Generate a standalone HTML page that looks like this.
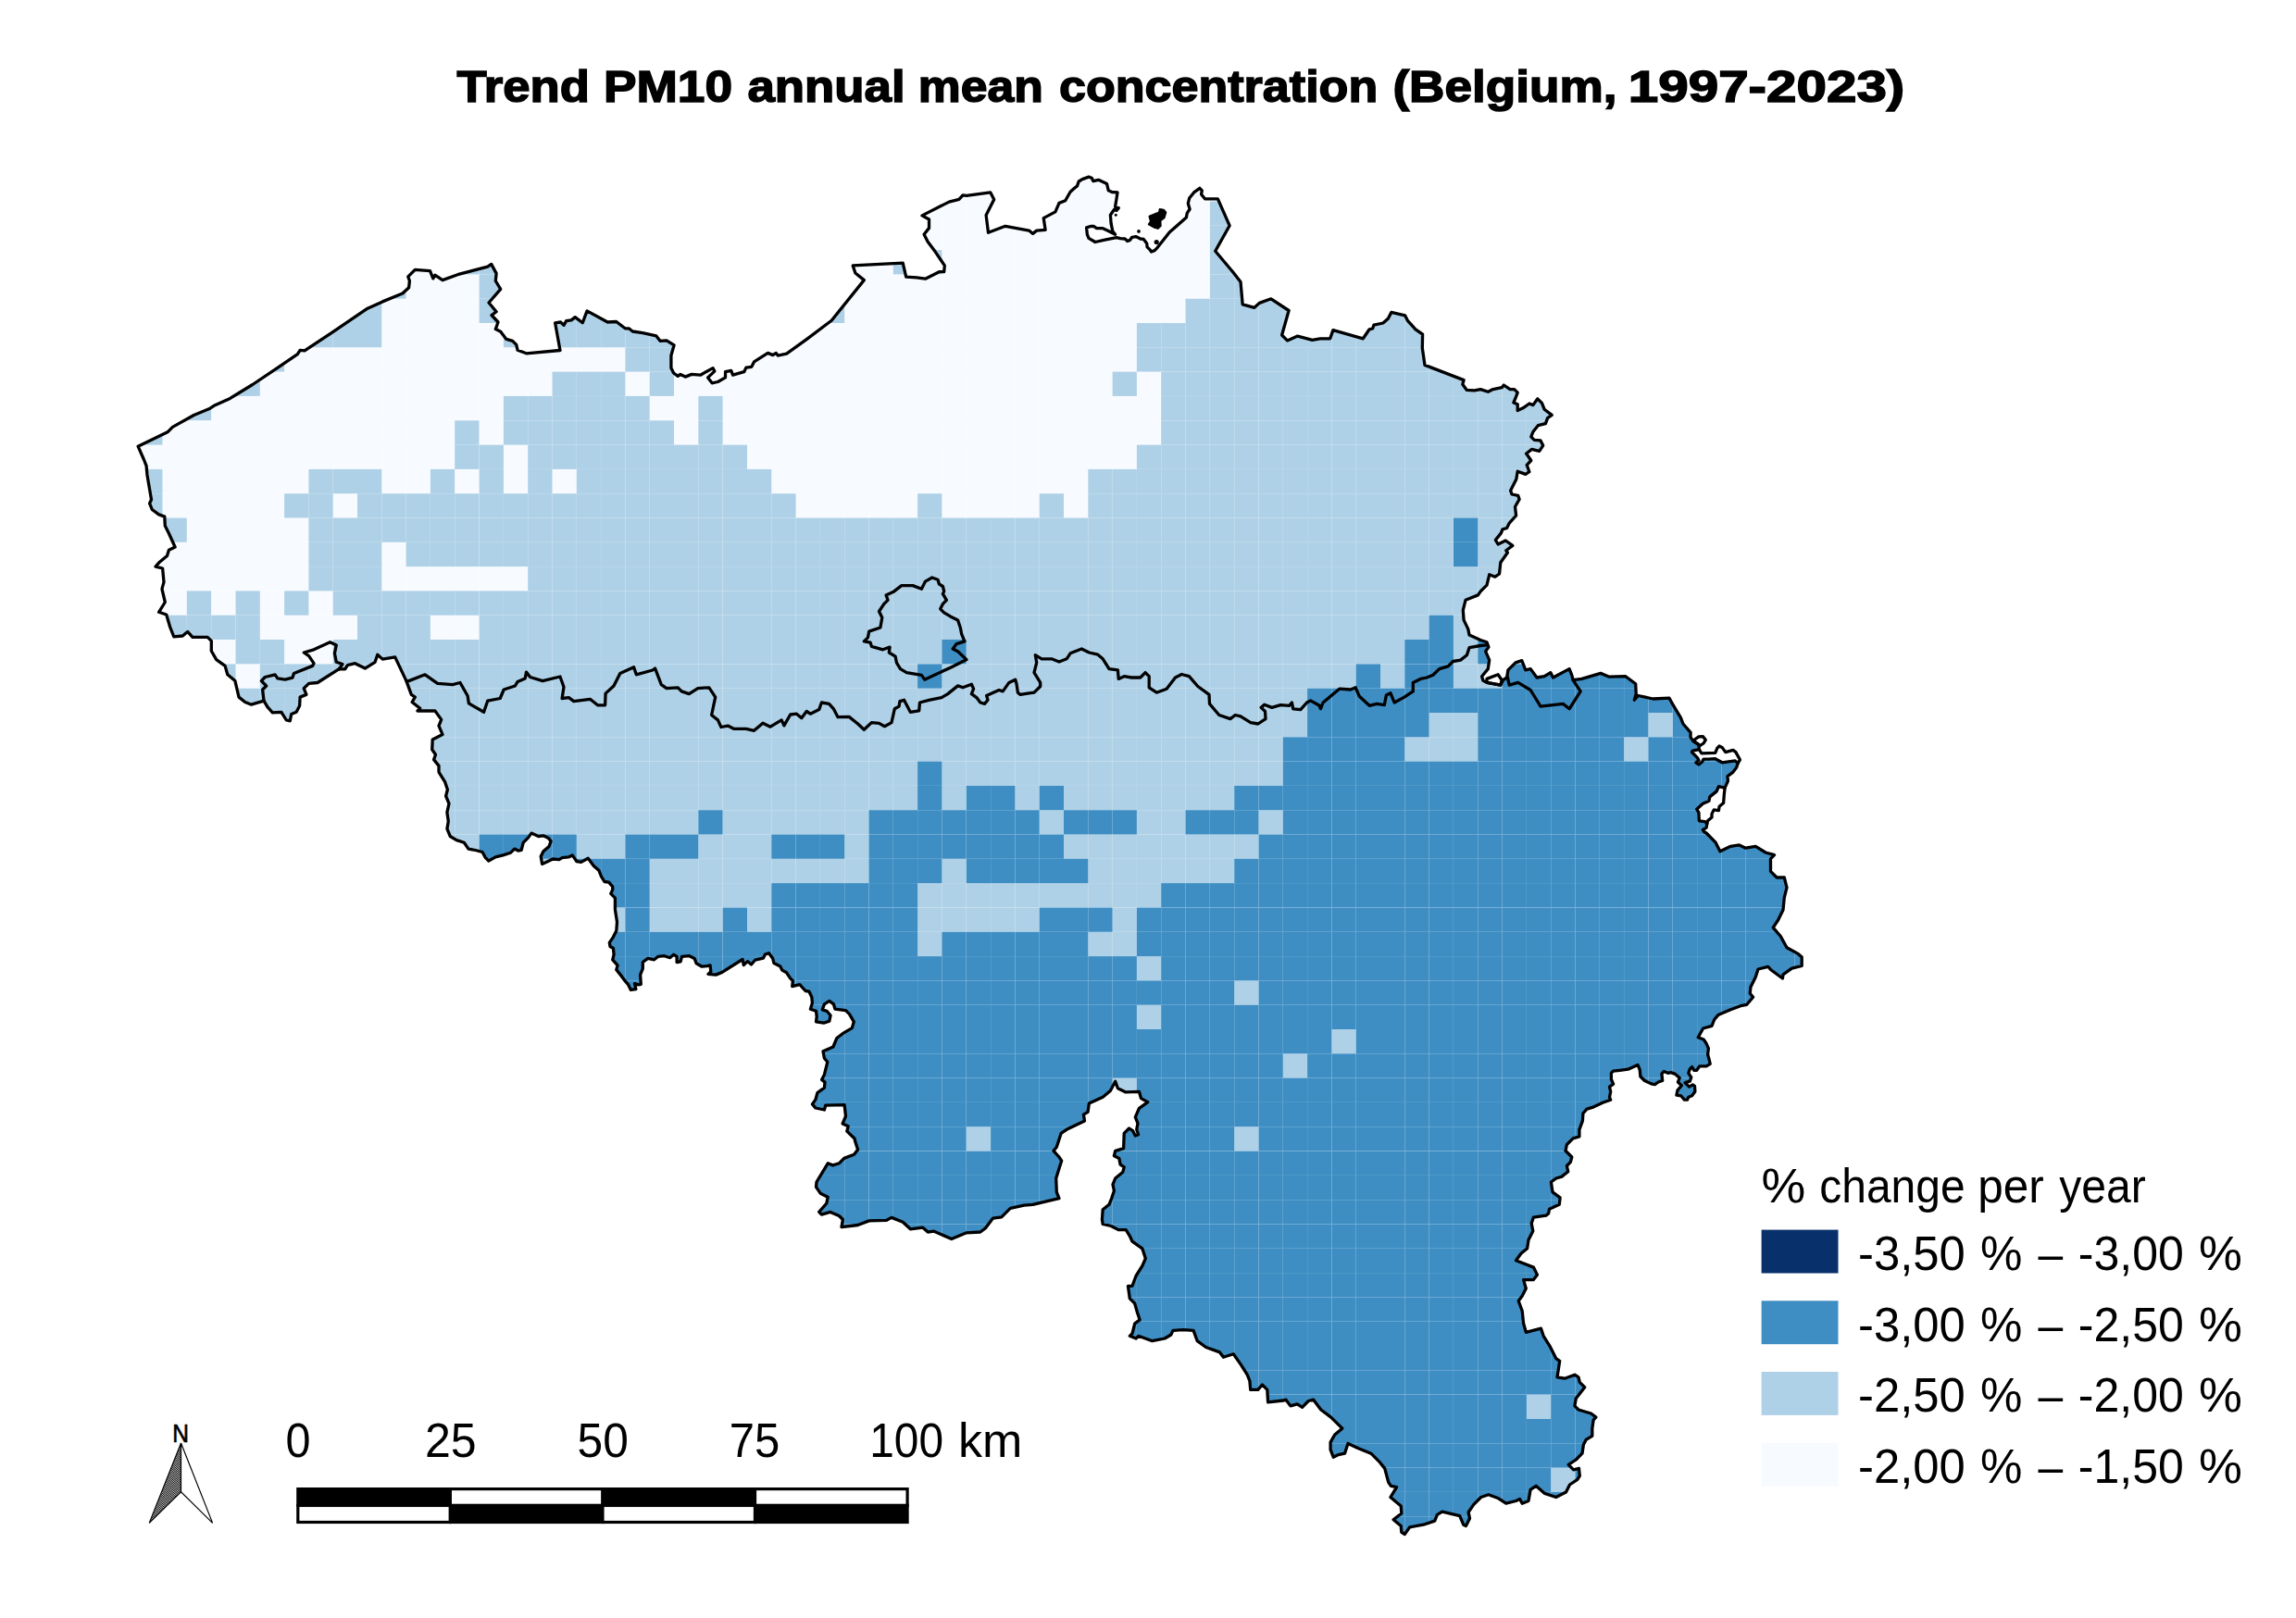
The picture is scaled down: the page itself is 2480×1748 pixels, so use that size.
<!DOCTYPE html>
<html><head><meta charset="utf-8"><title>Trend PM10 annual mean concentration (Belgium, 1997-2023)</title>
<style>html,body{margin:0;padding:0;background:#fff}svg{display:block}text{font-family:"Liberation Sans",sans-serif;fill:#000}</style>
</head><body>
<svg width="2480" height="1748" viewBox="0 0 2480 1748">
<rect width="2480" height="1748" fill="#fff"/>
<defs><clipPath id="be"><path d="M149.1,482.2 155.4,496.5 158.1,503.3 158.9,512.7 163.5,539.7 161.6,543.8 164.3,550.5 171.6,555.9 177.8,558.1 178.3,568.1 182.4,576.2 189.1,591.0 182.4,594.3 180.5,600.5 172.4,607.2 168.0,612.1 175.6,614.0 177.0,628.9 175.1,635.6 175.1,637.0 178.3,650.5 171.6,661.3 179.7,664.0 183.7,677.5 187.8,687.8 197.2,687.0 202.6,682.4 208.0,688.3 224.2,688.3 228.3,692.4 228.3,703.2 233.7,712.6 243.1,719.4 245.8,728.8 253.9,735.6 258.0,753.1 264.7,758.5 271.5,761.2 285.0,757.2 289.0,763.9 294.4,769.9 303.9,769.3 309.3,778.0 313.3,778.8 314.7,771.5 320.1,769.3 323.6,762.6 324.1,753.1 330.9,750.4 328.2,743.7 333.6,738.3 343.0,737.5 366.0,722.9 372.7,722.9 375.4,718.6 383.5,716.7 394.3,722.1 405.1,715.3 407.8,707.2 413.2,712.1 426.7,709.9 438.9,735.6 444.3,750.4 448.3,753.1 445.1,758.5 453.7,765.3 451.0,768.0 469.9,768.0 476.7,777.4 474.0,784.2 478.0,793.6 467.2,799.0 466.7,809.8 470.5,815.2 468.6,820.6 474.0,827.4 474.0,834.1 480.7,844.9 483.4,853.0 481.6,860.0 485.0,868.2 482.9,877.7 484.3,887.2 482.9,895.4 486.3,903.5 493.1,907.6 501.3,910.3 506.0,917.1 513.5,918.5 521.0,920.5 524.4,926.6 527.8,930.0 535.3,925.9 543.4,923.9 551.6,921.2 555.7,917.1 559.7,919.1 563.1,918.5 565.2,910.3 570.6,904.9 574.0,900.1 581.5,903.5 586.9,902.8 592.4,905.5 595.1,908.9 593.0,914.4 586.9,919.8 584.2,925.3 585.6,933.4 593.0,930.0 597.1,928.0 603.9,928.7 607.3,926.6 614.1,925.9 618.2,923.9 623.0,930.7 627.7,931.4 635.2,927.3 641.3,935.5 646.8,940.2 649.5,947.0 652.9,952.5 657.6,953.1 661.7,957.9 661.7,961.3 659.7,965.4 664.4,970.1 664.4,982.4 666.5,996.0 665.8,1005.5 662.4,1012.3 658.3,1018.4 659.0,1022.5 662.4,1024.5 663.1,1031.3 661.7,1036.8 667.1,1042.9 665.8,1047.6 671.2,1054.4 675.3,1059.9 678.7,1063.9 681.4,1069.4 686.9,1068.7 685.5,1062.6 689.6,1063.9 692.3,1063.3 691.6,1053.1 694.3,1046.3 694.3,1039.5 699.8,1035.4 706.6,1036.8 710.7,1033.4 717.5,1032.7 723.6,1034.7 727.7,1031.3 731.1,1033.4 731.1,1039.5 735.1,1038.8 736.5,1033.4 744.6,1032.7 750.1,1035.4 752.1,1040.8 758.2,1044.2 763.7,1043.6 767.1,1042.9 767.8,1049.7 765.0,1052.4 773.2,1053.1 780.0,1050.4 802.0,1036.5 803.3,1042.6 807.4,1038.6 811.5,1042.0 815.6,1037.2 824.4,1035.2 826.4,1031.1 830.5,1029.7 834.6,1035.2 836.0,1040.6 842.8,1044.0 844.8,1048.1 849.6,1050.8 853.6,1056.9 856.4,1059.6 855.7,1065.7 863.8,1063.7 870.0,1070.5 874.0,1071.2 876.8,1077.3 877.4,1083.4 875.4,1090.2 881.5,1092.3 882.2,1098.4 881.5,1103.8 889.7,1105.2 895.8,1103.1 897.1,1097.0 893.1,1092.3 888.3,1090.9 890.4,1084.8 895.8,1081.4 900.5,1084.8 901.9,1090.2 913.5,1091.6 917.5,1095.7 922.3,1103.8 920.3,1110.6 910.1,1116.7 903.9,1121.5 899.9,1131.0 889.0,1135.8 890.4,1143.2 893.8,1147.3 890.4,1160.9 887.6,1166.4 891.0,1169.1 890.4,1175.2 882.9,1180.6 880.8,1188.1 877.4,1192.9 880.8,1197.0 890.4,1199.0 891.7,1194.2 912.1,1193.6 913.5,1205.8 910.1,1213.9 916.2,1216.7 914.8,1222.1 923.0,1230.0 923.9,1233.8 926.6,1241.9 922.5,1247.3 911.7,1251.4 906.3,1256.8 899.6,1258.9 894.2,1256.8 882.0,1277.0 881.5,1282.4 886.1,1289.2 894.2,1293.2 892.8,1300.0 884.7,1309.4 887.4,1312.1 896.9,1309.4 906.3,1313.5 910.4,1317.5 909.0,1325.6 926.6,1323.5 938.7,1318.9 957.6,1318.3 963.0,1315.4 975.2,1320.2 983.3,1327.8 996.8,1326.2 1002.2,1331.0 1008.9,1330.2 1027.8,1338.6 1044.0,1331.8 1058.9,1331.0 1064.3,1327.0 1072.4,1316.2 1081.8,1314.8 1091.3,1305.4 1106.1,1302.1 1115.6,1301.3 1144.0,1294.6 1141.3,1287.8 1140.7,1273.0 1144.5,1260.8 1146.7,1254.1 1144.0,1250.0 1138.0,1243.3 1141.3,1239.2 1146.1,1224.4 1152.1,1220.3 1171.5,1210.9 1170.4,1204.1 1175.0,1201.4 1176.4,1192.0 1191.2,1185.2 1199.3,1178.5 1204.7,1168.2 1207.4,1175.8 1215.5,1179.8 1230.4,1179.3 1232.5,1186.6 1239.8,1190.6 1230.4,1197.4 1226.3,1206.8 1229.0,1213.6 1227.7,1220.3 1229.6,1225.7 1226.3,1227.1 1223.6,1221.7 1219.6,1219.0 1214.2,1224.4 1213.6,1240.6 1204.7,1243.3 1203.4,1248.7 1208.8,1251.4 1210.1,1258.1 1214.2,1260.8 1212.8,1266.2 1204.7,1273.0 1202.0,1279.7 1203.4,1286.5 1200.7,1294.6 1198.0,1301.3 1191.2,1306.7 1190.4,1317.5 1191.2,1322.4 1200.0,1324.5 1208.1,1328.6 1216.2,1328.6 1220.3,1335.3 1223.0,1341.2 1233.8,1348.8 1237.3,1359.6 1233.8,1367.7 1227.0,1378.5 1223.0,1389.3 1218.4,1389.3 1220.3,1402.8 1225.7,1408.2 1228.4,1417.7 1231.1,1425.8 1225.7,1429.8 1223.0,1440.6 1220.3,1443.3 1227.0,1446.0 1229.7,1443.3 1244.6,1448.7 1258.1,1446.0 1264.8,1442.0 1267.0,1437.4 1278.3,1436.6 1289.1,1437.4 1293.2,1448.7 1302.6,1455.5 1317.5,1460.9 1321.5,1466.3 1332.3,1462.8 1340.4,1474.4 1347.2,1485.2 1349.9,1491.9 1350.7,1501.4 1358.8,1501.4 1363.4,1496.0 1368.8,1501.4 1369.6,1514.9 1386.3,1513.0 1389.0,1512.2 1393.9,1518.9 1401.2,1516.8 1406.6,1520.3 1413.3,1513.5 1418.7,1512.2 1426.8,1523.0 1437.6,1531.1 1449.8,1543.2 1441.7,1550.0 1437.1,1558.1 1437.1,1566.2 1440.3,1574.3 1445.7,1571.6 1452.5,1570.2 1456.0,1559.4 1467.3,1564.8 1480.8,1570.2 1490.3,1579.7 1495.7,1586.4 1499.7,1601.3 1502.4,1605.3 1508.6,1606.7 1501.9,1617.5 1513.2,1626.9 1513.8,1635.0 1505.1,1641.8 1513.2,1648.5 1513.8,1655.3 1517.3,1657.5 1522.7,1649.9 1537.5,1647.2 1549.7,1643.1 1552.4,1636.4 1557.8,1633.2 1576.7,1637.7 1580.7,1647.2 1583.4,1648.5 1587.5,1640.4 1586.1,1633.7 1591.6,1625.6 1599.7,1617.5 1607.8,1614.8 1618.6,1618.8 1626.7,1624.2 1637.5,1621.5 1641.5,1619.4 1644.2,1624.2 1651.0,1621.5 1653.1,1609.4 1659.1,1605.3 1668.5,1613.4 1680.7,1617.5 1691.5,1612.1 1695.5,1604.0 1703.6,1598.6 1706.3,1594.5 1705.5,1586.4 1699.6,1587.8 1694.2,1582.4 1702.3,1577.0 1709.0,1570.2 1710.4,1560.8 1713.1,1555.4 1719.8,1551.3 1719.8,1543.2 1721.2,1533.8 1723.9,1531.1 1718.5,1527.0 1705.0,1523.0 1700.9,1518.9 1702.3,1510.8 1711.7,1498.7 1706.3,1493.3 1705.0,1487.9 1700.9,1485.2 1690.1,1489.2 1682.0,1487.9 1684.7,1470.3 1680.7,1467.6 1673.9,1454.1 1667.2,1443.3 1664.5,1435.2 1648.3,1439.3 1645.6,1429.8 1644.2,1416.3 1640.2,1405.5 1644.2,1400.1 1648.3,1392.0 1645.6,1382.6 1656.4,1382.6 1660.4,1377.2 1656.4,1369.1 1637.5,1361.8 1642.9,1354.2 1649.6,1348.8 1651.0,1339.4 1655.8,1329.9 1654.2,1321.8 1656.4,1315.1 1669.9,1313.2 1672.6,1311.0 1673.5,1306.2 1684.3,1301.3 1685.1,1293.8 1677.0,1287.8 1675.4,1277.0 1680.8,1273.0 1687.0,1271.1 1693.7,1265.7 1692.4,1259.5 1696.4,1255.4 1697.8,1250.0 1691.0,1243.3 1692.4,1236.5 1699.1,1229.8 1705.9,1227.9 1705.9,1220.3 1709.4,1210.9 1709.9,1202.8 1714.0,1198.2 1720.0,1196.4 1731.1,1191.2 1739.7,1188.2 1738.5,1185.3 1739.7,1179.3 1738.5,1174.1 1742.6,1171.2 1740.4,1166.0 1740.4,1159.3 1742.3,1157.1 1749.7,1156.3 1758.6,1155.2 1764.5,1152.6 1769.0,1150.4 1771.2,1155.6 1771.9,1163.0 1776.4,1167.5 1784.5,1171.2 1787.5,1171.6 1791.2,1169.0 1795.7,1167.5 1794.9,1160.1 1797.1,1157.5 1801.6,1159.3 1804.6,1158.6 1809.0,1160.1 1814.2,1164.5 1812.4,1169.0 1816.4,1172.7 1812.0,1177.9 1810.9,1183.1 1815.7,1183.8 1819.4,1188.2 1822.4,1188.2 1823.8,1185.3 1827.6,1183.8 1830.9,1179.3 1830.5,1173.4 1828.3,1171.9 1824.6,1174.1 1820.1,1169.7 1825.3,1168.2 1826.8,1163.8 1823.8,1159.3 1825.3,1154.9 1827.6,1152.6 1829.8,1156.3 1832.7,1156.3 1835.7,1151.9 1843.1,1151.9 1847.2,1149.3 1846.1,1144.5 1844.6,1139.3 1845.4,1132.6 1843.1,1127.4 1840.2,1123.0 1834.2,1120.7 1839.6,1111.0 1849.0,1108.3 1851.7,1101.5 1855.8,1096.6 1869.3,1090.7 1880.1,1086.7 1886.8,1085.3 1893.6,1077.2 1890.3,1073.2 1890.9,1066.4 1896.3,1055.6 1899.0,1047.0 1909.8,1044.3 1912.5,1047.5 1925.4,1057.0 1926.0,1052.9 1935.4,1046.2 1946.2,1043.5 1946.2,1034.0 1942.2,1030.4 1930.0,1023.7 1923.3,1011.5 1915.2,1002.1 1920.6,994.0 1926.0,983.1 1927.3,969.6 1930.0,958.8 1927.3,948.0 1919.2,948.0 1912.5,941.3 1912.5,927.8 1916.5,923.7 1907.1,921.0 1896.3,914.3 1885.5,916.2 1878.7,912.9 1869.3,914.3 1857.9,919.7 1853.1,910.2 1843.1,900.0 1840.8,898.7 1839.3,896.5 1843.1,894.2 1843.8,889.8 1841.6,887.6 1835.3,886.8 1834.9,877.9 1832.7,874.2 1839.3,868.3 1846.0,865.3 1846.8,860.9 1854.2,854.9 1856.4,849.7 1863.1,851.2 1866.4,843.8 1866.0,838.6 1872.0,834.1 1875.7,829.0 1877.2,824.5 1874.2,821.9 1860.1,823.8 1852.7,819.7 1845.3,820.1 1840.1,820.1 1838.6,823.0 1834.9,826.0 1831.9,823.8 1834.9,821.5 1833.4,818.6 1827.5,812.6 1828.2,811.2 1835.3,809.7 1834.9,804.5 1829.0,800.8 1826.0,796.3 1826.1,791.4 1818.0,782.0 1815.3,775.2 1807.2,761.7 1803.1,754.2 1785.6,755.0 1769.4,751.5 1765.3,756.3 1767.2,749.6 1766.7,738.8 1755.9,730.7 1738.3,731.2 1728.9,727.4 1708.6,733.4 1699.1,734.7 1697.8,729.3 1695.1,722.6 1677.5,732.0 1674.8,726.6 1668.1,730.7 1660.0,732.0 1653.2,722.6 1647.8,723.9 1643.8,713.7 1637.0,715.8 1628.9,723.9 1627.6,732.0 1623.5,734.7 1620.8,740.1 1606.0,737.4 1601.9,735.3 1600.6,730.7 1607.3,722.6 1608.7,713.1 1604.6,703.7 1607.9,699.1 1606.0,693.7 1599.2,691.5 1587.1,686.1 1585.7,679.4 1581.1,669.9 1580.3,659.1 1583.0,648.3 1596.5,642.9 1599.2,638.9 1606.0,632.1 1608.7,620.8 1614.9,623.2 1619.5,620.0 1620.8,607.8 1628.4,597.0 1626.8,594.8 1633.8,589.4 1626.2,584.0 1618.1,588.0 1615.4,583.4 1621.4,575.9 1623.0,571.8 1627.6,570.5 1630.3,565.1 1637.6,557.0 1636.5,547.5 1641.1,539.4 1639.7,535.3 1633.0,534.0 1631.6,529.9 1637.8,517.8 1639.2,509.2 1647.8,512.4 1651.9,509.7 1649.2,502.4 1653.8,497.5 1648.6,490.0 1654.6,485.4 1662.7,487.3 1666.7,481.3 1664.0,475.9 1657.3,475.4 1653.8,471.9 1655.9,466.5 1661.3,459.7 1669.4,457.6 1671.6,451.6 1676.2,448.4 1668.1,442.2 1665.4,435.4 1660.8,430.8 1655.9,437.6 1651.9,436.0 1645.1,440.8 1639.2,443.5 1639.2,436.8 1634.9,434.9 1637.0,430.0 1639.2,424.1 1635.7,420.6 1631.1,420.6 1624.3,416.0 1622.2,418.7 1612.7,420.6 1607.3,423.3 1599.2,420.6 1592.5,421.9 1584.4,421.4 1579.8,415.2 1581.1,410.6 1539.0,394.4 1536.3,376.0 1536.6,361.2 1529.0,355.8 1520.4,346.3 1517.7,340.9 1502.8,337.4 1499.3,344.2 1493.9,349.0 1483.9,351.2 1482.6,355.0 1479.1,355.8 1472.3,365.8 1439.9,356.6 1436.7,365.8 1425.9,365.8 1417.5,367.4 1401.6,363.1 1390.5,367.9 1384.6,362.0 1392.1,335.5 1372.9,322.8 1360.3,327.4 1354.9,332.3 1342.2,328.8 1340.0,304.5 1331.6,293.7 1312.7,271.3 1328.1,243.7 1315.4,214.8 1301.5,214.8 1297.6,210.0 1298.3,205.8 1295.9,203.3 1289.6,207.9 1284.7,214.1 1283.3,219.7 1285.1,226.0 1282.3,230.2 1281.3,235.1 1263.1,251.1 1249.9,267.8 1247.1,270.6 1243.6,272.0 1242.2,269.9 1239.1,266.8 1238.7,262.9 1235.3,258.4 1231.8,258.0 1226.9,255.6 1222.7,256.3 1220.6,259.4 1217.8,260.5 1215.1,258.0 1210.2,257.7 1206.0,256.7 1193.4,259.1 1183.0,261.5 1176.0,257.4 1174.3,253.2 1173.6,245.9 1178.1,244.5 1181.6,244.5 1184.4,246.6 1190.7,246.6 1196.2,249.0 1204.6,253.2 1201.8,249.7 1200.1,241.3 1199.4,232.3 1203.6,226.3 1206.0,227.4 1208.1,224.6 1204.6,223.2 1206.0,214.8 1207.0,207.9 1201.1,207.5 1197.3,205.8 1195.5,198.5 1186.5,194.3 1180.9,195.7 1179.2,192.2 1176.0,191.1 1169.1,193.6 1165.2,196.0 1163.5,200.9 1160.0,203.7 1156.1,207.3 1150.7,216.7 1144.0,219.4 1139.9,228.9 1127.2,235.6 1129.1,248.3 1119.7,249.1 1115.6,252.4 1111.6,249.1 1085.9,244.3 1067.5,251.3 1065.1,232.4 1073.7,215.4 1069.7,207.8 1044.0,211.3 1040.0,210.8 1035.9,215.4 1025.1,218.1 996.0,232.9 1003.5,237.0 1003.5,246.4 998.1,253.2 1002.2,261.3 1010.3,272.1 1020.3,286.9 1019.7,293.7 1014.3,293.7 999.5,301.2 990.0,299.9 978.7,299.1 975.2,284.2 921.2,286.9 923.9,295.0 933.3,302.6 898.2,346.3 871.2,366.6 849.6,382.2 840.2,384.1 838.3,381.4 834.8,383.6 829.4,381.4 814.5,390.9 811.8,396.3 805.9,397.1 803.7,401.7 791.6,405.2 789.7,400.3 783.5,401.7 783.5,407.9 775.4,412.5 769.1,413.8 764.6,407.9 771.8,401.1 770.0,397.6 756.5,405.2 747.0,404.4 740.3,407.1 734.9,404.4 732.2,406.3 727.6,403.0 724.9,397.6 724.9,384.1 728.1,372.8 720.0,367.9 713.0,368.3 708.9,362.9 694.1,359.6 683.3,358.0 679.2,354.8 675.2,354.8 665.7,347.5 656.3,348.0 634.1,335.9 632.0,341.3 629.3,348.8 621.2,342.6 617.1,345.9 611.7,346.7 609.0,351.3 605.5,348.0 599.6,348.8 605.0,378.5 568.5,381.8 559.1,378.3 557.7,372.3 553.7,368.3 546.9,366.4 540.7,358.3 535.3,355.6 538.0,348.0 531.0,340.5 536.1,336.7 528.0,327.0 540.7,312.4 535.3,303.5 536.1,295.4 530.7,285.4 526.7,288.1 494.3,296.7 478.0,302.6 469.9,297.2 467.8,300.8 464.5,292.7 448.3,291.3 440.8,298.9 442.4,303.5 441.6,310.7 434.8,317.0 413.2,325.9 397.0,333.2 359.2,358.8 329.0,378.8 324.1,378.3 321.4,382.6 299.8,397.4 272.8,415.5 248.5,430.4 232.3,437.7 226.9,441.2 209.4,448.5 186.4,461.4 181.0,466.8 149.1,482.2Z " clip-rule="evenodd"/></clipPath>
<pattern id="hatch" width="1.5" height="1.5" patternUnits="userSpaceOnUse" patternTransform="rotate(-35)"><rect width="1.5" height="1.5" fill="#fff"/><rect width="1.5" height="0.9" fill="#000"/></pattern>
</defs>
<g clip-path="url(#be)">
<g fill="#f7fbff"><rect x="1175.3" y="164.8" width="26.3" height="26.3"/><rect x="1017.4" y="191.2" width="26.3" height="26.3"/><rect x="1043.8" y="191.2" width="26.3" height="26.3"/><rect x="1070.1" y="191.2" width="26.3" height="26.3"/><rect x="1122.7" y="191.2" width="26.3" height="26.3"/><rect x="1149.0" y="191.2" width="26.3" height="26.3"/><rect x="1175.3" y="191.2" width="26.3" height="26.3"/><rect x="1201.6" y="191.2" width="26.3" height="26.3"/><rect x="1280.5" y="191.2" width="26.3" height="26.3"/><rect x="1306.9" y="191.2" width="26.3" height="26.3"/><rect x="991.1" y="217.5" width="26.3" height="26.3"/><rect x="1017.4" y="217.5" width="26.3" height="26.3"/><rect x="1043.8" y="217.5" width="26.3" height="26.3"/><rect x="1070.1" y="217.5" width="26.3" height="26.3"/><rect x="1122.7" y="217.5" width="26.3" height="26.3"/><rect x="1149.0" y="217.5" width="26.3" height="26.3"/><rect x="1175.3" y="217.5" width="26.3" height="26.3"/><rect x="1201.6" y="217.5" width="26.3" height="26.3"/><rect x="1254.2" y="217.5" width="26.3" height="26.3"/><rect x="1280.5" y="217.5" width="26.3" height="26.3"/><rect x="991.1" y="243.8" width="26.3" height="26.3"/><rect x="1017.4" y="243.8" width="26.3" height="26.3"/><rect x="1043.8" y="243.8" width="26.3" height="26.3"/><rect x="1070.1" y="243.8" width="26.3" height="26.3"/><rect x="1096.4" y="243.8" width="26.3" height="26.3"/><rect x="1122.7" y="243.8" width="26.3" height="26.3"/><rect x="1149.0" y="243.8" width="26.3" height="26.3"/><rect x="1175.3" y="243.8" width="26.3" height="26.3"/><rect x="1201.6" y="243.8" width="26.3" height="26.3"/><rect x="1227.9" y="243.8" width="26.3" height="26.3"/><rect x="1254.2" y="243.8" width="26.3" height="26.3"/><rect x="1280.5" y="243.8" width="26.3" height="26.3"/><rect x="438.6" y="270.1" width="26.3" height="26.3"/><rect x="464.9" y="270.1" width="26.3" height="26.3"/><rect x="912.2" y="270.1" width="26.3" height="26.3"/><rect x="938.5" y="270.1" width="26.3" height="26.3"/><rect x="1017.4" y="270.1" width="26.3" height="26.3"/><rect x="1043.8" y="270.1" width="26.3" height="26.3"/><rect x="1070.1" y="270.1" width="26.3" height="26.3"/><rect x="1096.4" y="270.1" width="26.3" height="26.3"/><rect x="1122.7" y="270.1" width="26.3" height="26.3"/><rect x="1149.0" y="270.1" width="26.3" height="26.3"/><rect x="1175.3" y="270.1" width="26.3" height="26.3"/><rect x="1201.6" y="270.1" width="26.3" height="26.3"/><rect x="1227.9" y="270.1" width="26.3" height="26.3"/><rect x="1254.2" y="270.1" width="26.3" height="26.3"/><rect x="1280.5" y="270.1" width="26.3" height="26.3"/><rect x="438.6" y="296.4" width="26.3" height="26.3"/><rect x="464.9" y="296.4" width="26.3" height="26.3"/><rect x="491.2" y="296.4" width="26.3" height="26.3"/><rect x="912.2" y="296.4" width="26.3" height="26.3"/><rect x="938.5" y="296.4" width="26.3" height="26.3"/><rect x="964.8" y="296.4" width="26.3" height="26.3"/><rect x="991.1" y="296.4" width="26.3" height="26.3"/><rect x="1017.4" y="296.4" width="26.3" height="26.3"/><rect x="1043.8" y="296.4" width="26.3" height="26.3"/><rect x="1070.1" y="296.4" width="26.3" height="26.3"/><rect x="1096.4" y="296.4" width="26.3" height="26.3"/><rect x="1122.7" y="296.4" width="26.3" height="26.3"/><rect x="1149.0" y="296.4" width="26.3" height="26.3"/><rect x="1175.3" y="296.4" width="26.3" height="26.3"/><rect x="1201.6" y="296.4" width="26.3" height="26.3"/><rect x="1227.9" y="296.4" width="26.3" height="26.3"/><rect x="1254.2" y="296.4" width="26.3" height="26.3"/><rect x="1280.5" y="296.4" width="26.3" height="26.3"/><rect x="412.3" y="322.7" width="26.3" height="26.3"/><rect x="438.6" y="322.7" width="26.3" height="26.3"/><rect x="464.9" y="322.7" width="26.3" height="26.3"/><rect x="491.2" y="322.7" width="26.3" height="26.3"/><rect x="912.2" y="322.7" width="26.3" height="26.3"/><rect x="938.5" y="322.7" width="26.3" height="26.3"/><rect x="964.8" y="322.7" width="26.3" height="26.3"/><rect x="991.1" y="322.7" width="26.3" height="26.3"/><rect x="1017.4" y="322.7" width="26.3" height="26.3"/><rect x="1043.8" y="322.7" width="26.3" height="26.3"/><rect x="1070.1" y="322.7" width="26.3" height="26.3"/><rect x="1096.4" y="322.7" width="26.3" height="26.3"/><rect x="1122.7" y="322.7" width="26.3" height="26.3"/><rect x="1149.0" y="322.7" width="26.3" height="26.3"/><rect x="1175.3" y="322.7" width="26.3" height="26.3"/><rect x="1201.6" y="322.7" width="26.3" height="26.3"/><rect x="1227.9" y="322.7" width="26.3" height="26.3"/><rect x="1254.2" y="322.7" width="26.3" height="26.3"/><rect x="412.3" y="349.0" width="26.3" height="26.3"/><rect x="438.6" y="349.0" width="26.3" height="26.3"/><rect x="464.9" y="349.0" width="26.3" height="26.3"/><rect x="491.2" y="349.0" width="26.3" height="26.3"/><rect x="517.6" y="349.0" width="26.3" height="26.3"/><rect x="728.0" y="349.0" width="26.3" height="26.3"/><rect x="833.3" y="349.0" width="26.3" height="26.3"/><rect x="859.6" y="349.0" width="26.3" height="26.3"/><rect x="885.9" y="349.0" width="26.3" height="26.3"/><rect x="912.2" y="349.0" width="26.3" height="26.3"/><rect x="938.5" y="349.0" width="26.3" height="26.3"/><rect x="964.8" y="349.0" width="26.3" height="26.3"/><rect x="991.1" y="349.0" width="26.3" height="26.3"/><rect x="1017.4" y="349.0" width="26.3" height="26.3"/><rect x="1043.8" y="349.0" width="26.3" height="26.3"/><rect x="1070.1" y="349.0" width="26.3" height="26.3"/><rect x="1096.4" y="349.0" width="26.3" height="26.3"/><rect x="1122.7" y="349.0" width="26.3" height="26.3"/><rect x="1149.0" y="349.0" width="26.3" height="26.3"/><rect x="1175.3" y="349.0" width="26.3" height="26.3"/><rect x="1201.6" y="349.0" width="26.3" height="26.3"/><rect x="307.1" y="375.3" width="26.3" height="26.3"/><rect x="333.4" y="375.3" width="26.3" height="26.3"/><rect x="359.7" y="375.3" width="26.3" height="26.3"/><rect x="386.0" y="375.3" width="26.3" height="26.3"/><rect x="412.3" y="375.3" width="26.3" height="26.3"/><rect x="438.6" y="375.3" width="26.3" height="26.3"/><rect x="464.9" y="375.3" width="26.3" height="26.3"/><rect x="491.2" y="375.3" width="26.3" height="26.3"/><rect x="517.6" y="375.3" width="26.3" height="26.3"/><rect x="543.9" y="375.3" width="26.3" height="26.3"/><rect x="570.2" y="375.3" width="26.3" height="26.3"/><rect x="596.5" y="375.3" width="26.3" height="26.3"/><rect x="622.8" y="375.3" width="26.3" height="26.3"/><rect x="649.1" y="375.3" width="26.3" height="26.3"/><rect x="754.3" y="375.3" width="26.3" height="26.3"/><rect x="780.7" y="375.3" width="26.3" height="26.3"/><rect x="807.0" y="375.3" width="26.3" height="26.3"/><rect x="833.3" y="375.3" width="26.3" height="26.3"/><rect x="859.6" y="375.3" width="26.3" height="26.3"/><rect x="885.9" y="375.3" width="26.3" height="26.3"/><rect x="912.2" y="375.3" width="26.3" height="26.3"/><rect x="938.5" y="375.3" width="26.3" height="26.3"/><rect x="964.8" y="375.3" width="26.3" height="26.3"/><rect x="991.1" y="375.3" width="26.3" height="26.3"/><rect x="1017.4" y="375.3" width="26.3" height="26.3"/><rect x="1043.8" y="375.3" width="26.3" height="26.3"/><rect x="1070.1" y="375.3" width="26.3" height="26.3"/><rect x="1096.4" y="375.3" width="26.3" height="26.3"/><rect x="1122.7" y="375.3" width="26.3" height="26.3"/><rect x="1149.0" y="375.3" width="26.3" height="26.3"/><rect x="1175.3" y="375.3" width="26.3" height="26.3"/><rect x="1201.6" y="375.3" width="26.3" height="26.3"/><rect x="280.8" y="401.6" width="26.3" height="26.3"/><rect x="307.1" y="401.6" width="26.3" height="26.3"/><rect x="333.4" y="401.6" width="26.3" height="26.3"/><rect x="359.7" y="401.6" width="26.3" height="26.3"/><rect x="386.0" y="401.6" width="26.3" height="26.3"/><rect x="412.3" y="401.6" width="26.3" height="26.3"/><rect x="438.6" y="401.6" width="26.3" height="26.3"/><rect x="464.9" y="401.6" width="26.3" height="26.3"/><rect x="491.2" y="401.6" width="26.3" height="26.3"/><rect x="517.6" y="401.6" width="26.3" height="26.3"/><rect x="543.9" y="401.6" width="26.3" height="26.3"/><rect x="570.2" y="401.6" width="26.3" height="26.3"/><rect x="675.4" y="401.6" width="26.3" height="26.3"/><rect x="728.0" y="401.6" width="26.3" height="26.3"/><rect x="754.3" y="401.6" width="26.3" height="26.3"/><rect x="780.7" y="401.6" width="26.3" height="26.3"/><rect x="807.0" y="401.6" width="26.3" height="26.3"/><rect x="833.3" y="401.6" width="26.3" height="26.3"/><rect x="859.6" y="401.6" width="26.3" height="26.3"/><rect x="885.9" y="401.6" width="26.3" height="26.3"/><rect x="912.2" y="401.6" width="26.3" height="26.3"/><rect x="938.5" y="401.6" width="26.3" height="26.3"/><rect x="964.8" y="401.6" width="26.3" height="26.3"/><rect x="991.1" y="401.6" width="26.3" height="26.3"/><rect x="1017.4" y="401.6" width="26.3" height="26.3"/><rect x="1043.8" y="401.6" width="26.3" height="26.3"/><rect x="1070.1" y="401.6" width="26.3" height="26.3"/><rect x="1096.4" y="401.6" width="26.3" height="26.3"/><rect x="1122.7" y="401.6" width="26.3" height="26.3"/><rect x="1149.0" y="401.6" width="26.3" height="26.3"/><rect x="1175.3" y="401.6" width="26.3" height="26.3"/><rect x="1227.9" y="401.6" width="26.3" height="26.3"/><rect x="228.2" y="427.9" width="26.3" height="26.3"/><rect x="254.5" y="427.9" width="26.3" height="26.3"/><rect x="280.8" y="427.9" width="26.3" height="26.3"/><rect x="307.1" y="427.9" width="26.3" height="26.3"/><rect x="333.4" y="427.9" width="26.3" height="26.3"/><rect x="359.7" y="427.9" width="26.3" height="26.3"/><rect x="386.0" y="427.9" width="26.3" height="26.3"/><rect x="412.3" y="427.9" width="26.3" height="26.3"/><rect x="438.6" y="427.9" width="26.3" height="26.3"/><rect x="464.9" y="427.9" width="26.3" height="26.3"/><rect x="491.2" y="427.9" width="26.3" height="26.3"/><rect x="517.6" y="427.9" width="26.3" height="26.3"/><rect x="701.7" y="427.9" width="26.3" height="26.3"/><rect x="728.0" y="427.9" width="26.3" height="26.3"/><rect x="780.7" y="427.9" width="26.3" height="26.3"/><rect x="807.0" y="427.9" width="26.3" height="26.3"/><rect x="833.3" y="427.9" width="26.3" height="26.3"/><rect x="859.6" y="427.9" width="26.3" height="26.3"/><rect x="885.9" y="427.9" width="26.3" height="26.3"/><rect x="912.2" y="427.9" width="26.3" height="26.3"/><rect x="938.5" y="427.9" width="26.3" height="26.3"/><rect x="964.8" y="427.9" width="26.3" height="26.3"/><rect x="991.1" y="427.9" width="26.3" height="26.3"/><rect x="1017.4" y="427.9" width="26.3" height="26.3"/><rect x="1043.8" y="427.9" width="26.3" height="26.3"/><rect x="1070.1" y="427.9" width="26.3" height="26.3"/><rect x="1096.4" y="427.9" width="26.3" height="26.3"/><rect x="1122.7" y="427.9" width="26.3" height="26.3"/><rect x="1149.0" y="427.9" width="26.3" height="26.3"/><rect x="1175.3" y="427.9" width="26.3" height="26.3"/><rect x="1201.6" y="427.9" width="26.3" height="26.3"/><rect x="1227.9" y="427.9" width="26.3" height="26.3"/><rect x="175.5" y="454.3" width="26.3" height="26.3"/><rect x="201.8" y="454.3" width="26.3" height="26.3"/><rect x="228.2" y="454.3" width="26.3" height="26.3"/><rect x="254.5" y="454.3" width="26.3" height="26.3"/><rect x="280.8" y="454.3" width="26.3" height="26.3"/><rect x="307.1" y="454.3" width="26.3" height="26.3"/><rect x="333.4" y="454.3" width="26.3" height="26.3"/><rect x="359.7" y="454.3" width="26.3" height="26.3"/><rect x="386.0" y="454.3" width="26.3" height="26.3"/><rect x="412.3" y="454.3" width="26.3" height="26.3"/><rect x="438.6" y="454.3" width="26.3" height="26.3"/><rect x="464.9" y="454.3" width="26.3" height="26.3"/><rect x="517.6" y="454.3" width="26.3" height="26.3"/><rect x="728.0" y="454.3" width="26.3" height="26.3"/><rect x="780.7" y="454.3" width="26.3" height="26.3"/><rect x="807.0" y="454.3" width="26.3" height="26.3"/><rect x="833.3" y="454.3" width="26.3" height="26.3"/><rect x="859.6" y="454.3" width="26.3" height="26.3"/><rect x="885.9" y="454.3" width="26.3" height="26.3"/><rect x="912.2" y="454.3" width="26.3" height="26.3"/><rect x="938.5" y="454.3" width="26.3" height="26.3"/><rect x="964.8" y="454.3" width="26.3" height="26.3"/><rect x="991.1" y="454.3" width="26.3" height="26.3"/><rect x="1017.4" y="454.3" width="26.3" height="26.3"/><rect x="1043.8" y="454.3" width="26.3" height="26.3"/><rect x="1070.1" y="454.3" width="26.3" height="26.3"/><rect x="1096.4" y="454.3" width="26.3" height="26.3"/><rect x="1122.7" y="454.3" width="26.3" height="26.3"/><rect x="1149.0" y="454.3" width="26.3" height="26.3"/><rect x="1175.3" y="454.3" width="26.3" height="26.3"/><rect x="1201.6" y="454.3" width="26.3" height="26.3"/><rect x="1227.9" y="454.3" width="26.3" height="26.3"/><rect x="122.9" y="480.6" width="26.3" height="26.3"/><rect x="149.2" y="480.6" width="26.3" height="26.3"/><rect x="175.5" y="480.6" width="26.3" height="26.3"/><rect x="201.8" y="480.6" width="26.3" height="26.3"/><rect x="228.2" y="480.6" width="26.3" height="26.3"/><rect x="254.5" y="480.6" width="26.3" height="26.3"/><rect x="280.8" y="480.6" width="26.3" height="26.3"/><rect x="307.1" y="480.6" width="26.3" height="26.3"/><rect x="333.4" y="480.6" width="26.3" height="26.3"/><rect x="359.7" y="480.6" width="26.3" height="26.3"/><rect x="386.0" y="480.6" width="26.3" height="26.3"/><rect x="412.3" y="480.6" width="26.3" height="26.3"/><rect x="438.6" y="480.6" width="26.3" height="26.3"/><rect x="464.9" y="480.6" width="26.3" height="26.3"/><rect x="543.9" y="480.6" width="26.3" height="26.3"/><rect x="807.0" y="480.6" width="26.3" height="26.3"/><rect x="833.3" y="480.6" width="26.3" height="26.3"/><rect x="859.6" y="480.6" width="26.3" height="26.3"/><rect x="885.9" y="480.6" width="26.3" height="26.3"/><rect x="912.2" y="480.6" width="26.3" height="26.3"/><rect x="938.5" y="480.6" width="26.3" height="26.3"/><rect x="964.8" y="480.6" width="26.3" height="26.3"/><rect x="991.1" y="480.6" width="26.3" height="26.3"/><rect x="1017.4" y="480.6" width="26.3" height="26.3"/><rect x="1043.8" y="480.6" width="26.3" height="26.3"/><rect x="1070.1" y="480.6" width="26.3" height="26.3"/><rect x="1096.4" y="480.6" width="26.3" height="26.3"/><rect x="1122.7" y="480.6" width="26.3" height="26.3"/><rect x="1149.0" y="480.6" width="26.3" height="26.3"/><rect x="1175.3" y="480.6" width="26.3" height="26.3"/><rect x="1201.6" y="480.6" width="26.3" height="26.3"/><rect x="175.5" y="506.9" width="26.3" height="26.3"/><rect x="201.8" y="506.9" width="26.3" height="26.3"/><rect x="228.2" y="506.9" width="26.3" height="26.3"/><rect x="254.5" y="506.9" width="26.3" height="26.3"/><rect x="280.8" y="506.9" width="26.3" height="26.3"/><rect x="307.1" y="506.9" width="26.3" height="26.3"/><rect x="412.3" y="506.9" width="26.3" height="26.3"/><rect x="438.6" y="506.9" width="26.3" height="26.3"/><rect x="491.2" y="506.9" width="26.3" height="26.3"/><rect x="543.9" y="506.9" width="26.3" height="26.3"/><rect x="596.5" y="506.9" width="26.3" height="26.3"/><rect x="833.3" y="506.9" width="26.3" height="26.3"/><rect x="859.6" y="506.9" width="26.3" height="26.3"/><rect x="885.9" y="506.9" width="26.3" height="26.3"/><rect x="912.2" y="506.9" width="26.3" height="26.3"/><rect x="938.5" y="506.9" width="26.3" height="26.3"/><rect x="964.8" y="506.9" width="26.3" height="26.3"/><rect x="991.1" y="506.9" width="26.3" height="26.3"/><rect x="1017.4" y="506.9" width="26.3" height="26.3"/><rect x="1043.8" y="506.9" width="26.3" height="26.3"/><rect x="1070.1" y="506.9" width="26.3" height="26.3"/><rect x="1096.4" y="506.9" width="26.3" height="26.3"/><rect x="1122.7" y="506.9" width="26.3" height="26.3"/><rect x="1149.0" y="506.9" width="26.3" height="26.3"/><rect x="175.5" y="533.2" width="26.3" height="26.3"/><rect x="201.8" y="533.2" width="26.3" height="26.3"/><rect x="228.2" y="533.2" width="26.3" height="26.3"/><rect x="254.5" y="533.2" width="26.3" height="26.3"/><rect x="280.8" y="533.2" width="26.3" height="26.3"/><rect x="359.7" y="533.2" width="26.3" height="26.3"/><rect x="859.6" y="533.2" width="26.3" height="26.3"/><rect x="885.9" y="533.2" width="26.3" height="26.3"/><rect x="912.2" y="533.2" width="26.3" height="26.3"/><rect x="938.5" y="533.2" width="26.3" height="26.3"/><rect x="964.8" y="533.2" width="26.3" height="26.3"/><rect x="1017.4" y="533.2" width="26.3" height="26.3"/><rect x="1043.8" y="533.2" width="26.3" height="26.3"/><rect x="1070.1" y="533.2" width="26.3" height="26.3"/><rect x="1096.4" y="533.2" width="26.3" height="26.3"/><rect x="1149.0" y="533.2" width="26.3" height="26.3"/><rect x="201.8" y="559.5" width="26.3" height="26.3"/><rect x="228.2" y="559.5" width="26.3" height="26.3"/><rect x="254.5" y="559.5" width="26.3" height="26.3"/><rect x="280.8" y="559.5" width="26.3" height="26.3"/><rect x="307.1" y="559.5" width="26.3" height="26.3"/><rect x="149.2" y="585.8" width="26.3" height="26.3"/><rect x="175.5" y="585.8" width="26.3" height="26.3"/><rect x="201.8" y="585.8" width="26.3" height="26.3"/><rect x="228.2" y="585.8" width="26.3" height="26.3"/><rect x="254.5" y="585.8" width="26.3" height="26.3"/><rect x="280.8" y="585.8" width="26.3" height="26.3"/><rect x="307.1" y="585.8" width="26.3" height="26.3"/><rect x="412.3" y="585.8" width="26.3" height="26.3"/><rect x="149.2" y="612.1" width="26.3" height="26.3"/><rect x="175.5" y="612.1" width="26.3" height="26.3"/><rect x="201.8" y="612.1" width="26.3" height="26.3"/><rect x="228.2" y="612.1" width="26.3" height="26.3"/><rect x="254.5" y="612.1" width="26.3" height="26.3"/><rect x="280.8" y="612.1" width="26.3" height="26.3"/><rect x="307.1" y="612.1" width="26.3" height="26.3"/><rect x="412.3" y="612.1" width="26.3" height="26.3"/><rect x="438.6" y="612.1" width="26.3" height="26.3"/><rect x="464.9" y="612.1" width="26.3" height="26.3"/><rect x="491.2" y="612.1" width="26.3" height="26.3"/><rect x="517.6" y="612.1" width="26.3" height="26.3"/><rect x="543.9" y="612.1" width="26.3" height="26.3"/><rect x="149.2" y="638.4" width="26.3" height="26.3"/><rect x="175.5" y="638.4" width="26.3" height="26.3"/><rect x="228.2" y="638.4" width="26.3" height="26.3"/><rect x="280.8" y="638.4" width="26.3" height="26.3"/><rect x="333.4" y="638.4" width="26.3" height="26.3"/><rect x="280.8" y="664.7" width="26.3" height="26.3"/><rect x="307.1" y="664.7" width="26.3" height="26.3"/><rect x="333.4" y="664.7" width="26.3" height="26.3"/><rect x="359.7" y="664.7" width="26.3" height="26.3"/><rect x="464.9" y="664.7" width="26.3" height="26.3"/><rect x="491.2" y="664.7" width="26.3" height="26.3"/><rect x="228.2" y="691.0" width="26.3" height="26.3"/><rect x="307.1" y="691.0" width="26.3" height="26.3"/><rect x="333.4" y="691.0" width="26.3" height="26.3"/><rect x="254.5" y="717.4" width="26.3" height="26.3"/></g>
<g fill="#afd1e7"><rect x="1306.9" y="217.5" width="26.3" height="26.3"/><rect x="1306.9" y="243.8" width="26.3" height="26.3"/><rect x="491.2" y="270.1" width="26.3" height="26.3"/><rect x="517.6" y="270.1" width="26.3" height="26.3"/><rect x="964.8" y="270.1" width="26.3" height="26.3"/><rect x="991.1" y="270.1" width="26.3" height="26.3"/><rect x="1306.9" y="270.1" width="26.3" height="26.3"/><rect x="1333.2" y="270.1" width="26.3" height="26.3"/><rect x="412.3" y="296.4" width="26.3" height="26.3"/><rect x="517.6" y="296.4" width="26.3" height="26.3"/><rect x="1306.9" y="296.4" width="26.3" height="26.3"/><rect x="1333.2" y="296.4" width="26.3" height="26.3"/><rect x="359.7" y="322.7" width="26.3" height="26.3"/><rect x="386.0" y="322.7" width="26.3" height="26.3"/><rect x="517.6" y="322.7" width="26.3" height="26.3"/><rect x="596.5" y="322.7" width="26.3" height="26.3"/><rect x="622.8" y="322.7" width="26.3" height="26.3"/><rect x="649.1" y="322.7" width="26.3" height="26.3"/><rect x="885.9" y="322.7" width="26.3" height="26.3"/><rect x="1280.5" y="322.7" width="26.3" height="26.3"/><rect x="1306.9" y="322.7" width="26.3" height="26.3"/><rect x="1333.2" y="322.7" width="26.3" height="26.3"/><rect x="1359.5" y="322.7" width="26.3" height="26.3"/><rect x="1385.8" y="322.7" width="26.3" height="26.3"/><rect x="1491.0" y="322.7" width="26.3" height="26.3"/><rect x="1517.3" y="322.7" width="26.3" height="26.3"/><rect x="333.4" y="349.0" width="26.3" height="26.3"/><rect x="359.7" y="349.0" width="26.3" height="26.3"/><rect x="386.0" y="349.0" width="26.3" height="26.3"/><rect x="543.9" y="349.0" width="26.3" height="26.3"/><rect x="596.5" y="349.0" width="26.3" height="26.3"/><rect x="622.8" y="349.0" width="26.3" height="26.3"/><rect x="649.1" y="349.0" width="26.3" height="26.3"/><rect x="675.4" y="349.0" width="26.3" height="26.3"/><rect x="701.7" y="349.0" width="26.3" height="26.3"/><rect x="1227.9" y="349.0" width="26.3" height="26.3"/><rect x="1254.2" y="349.0" width="26.3" height="26.3"/><rect x="1280.5" y="349.0" width="26.3" height="26.3"/><rect x="1306.9" y="349.0" width="26.3" height="26.3"/><rect x="1333.2" y="349.0" width="26.3" height="26.3"/><rect x="1359.5" y="349.0" width="26.3" height="26.3"/><rect x="1385.8" y="349.0" width="26.3" height="26.3"/><rect x="1412.1" y="349.0" width="26.3" height="26.3"/><rect x="1438.4" y="349.0" width="26.3" height="26.3"/><rect x="1464.7" y="349.0" width="26.3" height="26.3"/><rect x="1491.0" y="349.0" width="26.3" height="26.3"/><rect x="1517.3" y="349.0" width="26.3" height="26.3"/><rect x="280.8" y="375.3" width="26.3" height="26.3"/><rect x="675.4" y="375.3" width="26.3" height="26.3"/><rect x="701.7" y="375.3" width="26.3" height="26.3"/><rect x="1227.9" y="375.3" width="26.3" height="26.3"/><rect x="1254.2" y="375.3" width="26.3" height="26.3"/><rect x="1280.5" y="375.3" width="26.3" height="26.3"/><rect x="1306.9" y="375.3" width="26.3" height="26.3"/><rect x="1333.2" y="375.3" width="26.3" height="26.3"/><rect x="1359.5" y="375.3" width="26.3" height="26.3"/><rect x="1385.8" y="375.3" width="26.3" height="26.3"/><rect x="1412.1" y="375.3" width="26.3" height="26.3"/><rect x="1438.4" y="375.3" width="26.3" height="26.3"/><rect x="1464.7" y="375.3" width="26.3" height="26.3"/><rect x="1491.0" y="375.3" width="26.3" height="26.3"/><rect x="1517.3" y="375.3" width="26.3" height="26.3"/><rect x="1543.6" y="375.3" width="26.3" height="26.3"/><rect x="228.2" y="401.6" width="26.3" height="26.3"/><rect x="254.5" y="401.6" width="26.3" height="26.3"/><rect x="596.5" y="401.6" width="26.3" height="26.3"/><rect x="622.8" y="401.6" width="26.3" height="26.3"/><rect x="649.1" y="401.6" width="26.3" height="26.3"/><rect x="701.7" y="401.6" width="26.3" height="26.3"/><rect x="1201.6" y="401.6" width="26.3" height="26.3"/><rect x="1254.2" y="401.6" width="26.3" height="26.3"/><rect x="1280.5" y="401.6" width="26.3" height="26.3"/><rect x="1306.9" y="401.6" width="26.3" height="26.3"/><rect x="1333.2" y="401.6" width="26.3" height="26.3"/><rect x="1359.5" y="401.6" width="26.3" height="26.3"/><rect x="1385.8" y="401.6" width="26.3" height="26.3"/><rect x="1412.1" y="401.6" width="26.3" height="26.3"/><rect x="1438.4" y="401.6" width="26.3" height="26.3"/><rect x="1464.7" y="401.6" width="26.3" height="26.3"/><rect x="1491.0" y="401.6" width="26.3" height="26.3"/><rect x="1517.3" y="401.6" width="26.3" height="26.3"/><rect x="1543.6" y="401.6" width="26.3" height="26.3"/><rect x="1570.0" y="401.6" width="26.3" height="26.3"/><rect x="1596.3" y="401.6" width="26.3" height="26.3"/><rect x="1622.6" y="401.6" width="26.3" height="26.3"/><rect x="175.5" y="427.9" width="26.3" height="26.3"/><rect x="201.8" y="427.9" width="26.3" height="26.3"/><rect x="543.9" y="427.9" width="26.3" height="26.3"/><rect x="570.2" y="427.9" width="26.3" height="26.3"/><rect x="596.5" y="427.9" width="26.3" height="26.3"/><rect x="622.8" y="427.9" width="26.3" height="26.3"/><rect x="649.1" y="427.9" width="26.3" height="26.3"/><rect x="675.4" y="427.9" width="26.3" height="26.3"/><rect x="754.3" y="427.9" width="26.3" height="26.3"/><rect x="1254.2" y="427.9" width="26.3" height="26.3"/><rect x="1280.5" y="427.9" width="26.3" height="26.3"/><rect x="1306.9" y="427.9" width="26.3" height="26.3"/><rect x="1333.2" y="427.9" width="26.3" height="26.3"/><rect x="1359.5" y="427.9" width="26.3" height="26.3"/><rect x="1385.8" y="427.9" width="26.3" height="26.3"/><rect x="1412.1" y="427.9" width="26.3" height="26.3"/><rect x="1438.4" y="427.9" width="26.3" height="26.3"/><rect x="1464.7" y="427.9" width="26.3" height="26.3"/><rect x="1491.0" y="427.9" width="26.3" height="26.3"/><rect x="1517.3" y="427.9" width="26.3" height="26.3"/><rect x="1543.6" y="427.9" width="26.3" height="26.3"/><rect x="1570.0" y="427.9" width="26.3" height="26.3"/><rect x="1596.3" y="427.9" width="26.3" height="26.3"/><rect x="1622.6" y="427.9" width="26.3" height="26.3"/><rect x="1648.9" y="427.9" width="26.3" height="26.3"/><rect x="1675.2" y="427.9" width="26.3" height="26.3"/><rect x="149.2" y="454.3" width="26.3" height="26.3"/><rect x="491.2" y="454.3" width="26.3" height="26.3"/><rect x="543.9" y="454.3" width="26.3" height="26.3"/><rect x="570.2" y="454.3" width="26.3" height="26.3"/><rect x="596.5" y="454.3" width="26.3" height="26.3"/><rect x="622.8" y="454.3" width="26.3" height="26.3"/><rect x="649.1" y="454.3" width="26.3" height="26.3"/><rect x="675.4" y="454.3" width="26.3" height="26.3"/><rect x="701.7" y="454.3" width="26.3" height="26.3"/><rect x="754.3" y="454.3" width="26.3" height="26.3"/><rect x="1254.2" y="454.3" width="26.3" height="26.3"/><rect x="1280.5" y="454.3" width="26.3" height="26.3"/><rect x="1306.9" y="454.3" width="26.3" height="26.3"/><rect x="1333.2" y="454.3" width="26.3" height="26.3"/><rect x="1359.5" y="454.3" width="26.3" height="26.3"/><rect x="1385.8" y="454.3" width="26.3" height="26.3"/><rect x="1412.1" y="454.3" width="26.3" height="26.3"/><rect x="1438.4" y="454.3" width="26.3" height="26.3"/><rect x="1464.7" y="454.3" width="26.3" height="26.3"/><rect x="1491.0" y="454.3" width="26.3" height="26.3"/><rect x="1517.3" y="454.3" width="26.3" height="26.3"/><rect x="1543.6" y="454.3" width="26.3" height="26.3"/><rect x="1570.0" y="454.3" width="26.3" height="26.3"/><rect x="1596.3" y="454.3" width="26.3" height="26.3"/><rect x="1622.6" y="454.3" width="26.3" height="26.3"/><rect x="1648.9" y="454.3" width="26.3" height="26.3"/><rect x="491.2" y="480.6" width="26.3" height="26.3"/><rect x="517.6" y="480.6" width="26.3" height="26.3"/><rect x="570.2" y="480.6" width="26.3" height="26.3"/><rect x="596.5" y="480.6" width="26.3" height="26.3"/><rect x="622.8" y="480.6" width="26.3" height="26.3"/><rect x="649.1" y="480.6" width="26.3" height="26.3"/><rect x="675.4" y="480.6" width="26.3" height="26.3"/><rect x="701.7" y="480.6" width="26.3" height="26.3"/><rect x="728.0" y="480.6" width="26.3" height="26.3"/><rect x="754.3" y="480.6" width="26.3" height="26.3"/><rect x="780.7" y="480.6" width="26.3" height="26.3"/><rect x="1227.9" y="480.6" width="26.3" height="26.3"/><rect x="1254.2" y="480.6" width="26.3" height="26.3"/><rect x="1280.5" y="480.6" width="26.3" height="26.3"/><rect x="1306.9" y="480.6" width="26.3" height="26.3"/><rect x="1333.2" y="480.6" width="26.3" height="26.3"/><rect x="1359.5" y="480.6" width="26.3" height="26.3"/><rect x="1385.8" y="480.6" width="26.3" height="26.3"/><rect x="1412.1" y="480.6" width="26.3" height="26.3"/><rect x="1438.4" y="480.6" width="26.3" height="26.3"/><rect x="1464.7" y="480.6" width="26.3" height="26.3"/><rect x="1491.0" y="480.6" width="26.3" height="26.3"/><rect x="1517.3" y="480.6" width="26.3" height="26.3"/><rect x="1543.6" y="480.6" width="26.3" height="26.3"/><rect x="1570.0" y="480.6" width="26.3" height="26.3"/><rect x="1596.3" y="480.6" width="26.3" height="26.3"/><rect x="1622.6" y="480.6" width="26.3" height="26.3"/><rect x="1648.9" y="480.6" width="26.3" height="26.3"/><rect x="149.2" y="506.9" width="26.3" height="26.3"/><rect x="333.4" y="506.9" width="26.3" height="26.3"/><rect x="359.7" y="506.9" width="26.3" height="26.3"/><rect x="386.0" y="506.9" width="26.3" height="26.3"/><rect x="464.9" y="506.9" width="26.3" height="26.3"/><rect x="517.6" y="506.9" width="26.3" height="26.3"/><rect x="570.2" y="506.9" width="26.3" height="26.3"/><rect x="622.8" y="506.9" width="26.3" height="26.3"/><rect x="649.1" y="506.9" width="26.3" height="26.3"/><rect x="675.4" y="506.9" width="26.3" height="26.3"/><rect x="701.7" y="506.9" width="26.3" height="26.3"/><rect x="728.0" y="506.9" width="26.3" height="26.3"/><rect x="754.3" y="506.9" width="26.3" height="26.3"/><rect x="780.7" y="506.9" width="26.3" height="26.3"/><rect x="807.0" y="506.9" width="26.3" height="26.3"/><rect x="1175.3" y="506.9" width="26.3" height="26.3"/><rect x="1201.6" y="506.9" width="26.3" height="26.3"/><rect x="1227.9" y="506.9" width="26.3" height="26.3"/><rect x="1254.2" y="506.9" width="26.3" height="26.3"/><rect x="1280.5" y="506.9" width="26.3" height="26.3"/><rect x="1306.9" y="506.9" width="26.3" height="26.3"/><rect x="1333.2" y="506.9" width="26.3" height="26.3"/><rect x="1359.5" y="506.9" width="26.3" height="26.3"/><rect x="1385.8" y="506.9" width="26.3" height="26.3"/><rect x="1412.1" y="506.9" width="26.3" height="26.3"/><rect x="1438.4" y="506.9" width="26.3" height="26.3"/><rect x="1464.7" y="506.9" width="26.3" height="26.3"/><rect x="1491.0" y="506.9" width="26.3" height="26.3"/><rect x="1517.3" y="506.9" width="26.3" height="26.3"/><rect x="1543.6" y="506.9" width="26.3" height="26.3"/><rect x="1570.0" y="506.9" width="26.3" height="26.3"/><rect x="1596.3" y="506.9" width="26.3" height="26.3"/><rect x="1622.6" y="506.9" width="26.3" height="26.3"/><rect x="1648.9" y="506.9" width="26.3" height="26.3"/><rect x="149.2" y="533.2" width="26.3" height="26.3"/><rect x="307.1" y="533.2" width="26.3" height="26.3"/><rect x="333.4" y="533.2" width="26.3" height="26.3"/><rect x="386.0" y="533.2" width="26.3" height="26.3"/><rect x="412.3" y="533.2" width="26.3" height="26.3"/><rect x="438.6" y="533.2" width="26.3" height="26.3"/><rect x="464.9" y="533.2" width="26.3" height="26.3"/><rect x="491.2" y="533.2" width="26.3" height="26.3"/><rect x="517.6" y="533.2" width="26.3" height="26.3"/><rect x="543.9" y="533.2" width="26.3" height="26.3"/><rect x="570.2" y="533.2" width="26.3" height="26.3"/><rect x="596.5" y="533.2" width="26.3" height="26.3"/><rect x="622.8" y="533.2" width="26.3" height="26.3"/><rect x="649.1" y="533.2" width="26.3" height="26.3"/><rect x="675.4" y="533.2" width="26.3" height="26.3"/><rect x="701.7" y="533.2" width="26.3" height="26.3"/><rect x="728.0" y="533.2" width="26.3" height="26.3"/><rect x="754.3" y="533.2" width="26.3" height="26.3"/><rect x="780.7" y="533.2" width="26.3" height="26.3"/><rect x="807.0" y="533.2" width="26.3" height="26.3"/><rect x="833.3" y="533.2" width="26.3" height="26.3"/><rect x="991.1" y="533.2" width="26.3" height="26.3"/><rect x="1122.7" y="533.2" width="26.3" height="26.3"/><rect x="1175.3" y="533.2" width="26.3" height="26.3"/><rect x="1201.6" y="533.2" width="26.3" height="26.3"/><rect x="1227.9" y="533.2" width="26.3" height="26.3"/><rect x="1254.2" y="533.2" width="26.3" height="26.3"/><rect x="1280.5" y="533.2" width="26.3" height="26.3"/><rect x="1306.9" y="533.2" width="26.3" height="26.3"/><rect x="1333.2" y="533.2" width="26.3" height="26.3"/><rect x="1359.5" y="533.2" width="26.3" height="26.3"/><rect x="1385.8" y="533.2" width="26.3" height="26.3"/><rect x="1412.1" y="533.2" width="26.3" height="26.3"/><rect x="1438.4" y="533.2" width="26.3" height="26.3"/><rect x="1464.7" y="533.2" width="26.3" height="26.3"/><rect x="1491.0" y="533.2" width="26.3" height="26.3"/><rect x="1517.3" y="533.2" width="26.3" height="26.3"/><rect x="1543.6" y="533.2" width="26.3" height="26.3"/><rect x="1570.0" y="533.2" width="26.3" height="26.3"/><rect x="1596.3" y="533.2" width="26.3" height="26.3"/><rect x="1622.6" y="533.2" width="26.3" height="26.3"/><rect x="175.5" y="559.5" width="26.3" height="26.3"/><rect x="333.4" y="559.5" width="26.3" height="26.3"/><rect x="359.7" y="559.5" width="26.3" height="26.3"/><rect x="386.0" y="559.5" width="26.3" height="26.3"/><rect x="412.3" y="559.5" width="26.3" height="26.3"/><rect x="438.6" y="559.5" width="26.3" height="26.3"/><rect x="464.9" y="559.5" width="26.3" height="26.3"/><rect x="491.2" y="559.5" width="26.3" height="26.3"/><rect x="517.6" y="559.5" width="26.3" height="26.3"/><rect x="543.9" y="559.5" width="26.3" height="26.3"/><rect x="570.2" y="559.5" width="26.3" height="26.3"/><rect x="596.5" y="559.5" width="26.3" height="26.3"/><rect x="622.8" y="559.5" width="26.3" height="26.3"/><rect x="649.1" y="559.5" width="26.3" height="26.3"/><rect x="675.4" y="559.5" width="26.3" height="26.3"/><rect x="701.7" y="559.5" width="26.3" height="26.3"/><rect x="728.0" y="559.5" width="26.3" height="26.3"/><rect x="754.3" y="559.5" width="26.3" height="26.3"/><rect x="780.7" y="559.5" width="26.3" height="26.3"/><rect x="807.0" y="559.5" width="26.3" height="26.3"/><rect x="833.3" y="559.5" width="26.3" height="26.3"/><rect x="859.6" y="559.5" width="26.3" height="26.3"/><rect x="885.9" y="559.5" width="26.3" height="26.3"/><rect x="912.2" y="559.5" width="26.3" height="26.3"/><rect x="938.5" y="559.5" width="26.3" height="26.3"/><rect x="964.8" y="559.5" width="26.3" height="26.3"/><rect x="991.1" y="559.5" width="26.3" height="26.3"/><rect x="1017.4" y="559.5" width="26.3" height="26.3"/><rect x="1043.8" y="559.5" width="26.3" height="26.3"/><rect x="1070.1" y="559.5" width="26.3" height="26.3"/><rect x="1096.4" y="559.5" width="26.3" height="26.3"/><rect x="1122.7" y="559.5" width="26.3" height="26.3"/><rect x="1149.0" y="559.5" width="26.3" height="26.3"/><rect x="1175.3" y="559.5" width="26.3" height="26.3"/><rect x="1201.6" y="559.5" width="26.3" height="26.3"/><rect x="1227.9" y="559.5" width="26.3" height="26.3"/><rect x="1254.2" y="559.5" width="26.3" height="26.3"/><rect x="1280.5" y="559.5" width="26.3" height="26.3"/><rect x="1306.9" y="559.5" width="26.3" height="26.3"/><rect x="1333.2" y="559.5" width="26.3" height="26.3"/><rect x="1359.5" y="559.5" width="26.3" height="26.3"/><rect x="1385.8" y="559.5" width="26.3" height="26.3"/><rect x="1412.1" y="559.5" width="26.3" height="26.3"/><rect x="1438.4" y="559.5" width="26.3" height="26.3"/><rect x="1464.7" y="559.5" width="26.3" height="26.3"/><rect x="1491.0" y="559.5" width="26.3" height="26.3"/><rect x="1517.3" y="559.5" width="26.3" height="26.3"/><rect x="1543.6" y="559.5" width="26.3" height="26.3"/><rect x="1596.3" y="559.5" width="26.3" height="26.3"/><rect x="1622.6" y="559.5" width="26.3" height="26.3"/><rect x="333.4" y="585.8" width="26.3" height="26.3"/><rect x="359.7" y="585.8" width="26.3" height="26.3"/><rect x="386.0" y="585.8" width="26.3" height="26.3"/><rect x="438.6" y="585.8" width="26.3" height="26.3"/><rect x="464.9" y="585.8" width="26.3" height="26.3"/><rect x="491.2" y="585.8" width="26.3" height="26.3"/><rect x="517.6" y="585.8" width="26.3" height="26.3"/><rect x="543.9" y="585.8" width="26.3" height="26.3"/><rect x="570.2" y="585.8" width="26.3" height="26.3"/><rect x="596.5" y="585.8" width="26.3" height="26.3"/><rect x="622.8" y="585.8" width="26.3" height="26.3"/><rect x="649.1" y="585.8" width="26.3" height="26.3"/><rect x="675.4" y="585.8" width="26.3" height="26.3"/><rect x="701.7" y="585.8" width="26.3" height="26.3"/><rect x="728.0" y="585.8" width="26.3" height="26.3"/><rect x="754.3" y="585.8" width="26.3" height="26.3"/><rect x="780.7" y="585.8" width="26.3" height="26.3"/><rect x="807.0" y="585.8" width="26.3" height="26.3"/><rect x="833.3" y="585.8" width="26.3" height="26.3"/><rect x="859.6" y="585.8" width="26.3" height="26.3"/><rect x="885.9" y="585.8" width="26.3" height="26.3"/><rect x="912.2" y="585.8" width="26.3" height="26.3"/><rect x="938.5" y="585.8" width="26.3" height="26.3"/><rect x="964.8" y="585.8" width="26.3" height="26.3"/><rect x="991.1" y="585.8" width="26.3" height="26.3"/><rect x="1017.4" y="585.8" width="26.3" height="26.3"/><rect x="1043.8" y="585.8" width="26.3" height="26.3"/><rect x="1070.1" y="585.8" width="26.3" height="26.3"/><rect x="1096.4" y="585.8" width="26.3" height="26.3"/><rect x="1122.7" y="585.8" width="26.3" height="26.3"/><rect x="1149.0" y="585.8" width="26.3" height="26.3"/><rect x="1175.3" y="585.8" width="26.3" height="26.3"/><rect x="1201.6" y="585.8" width="26.3" height="26.3"/><rect x="1227.9" y="585.8" width="26.3" height="26.3"/><rect x="1254.2" y="585.8" width="26.3" height="26.3"/><rect x="1280.5" y="585.8" width="26.3" height="26.3"/><rect x="1306.9" y="585.8" width="26.3" height="26.3"/><rect x="1333.2" y="585.8" width="26.3" height="26.3"/><rect x="1359.5" y="585.8" width="26.3" height="26.3"/><rect x="1385.8" y="585.8" width="26.3" height="26.3"/><rect x="1412.1" y="585.8" width="26.3" height="26.3"/><rect x="1438.4" y="585.8" width="26.3" height="26.3"/><rect x="1464.7" y="585.8" width="26.3" height="26.3"/><rect x="1491.0" y="585.8" width="26.3" height="26.3"/><rect x="1517.3" y="585.8" width="26.3" height="26.3"/><rect x="1543.6" y="585.8" width="26.3" height="26.3"/><rect x="1596.3" y="585.8" width="26.3" height="26.3"/><rect x="1622.6" y="585.8" width="26.3" height="26.3"/><rect x="333.4" y="612.1" width="26.3" height="26.3"/><rect x="359.7" y="612.1" width="26.3" height="26.3"/><rect x="386.0" y="612.1" width="26.3" height="26.3"/><rect x="570.2" y="612.1" width="26.3" height="26.3"/><rect x="596.5" y="612.1" width="26.3" height="26.3"/><rect x="622.8" y="612.1" width="26.3" height="26.3"/><rect x="649.1" y="612.1" width="26.3" height="26.3"/><rect x="675.4" y="612.1" width="26.3" height="26.3"/><rect x="701.7" y="612.1" width="26.3" height="26.3"/><rect x="728.0" y="612.1" width="26.3" height="26.3"/><rect x="754.3" y="612.1" width="26.3" height="26.3"/><rect x="780.7" y="612.1" width="26.3" height="26.3"/><rect x="807.0" y="612.1" width="26.3" height="26.3"/><rect x="833.3" y="612.1" width="26.3" height="26.3"/><rect x="859.6" y="612.1" width="26.3" height="26.3"/><rect x="885.9" y="612.1" width="26.3" height="26.3"/><rect x="912.2" y="612.1" width="26.3" height="26.3"/><rect x="938.5" y="612.1" width="26.3" height="26.3"/><rect x="964.8" y="612.1" width="26.3" height="26.3"/><rect x="991.1" y="612.1" width="26.3" height="26.3"/><rect x="1017.4" y="612.1" width="26.3" height="26.3"/><rect x="1043.8" y="612.1" width="26.3" height="26.3"/><rect x="1070.1" y="612.1" width="26.3" height="26.3"/><rect x="1096.4" y="612.1" width="26.3" height="26.3"/><rect x="1122.7" y="612.1" width="26.3" height="26.3"/><rect x="1149.0" y="612.1" width="26.3" height="26.3"/><rect x="1175.3" y="612.1" width="26.3" height="26.3"/><rect x="1201.6" y="612.1" width="26.3" height="26.3"/><rect x="1227.9" y="612.1" width="26.3" height="26.3"/><rect x="1254.2" y="612.1" width="26.3" height="26.3"/><rect x="1280.5" y="612.1" width="26.3" height="26.3"/><rect x="1306.9" y="612.1" width="26.3" height="26.3"/><rect x="1333.2" y="612.1" width="26.3" height="26.3"/><rect x="1359.5" y="612.1" width="26.3" height="26.3"/><rect x="1385.8" y="612.1" width="26.3" height="26.3"/><rect x="1412.1" y="612.1" width="26.3" height="26.3"/><rect x="1438.4" y="612.1" width="26.3" height="26.3"/><rect x="1464.7" y="612.1" width="26.3" height="26.3"/><rect x="1491.0" y="612.1" width="26.3" height="26.3"/><rect x="1517.3" y="612.1" width="26.3" height="26.3"/><rect x="1543.6" y="612.1" width="26.3" height="26.3"/><rect x="1570.0" y="612.1" width="26.3" height="26.3"/><rect x="1596.3" y="612.1" width="26.3" height="26.3"/><rect x="201.8" y="638.4" width="26.3" height="26.3"/><rect x="254.5" y="638.4" width="26.3" height="26.3"/><rect x="307.1" y="638.4" width="26.3" height="26.3"/><rect x="359.7" y="638.4" width="26.3" height="26.3"/><rect x="386.0" y="638.4" width="26.3" height="26.3"/><rect x="412.3" y="638.4" width="26.3" height="26.3"/><rect x="438.6" y="638.4" width="26.3" height="26.3"/><rect x="464.9" y="638.4" width="26.3" height="26.3"/><rect x="491.2" y="638.4" width="26.3" height="26.3"/><rect x="517.6" y="638.4" width="26.3" height="26.3"/><rect x="543.9" y="638.4" width="26.3" height="26.3"/><rect x="570.2" y="638.4" width="26.3" height="26.3"/><rect x="596.5" y="638.4" width="26.3" height="26.3"/><rect x="622.8" y="638.4" width="26.3" height="26.3"/><rect x="649.1" y="638.4" width="26.3" height="26.3"/><rect x="675.4" y="638.4" width="26.3" height="26.3"/><rect x="701.7" y="638.4" width="26.3" height="26.3"/><rect x="728.0" y="638.4" width="26.3" height="26.3"/><rect x="754.3" y="638.4" width="26.3" height="26.3"/><rect x="780.7" y="638.4" width="26.3" height="26.3"/><rect x="807.0" y="638.4" width="26.3" height="26.3"/><rect x="833.3" y="638.4" width="26.3" height="26.3"/><rect x="859.6" y="638.4" width="26.3" height="26.3"/><rect x="885.9" y="638.4" width="26.3" height="26.3"/><rect x="912.2" y="638.4" width="26.3" height="26.3"/><rect x="938.5" y="638.4" width="26.3" height="26.3"/><rect x="964.8" y="638.4" width="26.3" height="26.3"/><rect x="991.1" y="638.4" width="26.3" height="26.3"/><rect x="1017.4" y="638.4" width="26.3" height="26.3"/><rect x="1043.8" y="638.4" width="26.3" height="26.3"/><rect x="1070.1" y="638.4" width="26.3" height="26.3"/><rect x="1096.4" y="638.4" width="26.3" height="26.3"/><rect x="1122.7" y="638.4" width="26.3" height="26.3"/><rect x="1149.0" y="638.4" width="26.3" height="26.3"/><rect x="1175.3" y="638.4" width="26.3" height="26.3"/><rect x="1201.6" y="638.4" width="26.3" height="26.3"/><rect x="1227.9" y="638.4" width="26.3" height="26.3"/><rect x="1254.2" y="638.4" width="26.3" height="26.3"/><rect x="1280.5" y="638.4" width="26.3" height="26.3"/><rect x="1306.9" y="638.4" width="26.3" height="26.3"/><rect x="1333.2" y="638.4" width="26.3" height="26.3"/><rect x="1359.5" y="638.4" width="26.3" height="26.3"/><rect x="1385.8" y="638.4" width="26.3" height="26.3"/><rect x="1412.1" y="638.4" width="26.3" height="26.3"/><rect x="1438.4" y="638.4" width="26.3" height="26.3"/><rect x="1464.7" y="638.4" width="26.3" height="26.3"/><rect x="1491.0" y="638.4" width="26.3" height="26.3"/><rect x="1517.3" y="638.4" width="26.3" height="26.3"/><rect x="1543.6" y="638.4" width="26.3" height="26.3"/><rect x="1570.0" y="638.4" width="26.3" height="26.3"/><rect x="1596.3" y="638.4" width="26.3" height="26.3"/><rect x="175.5" y="664.7" width="26.3" height="26.3"/><rect x="201.8" y="664.7" width="26.3" height="26.3"/><rect x="228.2" y="664.7" width="26.3" height="26.3"/><rect x="254.5" y="664.7" width="26.3" height="26.3"/><rect x="386.0" y="664.7" width="26.3" height="26.3"/><rect x="412.3" y="664.7" width="26.3" height="26.3"/><rect x="438.6" y="664.7" width="26.3" height="26.3"/><rect x="517.6" y="664.7" width="26.3" height="26.3"/><rect x="543.9" y="664.7" width="26.3" height="26.3"/><rect x="570.2" y="664.7" width="26.3" height="26.3"/><rect x="596.5" y="664.7" width="26.3" height="26.3"/><rect x="622.8" y="664.7" width="26.3" height="26.3"/><rect x="649.1" y="664.7" width="26.3" height="26.3"/><rect x="675.4" y="664.7" width="26.3" height="26.3"/><rect x="701.7" y="664.7" width="26.3" height="26.3"/><rect x="728.0" y="664.7" width="26.3" height="26.3"/><rect x="754.3" y="664.7" width="26.3" height="26.3"/><rect x="780.7" y="664.7" width="26.3" height="26.3"/><rect x="807.0" y="664.7" width="26.3" height="26.3"/><rect x="833.3" y="664.7" width="26.3" height="26.3"/><rect x="859.6" y="664.7" width="26.3" height="26.3"/><rect x="885.9" y="664.7" width="26.3" height="26.3"/><rect x="912.2" y="664.7" width="26.3" height="26.3"/><rect x="938.5" y="664.7" width="26.3" height="26.3"/><rect x="964.8" y="664.7" width="26.3" height="26.3"/><rect x="991.1" y="664.7" width="26.3" height="26.3"/><rect x="1017.4" y="664.7" width="26.3" height="26.3"/><rect x="1043.8" y="664.7" width="26.3" height="26.3"/><rect x="1070.1" y="664.7" width="26.3" height="26.3"/><rect x="1096.4" y="664.7" width="26.3" height="26.3"/><rect x="1122.7" y="664.7" width="26.3" height="26.3"/><rect x="1149.0" y="664.7" width="26.3" height="26.3"/><rect x="1175.3" y="664.7" width="26.3" height="26.3"/><rect x="1201.6" y="664.7" width="26.3" height="26.3"/><rect x="1227.9" y="664.7" width="26.3" height="26.3"/><rect x="1254.2" y="664.7" width="26.3" height="26.3"/><rect x="1280.5" y="664.7" width="26.3" height="26.3"/><rect x="1306.9" y="664.7" width="26.3" height="26.3"/><rect x="1333.2" y="664.7" width="26.3" height="26.3"/><rect x="1359.5" y="664.7" width="26.3" height="26.3"/><rect x="1385.8" y="664.7" width="26.3" height="26.3"/><rect x="1412.1" y="664.7" width="26.3" height="26.3"/><rect x="1438.4" y="664.7" width="26.3" height="26.3"/><rect x="1464.7" y="664.7" width="26.3" height="26.3"/><rect x="1491.0" y="664.7" width="26.3" height="26.3"/><rect x="1517.3" y="664.7" width="26.3" height="26.3"/><rect x="1570.0" y="664.7" width="26.3" height="26.3"/><rect x="1596.3" y="664.7" width="26.3" height="26.3"/><rect x="201.8" y="691.0" width="26.3" height="26.3"/><rect x="254.5" y="691.0" width="26.3" height="26.3"/><rect x="280.8" y="691.0" width="26.3" height="26.3"/><rect x="359.7" y="691.0" width="26.3" height="26.3"/><rect x="386.0" y="691.0" width="26.3" height="26.3"/><rect x="412.3" y="691.0" width="26.3" height="26.3"/><rect x="438.6" y="691.0" width="26.3" height="26.3"/><rect x="464.9" y="691.0" width="26.3" height="26.3"/><rect x="491.2" y="691.0" width="26.3" height="26.3"/><rect x="517.6" y="691.0" width="26.3" height="26.3"/><rect x="543.9" y="691.0" width="26.3" height="26.3"/><rect x="570.2" y="691.0" width="26.3" height="26.3"/><rect x="596.5" y="691.0" width="26.3" height="26.3"/><rect x="622.8" y="691.0" width="26.3" height="26.3"/><rect x="649.1" y="691.0" width="26.3" height="26.3"/><rect x="675.4" y="691.0" width="26.3" height="26.3"/><rect x="701.7" y="691.0" width="26.3" height="26.3"/><rect x="728.0" y="691.0" width="26.3" height="26.3"/><rect x="754.3" y="691.0" width="26.3" height="26.3"/><rect x="780.7" y="691.0" width="26.3" height="26.3"/><rect x="807.0" y="691.0" width="26.3" height="26.3"/><rect x="833.3" y="691.0" width="26.3" height="26.3"/><rect x="859.6" y="691.0" width="26.3" height="26.3"/><rect x="885.9" y="691.0" width="26.3" height="26.3"/><rect x="912.2" y="691.0" width="26.3" height="26.3"/><rect x="938.5" y="691.0" width="26.3" height="26.3"/><rect x="964.8" y="691.0" width="26.3" height="26.3"/><rect x="991.1" y="691.0" width="26.3" height="26.3"/><rect x="1043.8" y="691.0" width="26.3" height="26.3"/><rect x="1070.1" y="691.0" width="26.3" height="26.3"/><rect x="1096.4" y="691.0" width="26.3" height="26.3"/><rect x="1122.7" y="691.0" width="26.3" height="26.3"/><rect x="1149.0" y="691.0" width="26.3" height="26.3"/><rect x="1175.3" y="691.0" width="26.3" height="26.3"/><rect x="1201.6" y="691.0" width="26.3" height="26.3"/><rect x="1227.9" y="691.0" width="26.3" height="26.3"/><rect x="1254.2" y="691.0" width="26.3" height="26.3"/><rect x="1280.5" y="691.0" width="26.3" height="26.3"/><rect x="1306.9" y="691.0" width="26.3" height="26.3"/><rect x="1333.2" y="691.0" width="26.3" height="26.3"/><rect x="1359.5" y="691.0" width="26.3" height="26.3"/><rect x="1385.8" y="691.0" width="26.3" height="26.3"/><rect x="1412.1" y="691.0" width="26.3" height="26.3"/><rect x="1438.4" y="691.0" width="26.3" height="26.3"/><rect x="1464.7" y="691.0" width="26.3" height="26.3"/><rect x="1491.0" y="691.0" width="26.3" height="26.3"/><rect x="1570.0" y="691.0" width="26.3" height="26.3"/><rect x="1622.6" y="691.0" width="26.3" height="26.3"/><rect x="228.2" y="717.4" width="26.3" height="26.3"/><rect x="280.8" y="717.4" width="26.3" height="26.3"/><rect x="307.1" y="717.4" width="26.3" height="26.3"/><rect x="333.4" y="717.4" width="26.3" height="26.3"/><rect x="359.7" y="717.4" width="26.3" height="26.3"/><rect x="386.0" y="717.4" width="26.3" height="26.3"/><rect x="412.3" y="717.4" width="26.3" height="26.3"/><rect x="438.6" y="717.4" width="26.3" height="26.3"/><rect x="464.9" y="717.4" width="26.3" height="26.3"/><rect x="491.2" y="717.4" width="26.3" height="26.3"/><rect x="517.6" y="717.4" width="26.3" height="26.3"/><rect x="543.9" y="717.4" width="26.3" height="26.3"/><rect x="570.2" y="717.4" width="26.3" height="26.3"/><rect x="596.5" y="717.4" width="26.3" height="26.3"/><rect x="622.8" y="717.4" width="26.3" height="26.3"/><rect x="649.1" y="717.4" width="26.3" height="26.3"/><rect x="675.4" y="717.4" width="26.3" height="26.3"/><rect x="701.7" y="717.4" width="26.3" height="26.3"/><rect x="728.0" y="717.4" width="26.3" height="26.3"/><rect x="754.3" y="717.4" width="26.3" height="26.3"/><rect x="780.7" y="717.4" width="26.3" height="26.3"/><rect x="807.0" y="717.4" width="26.3" height="26.3"/><rect x="833.3" y="717.4" width="26.3" height="26.3"/><rect x="859.6" y="717.4" width="26.3" height="26.3"/><rect x="885.9" y="717.4" width="26.3" height="26.3"/><rect x="912.2" y="717.4" width="26.3" height="26.3"/><rect x="938.5" y="717.4" width="26.3" height="26.3"/><rect x="964.8" y="717.4" width="26.3" height="26.3"/><rect x="1017.4" y="717.4" width="26.3" height="26.3"/><rect x="1043.8" y="717.4" width="26.3" height="26.3"/><rect x="1070.1" y="717.4" width="26.3" height="26.3"/><rect x="1096.4" y="717.4" width="26.3" height="26.3"/><rect x="1122.7" y="717.4" width="26.3" height="26.3"/><rect x="1149.0" y="717.4" width="26.3" height="26.3"/><rect x="1175.3" y="717.4" width="26.3" height="26.3"/><rect x="1201.6" y="717.4" width="26.3" height="26.3"/><rect x="1227.9" y="717.4" width="26.3" height="26.3"/><rect x="1254.2" y="717.4" width="26.3" height="26.3"/><rect x="1280.5" y="717.4" width="26.3" height="26.3"/><rect x="1306.9" y="717.4" width="26.3" height="26.3"/><rect x="1333.2" y="717.4" width="26.3" height="26.3"/><rect x="1359.5" y="717.4" width="26.3" height="26.3"/><rect x="1385.8" y="717.4" width="26.3" height="26.3"/><rect x="1412.1" y="717.4" width="26.3" height="26.3"/><rect x="1438.4" y="717.4" width="26.3" height="26.3"/><rect x="1491.0" y="717.4" width="26.3" height="26.3"/><rect x="1570.0" y="717.4" width="26.3" height="26.3"/><rect x="1596.3" y="717.4" width="26.3" height="26.3"/><rect x="254.5" y="743.7" width="26.3" height="26.3"/><rect x="280.8" y="743.7" width="26.3" height="26.3"/><rect x="307.1" y="743.7" width="26.3" height="26.3"/><rect x="438.6" y="743.7" width="26.3" height="26.3"/><rect x="464.9" y="743.7" width="26.3" height="26.3"/><rect x="491.2" y="743.7" width="26.3" height="26.3"/><rect x="517.6" y="743.7" width="26.3" height="26.3"/><rect x="543.9" y="743.7" width="26.3" height="26.3"/><rect x="570.2" y="743.7" width="26.3" height="26.3"/><rect x="596.5" y="743.7" width="26.3" height="26.3"/><rect x="622.8" y="743.7" width="26.3" height="26.3"/><rect x="649.1" y="743.7" width="26.3" height="26.3"/><rect x="675.4" y="743.7" width="26.3" height="26.3"/><rect x="701.7" y="743.7" width="26.3" height="26.3"/><rect x="728.0" y="743.7" width="26.3" height="26.3"/><rect x="754.3" y="743.7" width="26.3" height="26.3"/><rect x="780.7" y="743.7" width="26.3" height="26.3"/><rect x="807.0" y="743.7" width="26.3" height="26.3"/><rect x="833.3" y="743.7" width="26.3" height="26.3"/><rect x="859.6" y="743.7" width="26.3" height="26.3"/><rect x="885.9" y="743.7" width="26.3" height="26.3"/><rect x="912.2" y="743.7" width="26.3" height="26.3"/><rect x="938.5" y="743.7" width="26.3" height="26.3"/><rect x="964.8" y="743.7" width="26.3" height="26.3"/><rect x="991.1" y="743.7" width="26.3" height="26.3"/><rect x="1017.4" y="743.7" width="26.3" height="26.3"/><rect x="1043.8" y="743.7" width="26.3" height="26.3"/><rect x="1070.1" y="743.7" width="26.3" height="26.3"/><rect x="1096.4" y="743.7" width="26.3" height="26.3"/><rect x="1122.7" y="743.7" width="26.3" height="26.3"/><rect x="1149.0" y="743.7" width="26.3" height="26.3"/><rect x="1175.3" y="743.7" width="26.3" height="26.3"/><rect x="1201.6" y="743.7" width="26.3" height="26.3"/><rect x="1227.9" y="743.7" width="26.3" height="26.3"/><rect x="1254.2" y="743.7" width="26.3" height="26.3"/><rect x="1280.5" y="743.7" width="26.3" height="26.3"/><rect x="1306.9" y="743.7" width="26.3" height="26.3"/><rect x="1333.2" y="743.7" width="26.3" height="26.3"/><rect x="1359.5" y="743.7" width="26.3" height="26.3"/><rect x="1385.8" y="743.7" width="26.3" height="26.3"/><rect x="280.8" y="770.0" width="26.3" height="26.3"/><rect x="307.1" y="770.0" width="26.3" height="26.3"/><rect x="464.9" y="770.0" width="26.3" height="26.3"/><rect x="491.2" y="770.0" width="26.3" height="26.3"/><rect x="517.6" y="770.0" width="26.3" height="26.3"/><rect x="543.9" y="770.0" width="26.3" height="26.3"/><rect x="570.2" y="770.0" width="26.3" height="26.3"/><rect x="596.5" y="770.0" width="26.3" height="26.3"/><rect x="622.8" y="770.0" width="26.3" height="26.3"/><rect x="649.1" y="770.0" width="26.3" height="26.3"/><rect x="675.4" y="770.0" width="26.3" height="26.3"/><rect x="701.7" y="770.0" width="26.3" height="26.3"/><rect x="728.0" y="770.0" width="26.3" height="26.3"/><rect x="754.3" y="770.0" width="26.3" height="26.3"/><rect x="780.7" y="770.0" width="26.3" height="26.3"/><rect x="807.0" y="770.0" width="26.3" height="26.3"/><rect x="833.3" y="770.0" width="26.3" height="26.3"/><rect x="859.6" y="770.0" width="26.3" height="26.3"/><rect x="885.9" y="770.0" width="26.3" height="26.3"/><rect x="912.2" y="770.0" width="26.3" height="26.3"/><rect x="938.5" y="770.0" width="26.3" height="26.3"/><rect x="964.8" y="770.0" width="26.3" height="26.3"/><rect x="991.1" y="770.0" width="26.3" height="26.3"/><rect x="1017.4" y="770.0" width="26.3" height="26.3"/><rect x="1043.8" y="770.0" width="26.3" height="26.3"/><rect x="1070.1" y="770.0" width="26.3" height="26.3"/><rect x="1096.4" y="770.0" width="26.3" height="26.3"/><rect x="1122.7" y="770.0" width="26.3" height="26.3"/><rect x="1149.0" y="770.0" width="26.3" height="26.3"/><rect x="1175.3" y="770.0" width="26.3" height="26.3"/><rect x="1201.6" y="770.0" width="26.3" height="26.3"/><rect x="1227.9" y="770.0" width="26.3" height="26.3"/><rect x="1254.2" y="770.0" width="26.3" height="26.3"/><rect x="1280.5" y="770.0" width="26.3" height="26.3"/><rect x="1306.9" y="770.0" width="26.3" height="26.3"/><rect x="1333.2" y="770.0" width="26.3" height="26.3"/><rect x="1359.5" y="770.0" width="26.3" height="26.3"/><rect x="1385.8" y="770.0" width="26.3" height="26.3"/><rect x="1543.6" y="770.0" width="26.3" height="26.3"/><rect x="1570.0" y="770.0" width="26.3" height="26.3"/><rect x="1780.4" y="770.0" width="26.3" height="26.3"/><rect x="464.9" y="796.3" width="26.3" height="26.3"/><rect x="491.2" y="796.3" width="26.3" height="26.3"/><rect x="517.6" y="796.3" width="26.3" height="26.3"/><rect x="543.9" y="796.3" width="26.3" height="26.3"/><rect x="570.2" y="796.3" width="26.3" height="26.3"/><rect x="596.5" y="796.3" width="26.3" height="26.3"/><rect x="622.8" y="796.3" width="26.3" height="26.3"/><rect x="649.1" y="796.3" width="26.3" height="26.3"/><rect x="675.4" y="796.3" width="26.3" height="26.3"/><rect x="701.7" y="796.3" width="26.3" height="26.3"/><rect x="728.0" y="796.3" width="26.3" height="26.3"/><rect x="754.3" y="796.3" width="26.3" height="26.3"/><rect x="780.7" y="796.3" width="26.3" height="26.3"/><rect x="807.0" y="796.3" width="26.3" height="26.3"/><rect x="833.3" y="796.3" width="26.3" height="26.3"/><rect x="859.6" y="796.3" width="26.3" height="26.3"/><rect x="885.9" y="796.3" width="26.3" height="26.3"/><rect x="912.2" y="796.3" width="26.3" height="26.3"/><rect x="938.5" y="796.3" width="26.3" height="26.3"/><rect x="964.8" y="796.3" width="26.3" height="26.3"/><rect x="991.1" y="796.3" width="26.3" height="26.3"/><rect x="1017.4" y="796.3" width="26.3" height="26.3"/><rect x="1043.8" y="796.3" width="26.3" height="26.3"/><rect x="1070.1" y="796.3" width="26.3" height="26.3"/><rect x="1096.4" y="796.3" width="26.3" height="26.3"/><rect x="1122.7" y="796.3" width="26.3" height="26.3"/><rect x="1149.0" y="796.3" width="26.3" height="26.3"/><rect x="1175.3" y="796.3" width="26.3" height="26.3"/><rect x="1201.6" y="796.3" width="26.3" height="26.3"/><rect x="1227.9" y="796.3" width="26.3" height="26.3"/><rect x="1254.2" y="796.3" width="26.3" height="26.3"/><rect x="1280.5" y="796.3" width="26.3" height="26.3"/><rect x="1306.9" y="796.3" width="26.3" height="26.3"/><rect x="1333.2" y="796.3" width="26.3" height="26.3"/><rect x="1359.5" y="796.3" width="26.3" height="26.3"/><rect x="1517.3" y="796.3" width="26.3" height="26.3"/><rect x="1543.6" y="796.3" width="26.3" height="26.3"/><rect x="1570.0" y="796.3" width="26.3" height="26.3"/><rect x="1754.1" y="796.3" width="26.3" height="26.3"/><rect x="464.9" y="822.6" width="26.3" height="26.3"/><rect x="491.2" y="822.6" width="26.3" height="26.3"/><rect x="517.6" y="822.6" width="26.3" height="26.3"/><rect x="543.9" y="822.6" width="26.3" height="26.3"/><rect x="570.2" y="822.6" width="26.3" height="26.3"/><rect x="596.5" y="822.6" width="26.3" height="26.3"/><rect x="622.8" y="822.6" width="26.3" height="26.3"/><rect x="649.1" y="822.6" width="26.3" height="26.3"/><rect x="675.4" y="822.6" width="26.3" height="26.3"/><rect x="701.7" y="822.6" width="26.3" height="26.3"/><rect x="728.0" y="822.6" width="26.3" height="26.3"/><rect x="754.3" y="822.6" width="26.3" height="26.3"/><rect x="780.7" y="822.6" width="26.3" height="26.3"/><rect x="807.0" y="822.6" width="26.3" height="26.3"/><rect x="833.3" y="822.6" width="26.3" height="26.3"/><rect x="859.6" y="822.6" width="26.3" height="26.3"/><rect x="885.9" y="822.6" width="26.3" height="26.3"/><rect x="912.2" y="822.6" width="26.3" height="26.3"/><rect x="938.5" y="822.6" width="26.3" height="26.3"/><rect x="964.8" y="822.6" width="26.3" height="26.3"/><rect x="1017.4" y="822.6" width="26.3" height="26.3"/><rect x="1043.8" y="822.6" width="26.3" height="26.3"/><rect x="1070.1" y="822.6" width="26.3" height="26.3"/><rect x="1096.4" y="822.6" width="26.3" height="26.3"/><rect x="1122.7" y="822.6" width="26.3" height="26.3"/><rect x="1149.0" y="822.6" width="26.3" height="26.3"/><rect x="1175.3" y="822.6" width="26.3" height="26.3"/><rect x="1201.6" y="822.6" width="26.3" height="26.3"/><rect x="1227.9" y="822.6" width="26.3" height="26.3"/><rect x="1254.2" y="822.6" width="26.3" height="26.3"/><rect x="1280.5" y="822.6" width="26.3" height="26.3"/><rect x="1306.9" y="822.6" width="26.3" height="26.3"/><rect x="1333.2" y="822.6" width="26.3" height="26.3"/><rect x="1359.5" y="822.6" width="26.3" height="26.3"/><rect x="464.9" y="848.9" width="26.3" height="26.3"/><rect x="491.2" y="848.9" width="26.3" height="26.3"/><rect x="517.6" y="848.9" width="26.3" height="26.3"/><rect x="543.9" y="848.9" width="26.3" height="26.3"/><rect x="570.2" y="848.9" width="26.3" height="26.3"/><rect x="596.5" y="848.9" width="26.3" height="26.3"/><rect x="622.8" y="848.9" width="26.3" height="26.3"/><rect x="649.1" y="848.9" width="26.3" height="26.3"/><rect x="675.4" y="848.9" width="26.3" height="26.3"/><rect x="701.7" y="848.9" width="26.3" height="26.3"/><rect x="728.0" y="848.9" width="26.3" height="26.3"/><rect x="754.3" y="848.9" width="26.3" height="26.3"/><rect x="780.7" y="848.9" width="26.3" height="26.3"/><rect x="807.0" y="848.9" width="26.3" height="26.3"/><rect x="833.3" y="848.9" width="26.3" height="26.3"/><rect x="859.6" y="848.9" width="26.3" height="26.3"/><rect x="885.9" y="848.9" width="26.3" height="26.3"/><rect x="912.2" y="848.9" width="26.3" height="26.3"/><rect x="938.5" y="848.9" width="26.3" height="26.3"/><rect x="964.8" y="848.9" width="26.3" height="26.3"/><rect x="1017.4" y="848.9" width="26.3" height="26.3"/><rect x="1096.4" y="848.9" width="26.3" height="26.3"/><rect x="1149.0" y="848.9" width="26.3" height="26.3"/><rect x="1175.3" y="848.9" width="26.3" height="26.3"/><rect x="1201.6" y="848.9" width="26.3" height="26.3"/><rect x="1227.9" y="848.9" width="26.3" height="26.3"/><rect x="1254.2" y="848.9" width="26.3" height="26.3"/><rect x="1280.5" y="848.9" width="26.3" height="26.3"/><rect x="1306.9" y="848.9" width="26.3" height="26.3"/><rect x="464.9" y="875.2" width="26.3" height="26.3"/><rect x="491.2" y="875.2" width="26.3" height="26.3"/><rect x="517.6" y="875.2" width="26.3" height="26.3"/><rect x="543.9" y="875.2" width="26.3" height="26.3"/><rect x="570.2" y="875.2" width="26.3" height="26.3"/><rect x="596.5" y="875.2" width="26.3" height="26.3"/><rect x="622.8" y="875.2" width="26.3" height="26.3"/><rect x="649.1" y="875.2" width="26.3" height="26.3"/><rect x="675.4" y="875.2" width="26.3" height="26.3"/><rect x="701.7" y="875.2" width="26.3" height="26.3"/><rect x="728.0" y="875.2" width="26.3" height="26.3"/><rect x="780.7" y="875.2" width="26.3" height="26.3"/><rect x="807.0" y="875.2" width="26.3" height="26.3"/><rect x="833.3" y="875.2" width="26.3" height="26.3"/><rect x="859.6" y="875.2" width="26.3" height="26.3"/><rect x="885.9" y="875.2" width="26.3" height="26.3"/><rect x="912.2" y="875.2" width="26.3" height="26.3"/><rect x="1122.7" y="875.2" width="26.3" height="26.3"/><rect x="1227.9" y="875.2" width="26.3" height="26.3"/><rect x="1254.2" y="875.2" width="26.3" height="26.3"/><rect x="1359.5" y="875.2" width="26.3" height="26.3"/><rect x="464.9" y="901.5" width="26.3" height="26.3"/><rect x="491.2" y="901.5" width="26.3" height="26.3"/><rect x="622.8" y="901.5" width="26.3" height="26.3"/><rect x="649.1" y="901.5" width="26.3" height="26.3"/><rect x="754.3" y="901.5" width="26.3" height="26.3"/><rect x="780.7" y="901.5" width="26.3" height="26.3"/><rect x="807.0" y="901.5" width="26.3" height="26.3"/><rect x="912.2" y="901.5" width="26.3" height="26.3"/><rect x="1149.0" y="901.5" width="26.3" height="26.3"/><rect x="1175.3" y="901.5" width="26.3" height="26.3"/><rect x="1201.6" y="901.5" width="26.3" height="26.3"/><rect x="1227.9" y="901.5" width="26.3" height="26.3"/><rect x="1254.2" y="901.5" width="26.3" height="26.3"/><rect x="1280.5" y="901.5" width="26.3" height="26.3"/><rect x="1306.9" y="901.5" width="26.3" height="26.3"/><rect x="1333.2" y="901.5" width="26.3" height="26.3"/><rect x="517.6" y="927.8" width="26.3" height="26.3"/><rect x="570.2" y="927.8" width="26.3" height="26.3"/><rect x="596.5" y="927.8" width="26.3" height="26.3"/><rect x="701.7" y="927.8" width="26.3" height="26.3"/><rect x="728.0" y="927.8" width="26.3" height="26.3"/><rect x="754.3" y="927.8" width="26.3" height="26.3"/><rect x="780.7" y="927.8" width="26.3" height="26.3"/><rect x="807.0" y="927.8" width="26.3" height="26.3"/><rect x="833.3" y="927.8" width="26.3" height="26.3"/><rect x="859.6" y="927.8" width="26.3" height="26.3"/><rect x="885.9" y="927.8" width="26.3" height="26.3"/><rect x="912.2" y="927.8" width="26.3" height="26.3"/><rect x="1017.4" y="927.8" width="26.3" height="26.3"/><rect x="1175.3" y="927.8" width="26.3" height="26.3"/><rect x="1201.6" y="927.8" width="26.3" height="26.3"/><rect x="1227.9" y="927.8" width="26.3" height="26.3"/><rect x="1254.2" y="927.8" width="26.3" height="26.3"/><rect x="1280.5" y="927.8" width="26.3" height="26.3"/><rect x="1306.9" y="927.8" width="26.3" height="26.3"/><rect x="701.7" y="954.1" width="26.3" height="26.3"/><rect x="728.0" y="954.1" width="26.3" height="26.3"/><rect x="754.3" y="954.1" width="26.3" height="26.3"/><rect x="780.7" y="954.1" width="26.3" height="26.3"/><rect x="807.0" y="954.1" width="26.3" height="26.3"/><rect x="991.1" y="954.1" width="26.3" height="26.3"/><rect x="1017.4" y="954.1" width="26.3" height="26.3"/><rect x="1043.8" y="954.1" width="26.3" height="26.3"/><rect x="1070.1" y="954.1" width="26.3" height="26.3"/><rect x="1096.4" y="954.1" width="26.3" height="26.3"/><rect x="1122.7" y="954.1" width="26.3" height="26.3"/><rect x="1149.0" y="954.1" width="26.3" height="26.3"/><rect x="1175.3" y="954.1" width="26.3" height="26.3"/><rect x="1201.6" y="954.1" width="26.3" height="26.3"/><rect x="1227.9" y="954.1" width="26.3" height="26.3"/><rect x="649.1" y="980.5" width="26.3" height="26.3"/><rect x="701.7" y="980.5" width="26.3" height="26.3"/><rect x="728.0" y="980.5" width="26.3" height="26.3"/><rect x="754.3" y="980.5" width="26.3" height="26.3"/><rect x="807.0" y="980.5" width="26.3" height="26.3"/><rect x="991.1" y="980.5" width="26.3" height="26.3"/><rect x="1017.4" y="980.5" width="26.3" height="26.3"/><rect x="1043.8" y="980.5" width="26.3" height="26.3"/><rect x="1070.1" y="980.5" width="26.3" height="26.3"/><rect x="1096.4" y="980.5" width="26.3" height="26.3"/><rect x="1201.6" y="980.5" width="26.3" height="26.3"/><rect x="991.1" y="1006.8" width="26.3" height="26.3"/><rect x="1175.3" y="1006.8" width="26.3" height="26.3"/><rect x="1201.6" y="1006.8" width="26.3" height="26.3"/><rect x="1227.9" y="1033.1" width="26.3" height="26.3"/><rect x="1333.2" y="1059.4" width="26.3" height="26.3"/><rect x="1227.9" y="1085.7" width="26.3" height="26.3"/><rect x="1438.4" y="1112.0" width="26.3" height="26.3"/><rect x="1385.8" y="1138.3" width="26.3" height="26.3"/><rect x="1201.6" y="1164.6" width="26.3" height="26.3"/><rect x="1043.8" y="1217.2" width="26.3" height="26.3"/><rect x="1333.2" y="1217.2" width="26.3" height="26.3"/><rect x="1648.9" y="1506.7" width="26.3" height="26.3"/><rect x="1675.2" y="1585.6" width="26.3" height="26.3"/></g>
<g fill="#3e8ec4"><rect x="1570.0" y="559.5" width="26.3" height="26.3"/><rect x="1570.0" y="585.8" width="26.3" height="26.3"/><rect x="1543.6" y="664.7" width="26.3" height="26.3"/><rect x="1017.4" y="691.0" width="26.3" height="26.3"/><rect x="1517.3" y="691.0" width="26.3" height="26.3"/><rect x="1543.6" y="691.0" width="26.3" height="26.3"/><rect x="1596.3" y="691.0" width="26.3" height="26.3"/><rect x="991.1" y="717.4" width="26.3" height="26.3"/><rect x="1464.7" y="717.4" width="26.3" height="26.3"/><rect x="1517.3" y="717.4" width="26.3" height="26.3"/><rect x="1543.6" y="717.4" width="26.3" height="26.3"/><rect x="1622.6" y="717.4" width="26.3" height="26.3"/><rect x="1648.9" y="717.4" width="26.3" height="26.3"/><rect x="1675.2" y="717.4" width="26.3" height="26.3"/><rect x="1701.5" y="717.4" width="26.3" height="26.3"/><rect x="1727.8" y="717.4" width="26.3" height="26.3"/><rect x="1754.1" y="717.4" width="26.3" height="26.3"/><rect x="1412.1" y="743.7" width="26.3" height="26.3"/><rect x="1438.4" y="743.7" width="26.3" height="26.3"/><rect x="1464.7" y="743.7" width="26.3" height="26.3"/><rect x="1491.0" y="743.7" width="26.3" height="26.3"/><rect x="1517.3" y="743.7" width="26.3" height="26.3"/><rect x="1543.6" y="743.7" width="26.3" height="26.3"/><rect x="1570.0" y="743.7" width="26.3" height="26.3"/><rect x="1596.3" y="743.7" width="26.3" height="26.3"/><rect x="1622.6" y="743.7" width="26.3" height="26.3"/><rect x="1648.9" y="743.7" width="26.3" height="26.3"/><rect x="1675.2" y="743.7" width="26.3" height="26.3"/><rect x="1701.5" y="743.7" width="26.3" height="26.3"/><rect x="1727.8" y="743.7" width="26.3" height="26.3"/><rect x="1754.1" y="743.7" width="26.3" height="26.3"/><rect x="1780.4" y="743.7" width="26.3" height="26.3"/><rect x="1806.8" y="743.7" width="26.3" height="26.3"/><rect x="1412.1" y="770.0" width="26.3" height="26.3"/><rect x="1438.4" y="770.0" width="26.3" height="26.3"/><rect x="1464.7" y="770.0" width="26.3" height="26.3"/><rect x="1491.0" y="770.0" width="26.3" height="26.3"/><rect x="1517.3" y="770.0" width="26.3" height="26.3"/><rect x="1596.3" y="770.0" width="26.3" height="26.3"/><rect x="1622.6" y="770.0" width="26.3" height="26.3"/><rect x="1648.9" y="770.0" width="26.3" height="26.3"/><rect x="1675.2" y="770.0" width="26.3" height="26.3"/><rect x="1701.5" y="770.0" width="26.3" height="26.3"/><rect x="1727.8" y="770.0" width="26.3" height="26.3"/><rect x="1754.1" y="770.0" width="26.3" height="26.3"/><rect x="1806.8" y="770.0" width="26.3" height="26.3"/><rect x="1385.8" y="796.3" width="26.3" height="26.3"/><rect x="1412.1" y="796.3" width="26.3" height="26.3"/><rect x="1438.4" y="796.3" width="26.3" height="26.3"/><rect x="1464.7" y="796.3" width="26.3" height="26.3"/><rect x="1491.0" y="796.3" width="26.3" height="26.3"/><rect x="1596.3" y="796.3" width="26.3" height="26.3"/><rect x="1622.6" y="796.3" width="26.3" height="26.3"/><rect x="1648.9" y="796.3" width="26.3" height="26.3"/><rect x="1675.2" y="796.3" width="26.3" height="26.3"/><rect x="1701.5" y="796.3" width="26.3" height="26.3"/><rect x="1727.8" y="796.3" width="26.3" height="26.3"/><rect x="1780.4" y="796.3" width="26.3" height="26.3"/><rect x="1806.8" y="796.3" width="26.3" height="26.3"/><rect x="1833.1" y="796.3" width="26.3" height="26.3"/><rect x="1859.4" y="796.3" width="26.3" height="26.3"/><rect x="991.1" y="822.6" width="26.3" height="26.3"/><rect x="1385.8" y="822.6" width="26.3" height="26.3"/><rect x="1412.1" y="822.6" width="26.3" height="26.3"/><rect x="1438.4" y="822.6" width="26.3" height="26.3"/><rect x="1464.7" y="822.6" width="26.3" height="26.3"/><rect x="1491.0" y="822.6" width="26.3" height="26.3"/><rect x="1517.3" y="822.6" width="26.3" height="26.3"/><rect x="1543.6" y="822.6" width="26.3" height="26.3"/><rect x="1570.0" y="822.6" width="26.3" height="26.3"/><rect x="1596.3" y="822.6" width="26.3" height="26.3"/><rect x="1622.6" y="822.6" width="26.3" height="26.3"/><rect x="1648.9" y="822.6" width="26.3" height="26.3"/><rect x="1675.2" y="822.6" width="26.3" height="26.3"/><rect x="1701.5" y="822.6" width="26.3" height="26.3"/><rect x="1727.8" y="822.6" width="26.3" height="26.3"/><rect x="1754.1" y="822.6" width="26.3" height="26.3"/><rect x="1780.4" y="822.6" width="26.3" height="26.3"/><rect x="1806.8" y="822.6" width="26.3" height="26.3"/><rect x="1833.1" y="822.6" width="26.3" height="26.3"/><rect x="1859.4" y="822.6" width="26.3" height="26.3"/><rect x="991.1" y="848.9" width="26.3" height="26.3"/><rect x="1043.8" y="848.9" width="26.3" height="26.3"/><rect x="1070.1" y="848.9" width="26.3" height="26.3"/><rect x="1122.7" y="848.9" width="26.3" height="26.3"/><rect x="1333.2" y="848.9" width="26.3" height="26.3"/><rect x="1359.5" y="848.9" width="26.3" height="26.3"/><rect x="1385.8" y="848.9" width="26.3" height="26.3"/><rect x="1412.1" y="848.9" width="26.3" height="26.3"/><rect x="1438.4" y="848.9" width="26.3" height="26.3"/><rect x="1464.7" y="848.9" width="26.3" height="26.3"/><rect x="1491.0" y="848.9" width="26.3" height="26.3"/><rect x="1517.3" y="848.9" width="26.3" height="26.3"/><rect x="1543.6" y="848.9" width="26.3" height="26.3"/><rect x="1570.0" y="848.9" width="26.3" height="26.3"/><rect x="1596.3" y="848.9" width="26.3" height="26.3"/><rect x="1622.6" y="848.9" width="26.3" height="26.3"/><rect x="1648.9" y="848.9" width="26.3" height="26.3"/><rect x="1675.2" y="848.9" width="26.3" height="26.3"/><rect x="1701.5" y="848.9" width="26.3" height="26.3"/><rect x="1727.8" y="848.9" width="26.3" height="26.3"/><rect x="1754.1" y="848.9" width="26.3" height="26.3"/><rect x="1780.4" y="848.9" width="26.3" height="26.3"/><rect x="1806.8" y="848.9" width="26.3" height="26.3"/><rect x="1833.1" y="848.9" width="26.3" height="26.3"/><rect x="1859.4" y="848.9" width="26.3" height="26.3"/><rect x="754.3" y="875.2" width="26.3" height="26.3"/><rect x="938.5" y="875.2" width="26.3" height="26.3"/><rect x="964.8" y="875.2" width="26.3" height="26.3"/><rect x="991.1" y="875.2" width="26.3" height="26.3"/><rect x="1017.4" y="875.2" width="26.3" height="26.3"/><rect x="1043.8" y="875.2" width="26.3" height="26.3"/><rect x="1070.1" y="875.2" width="26.3" height="26.3"/><rect x="1096.4" y="875.2" width="26.3" height="26.3"/><rect x="1149.0" y="875.2" width="26.3" height="26.3"/><rect x="1175.3" y="875.2" width="26.3" height="26.3"/><rect x="1201.6" y="875.2" width="26.3" height="26.3"/><rect x="1280.5" y="875.2" width="26.3" height="26.3"/><rect x="1306.9" y="875.2" width="26.3" height="26.3"/><rect x="1333.2" y="875.2" width="26.3" height="26.3"/><rect x="1385.8" y="875.2" width="26.3" height="26.3"/><rect x="1412.1" y="875.2" width="26.3" height="26.3"/><rect x="1438.4" y="875.2" width="26.3" height="26.3"/><rect x="1464.7" y="875.2" width="26.3" height="26.3"/><rect x="1491.0" y="875.2" width="26.3" height="26.3"/><rect x="1517.3" y="875.2" width="26.3" height="26.3"/><rect x="1543.6" y="875.2" width="26.3" height="26.3"/><rect x="1570.0" y="875.2" width="26.3" height="26.3"/><rect x="1596.3" y="875.2" width="26.3" height="26.3"/><rect x="1622.6" y="875.2" width="26.3" height="26.3"/><rect x="1648.9" y="875.2" width="26.3" height="26.3"/><rect x="1675.2" y="875.2" width="26.3" height="26.3"/><rect x="1701.5" y="875.2" width="26.3" height="26.3"/><rect x="1727.8" y="875.2" width="26.3" height="26.3"/><rect x="1754.1" y="875.2" width="26.3" height="26.3"/><rect x="1780.4" y="875.2" width="26.3" height="26.3"/><rect x="1806.8" y="875.2" width="26.3" height="26.3"/><rect x="1833.1" y="875.2" width="26.3" height="26.3"/><rect x="517.6" y="901.5" width="26.3" height="26.3"/><rect x="543.9" y="901.5" width="26.3" height="26.3"/><rect x="570.2" y="901.5" width="26.3" height="26.3"/><rect x="596.5" y="901.5" width="26.3" height="26.3"/><rect x="675.4" y="901.5" width="26.3" height="26.3"/><rect x="701.7" y="901.5" width="26.3" height="26.3"/><rect x="728.0" y="901.5" width="26.3" height="26.3"/><rect x="833.3" y="901.5" width="26.3" height="26.3"/><rect x="859.6" y="901.5" width="26.3" height="26.3"/><rect x="885.9" y="901.5" width="26.3" height="26.3"/><rect x="938.5" y="901.5" width="26.3" height="26.3"/><rect x="964.8" y="901.5" width="26.3" height="26.3"/><rect x="991.1" y="901.5" width="26.3" height="26.3"/><rect x="1017.4" y="901.5" width="26.3" height="26.3"/><rect x="1043.8" y="901.5" width="26.3" height="26.3"/><rect x="1070.1" y="901.5" width="26.3" height="26.3"/><rect x="1096.4" y="901.5" width="26.3" height="26.3"/><rect x="1122.7" y="901.5" width="26.3" height="26.3"/><rect x="1359.5" y="901.5" width="26.3" height="26.3"/><rect x="1385.8" y="901.5" width="26.3" height="26.3"/><rect x="1412.1" y="901.5" width="26.3" height="26.3"/><rect x="1438.4" y="901.5" width="26.3" height="26.3"/><rect x="1464.7" y="901.5" width="26.3" height="26.3"/><rect x="1491.0" y="901.5" width="26.3" height="26.3"/><rect x="1517.3" y="901.5" width="26.3" height="26.3"/><rect x="1543.6" y="901.5" width="26.3" height="26.3"/><rect x="1570.0" y="901.5" width="26.3" height="26.3"/><rect x="1596.3" y="901.5" width="26.3" height="26.3"/><rect x="1622.6" y="901.5" width="26.3" height="26.3"/><rect x="1648.9" y="901.5" width="26.3" height="26.3"/><rect x="1675.2" y="901.5" width="26.3" height="26.3"/><rect x="1701.5" y="901.5" width="26.3" height="26.3"/><rect x="1727.8" y="901.5" width="26.3" height="26.3"/><rect x="1754.1" y="901.5" width="26.3" height="26.3"/><rect x="1780.4" y="901.5" width="26.3" height="26.3"/><rect x="1806.8" y="901.5" width="26.3" height="26.3"/><rect x="1833.1" y="901.5" width="26.3" height="26.3"/><rect x="1859.4" y="901.5" width="26.3" height="26.3"/><rect x="1885.7" y="901.5" width="26.3" height="26.3"/><rect x="1912.0" y="901.5" width="26.3" height="26.3"/><rect x="622.8" y="927.8" width="26.3" height="26.3"/><rect x="649.1" y="927.8" width="26.3" height="26.3"/><rect x="675.4" y="927.8" width="26.3" height="26.3"/><rect x="938.5" y="927.8" width="26.3" height="26.3"/><rect x="964.8" y="927.8" width="26.3" height="26.3"/><rect x="991.1" y="927.8" width="26.3" height="26.3"/><rect x="1043.8" y="927.8" width="26.3" height="26.3"/><rect x="1070.1" y="927.8" width="26.3" height="26.3"/><rect x="1096.4" y="927.8" width="26.3" height="26.3"/><rect x="1122.7" y="927.8" width="26.3" height="26.3"/><rect x="1149.0" y="927.8" width="26.3" height="26.3"/><rect x="1333.2" y="927.8" width="26.3" height="26.3"/><rect x="1359.5" y="927.8" width="26.3" height="26.3"/><rect x="1385.8" y="927.8" width="26.3" height="26.3"/><rect x="1412.1" y="927.8" width="26.3" height="26.3"/><rect x="1438.4" y="927.8" width="26.3" height="26.3"/><rect x="1464.7" y="927.8" width="26.3" height="26.3"/><rect x="1491.0" y="927.8" width="26.3" height="26.3"/><rect x="1517.3" y="927.8" width="26.3" height="26.3"/><rect x="1543.6" y="927.8" width="26.3" height="26.3"/><rect x="1570.0" y="927.8" width="26.3" height="26.3"/><rect x="1596.3" y="927.8" width="26.3" height="26.3"/><rect x="1622.6" y="927.8" width="26.3" height="26.3"/><rect x="1648.9" y="927.8" width="26.3" height="26.3"/><rect x="1675.2" y="927.8" width="26.3" height="26.3"/><rect x="1701.5" y="927.8" width="26.3" height="26.3"/><rect x="1727.8" y="927.8" width="26.3" height="26.3"/><rect x="1754.1" y="927.8" width="26.3" height="26.3"/><rect x="1780.4" y="927.8" width="26.3" height="26.3"/><rect x="1806.8" y="927.8" width="26.3" height="26.3"/><rect x="1833.1" y="927.8" width="26.3" height="26.3"/><rect x="1859.4" y="927.8" width="26.3" height="26.3"/><rect x="1885.7" y="927.8" width="26.3" height="26.3"/><rect x="1912.0" y="927.8" width="26.3" height="26.3"/><rect x="649.1" y="954.1" width="26.3" height="26.3"/><rect x="675.4" y="954.1" width="26.3" height="26.3"/><rect x="833.3" y="954.1" width="26.3" height="26.3"/><rect x="859.6" y="954.1" width="26.3" height="26.3"/><rect x="885.9" y="954.1" width="26.3" height="26.3"/><rect x="912.2" y="954.1" width="26.3" height="26.3"/><rect x="938.5" y="954.1" width="26.3" height="26.3"/><rect x="964.8" y="954.1" width="26.3" height="26.3"/><rect x="1254.2" y="954.1" width="26.3" height="26.3"/><rect x="1280.5" y="954.1" width="26.3" height="26.3"/><rect x="1306.9" y="954.1" width="26.3" height="26.3"/><rect x="1333.2" y="954.1" width="26.3" height="26.3"/><rect x="1359.5" y="954.1" width="26.3" height="26.3"/><rect x="1385.8" y="954.1" width="26.3" height="26.3"/><rect x="1412.1" y="954.1" width="26.3" height="26.3"/><rect x="1438.4" y="954.1" width="26.3" height="26.3"/><rect x="1464.7" y="954.1" width="26.3" height="26.3"/><rect x="1491.0" y="954.1" width="26.3" height="26.3"/><rect x="1517.3" y="954.1" width="26.3" height="26.3"/><rect x="1543.6" y="954.1" width="26.3" height="26.3"/><rect x="1570.0" y="954.1" width="26.3" height="26.3"/><rect x="1596.3" y="954.1" width="26.3" height="26.3"/><rect x="1622.6" y="954.1" width="26.3" height="26.3"/><rect x="1648.9" y="954.1" width="26.3" height="26.3"/><rect x="1675.2" y="954.1" width="26.3" height="26.3"/><rect x="1701.5" y="954.1" width="26.3" height="26.3"/><rect x="1727.8" y="954.1" width="26.3" height="26.3"/><rect x="1754.1" y="954.1" width="26.3" height="26.3"/><rect x="1780.4" y="954.1" width="26.3" height="26.3"/><rect x="1806.8" y="954.1" width="26.3" height="26.3"/><rect x="1833.1" y="954.1" width="26.3" height="26.3"/><rect x="1859.4" y="954.1" width="26.3" height="26.3"/><rect x="1885.7" y="954.1" width="26.3" height="26.3"/><rect x="1912.0" y="954.1" width="26.3" height="26.3"/><rect x="675.4" y="980.5" width="26.3" height="26.3"/><rect x="780.7" y="980.5" width="26.3" height="26.3"/><rect x="833.3" y="980.5" width="26.3" height="26.3"/><rect x="859.6" y="980.5" width="26.3" height="26.3"/><rect x="885.9" y="980.5" width="26.3" height="26.3"/><rect x="912.2" y="980.5" width="26.3" height="26.3"/><rect x="938.5" y="980.5" width="26.3" height="26.3"/><rect x="964.8" y="980.5" width="26.3" height="26.3"/><rect x="1122.7" y="980.5" width="26.3" height="26.3"/><rect x="1149.0" y="980.5" width="26.3" height="26.3"/><rect x="1175.3" y="980.5" width="26.3" height="26.3"/><rect x="1227.9" y="980.5" width="26.3" height="26.3"/><rect x="1254.2" y="980.5" width="26.3" height="26.3"/><rect x="1280.5" y="980.5" width="26.3" height="26.3"/><rect x="1306.9" y="980.5" width="26.3" height="26.3"/><rect x="1333.2" y="980.5" width="26.3" height="26.3"/><rect x="1359.5" y="980.5" width="26.3" height="26.3"/><rect x="1385.8" y="980.5" width="26.3" height="26.3"/><rect x="1412.1" y="980.5" width="26.3" height="26.3"/><rect x="1438.4" y="980.5" width="26.3" height="26.3"/><rect x="1464.7" y="980.5" width="26.3" height="26.3"/><rect x="1491.0" y="980.5" width="26.3" height="26.3"/><rect x="1517.3" y="980.5" width="26.3" height="26.3"/><rect x="1543.6" y="980.5" width="26.3" height="26.3"/><rect x="1570.0" y="980.5" width="26.3" height="26.3"/><rect x="1596.3" y="980.5" width="26.3" height="26.3"/><rect x="1622.6" y="980.5" width="26.3" height="26.3"/><rect x="1648.9" y="980.5" width="26.3" height="26.3"/><rect x="1675.2" y="980.5" width="26.3" height="26.3"/><rect x="1701.5" y="980.5" width="26.3" height="26.3"/><rect x="1727.8" y="980.5" width="26.3" height="26.3"/><rect x="1754.1" y="980.5" width="26.3" height="26.3"/><rect x="1780.4" y="980.5" width="26.3" height="26.3"/><rect x="1806.8" y="980.5" width="26.3" height="26.3"/><rect x="1833.1" y="980.5" width="26.3" height="26.3"/><rect x="1859.4" y="980.5" width="26.3" height="26.3"/><rect x="1885.7" y="980.5" width="26.3" height="26.3"/><rect x="1912.0" y="980.5" width="26.3" height="26.3"/><rect x="649.1" y="1006.8" width="26.3" height="26.3"/><rect x="675.4" y="1006.8" width="26.3" height="26.3"/><rect x="701.7" y="1006.8" width="26.3" height="26.3"/><rect x="728.0" y="1006.8" width="26.3" height="26.3"/><rect x="754.3" y="1006.8" width="26.3" height="26.3"/><rect x="780.7" y="1006.8" width="26.3" height="26.3"/><rect x="807.0" y="1006.8" width="26.3" height="26.3"/><rect x="833.3" y="1006.8" width="26.3" height="26.3"/><rect x="859.6" y="1006.8" width="26.3" height="26.3"/><rect x="885.9" y="1006.8" width="26.3" height="26.3"/><rect x="912.2" y="1006.8" width="26.3" height="26.3"/><rect x="938.5" y="1006.8" width="26.3" height="26.3"/><rect x="964.8" y="1006.8" width="26.3" height="26.3"/><rect x="1017.4" y="1006.8" width="26.3" height="26.3"/><rect x="1043.8" y="1006.8" width="26.3" height="26.3"/><rect x="1070.1" y="1006.8" width="26.3" height="26.3"/><rect x="1096.4" y="1006.8" width="26.3" height="26.3"/><rect x="1122.7" y="1006.8" width="26.3" height="26.3"/><rect x="1149.0" y="1006.8" width="26.3" height="26.3"/><rect x="1227.9" y="1006.8" width="26.3" height="26.3"/><rect x="1254.2" y="1006.8" width="26.3" height="26.3"/><rect x="1280.5" y="1006.8" width="26.3" height="26.3"/><rect x="1306.9" y="1006.8" width="26.3" height="26.3"/><rect x="1333.2" y="1006.8" width="26.3" height="26.3"/><rect x="1359.5" y="1006.8" width="26.3" height="26.3"/><rect x="1385.8" y="1006.8" width="26.3" height="26.3"/><rect x="1412.1" y="1006.8" width="26.3" height="26.3"/><rect x="1438.4" y="1006.8" width="26.3" height="26.3"/><rect x="1464.7" y="1006.8" width="26.3" height="26.3"/><rect x="1491.0" y="1006.8" width="26.3" height="26.3"/><rect x="1517.3" y="1006.8" width="26.3" height="26.3"/><rect x="1543.6" y="1006.8" width="26.3" height="26.3"/><rect x="1570.0" y="1006.8" width="26.3" height="26.3"/><rect x="1596.3" y="1006.8" width="26.3" height="26.3"/><rect x="1622.6" y="1006.8" width="26.3" height="26.3"/><rect x="1648.9" y="1006.8" width="26.3" height="26.3"/><rect x="1675.2" y="1006.8" width="26.3" height="26.3"/><rect x="1701.5" y="1006.8" width="26.3" height="26.3"/><rect x="1727.8" y="1006.8" width="26.3" height="26.3"/><rect x="1754.1" y="1006.8" width="26.3" height="26.3"/><rect x="1780.4" y="1006.8" width="26.3" height="26.3"/><rect x="1806.8" y="1006.8" width="26.3" height="26.3"/><rect x="1833.1" y="1006.8" width="26.3" height="26.3"/><rect x="1859.4" y="1006.8" width="26.3" height="26.3"/><rect x="1885.7" y="1006.8" width="26.3" height="26.3"/><rect x="1912.0" y="1006.8" width="26.3" height="26.3"/><rect x="1938.3" y="1006.8" width="26.3" height="26.3"/><rect x="649.1" y="1033.1" width="26.3" height="26.3"/><rect x="675.4" y="1033.1" width="26.3" height="26.3"/><rect x="701.7" y="1033.1" width="26.3" height="26.3"/><rect x="728.0" y="1033.1" width="26.3" height="26.3"/><rect x="754.3" y="1033.1" width="26.3" height="26.3"/><rect x="780.7" y="1033.1" width="26.3" height="26.3"/><rect x="807.0" y="1033.1" width="26.3" height="26.3"/><rect x="833.3" y="1033.1" width="26.3" height="26.3"/><rect x="859.6" y="1033.1" width="26.3" height="26.3"/><rect x="885.9" y="1033.1" width="26.3" height="26.3"/><rect x="912.2" y="1033.1" width="26.3" height="26.3"/><rect x="938.5" y="1033.1" width="26.3" height="26.3"/><rect x="964.8" y="1033.1" width="26.3" height="26.3"/><rect x="991.1" y="1033.1" width="26.3" height="26.3"/><rect x="1017.4" y="1033.1" width="26.3" height="26.3"/><rect x="1043.8" y="1033.1" width="26.3" height="26.3"/><rect x="1070.1" y="1033.1" width="26.3" height="26.3"/><rect x="1096.4" y="1033.1" width="26.3" height="26.3"/><rect x="1122.7" y="1033.1" width="26.3" height="26.3"/><rect x="1149.0" y="1033.1" width="26.3" height="26.3"/><rect x="1175.3" y="1033.1" width="26.3" height="26.3"/><rect x="1201.6" y="1033.1" width="26.3" height="26.3"/><rect x="1254.2" y="1033.1" width="26.3" height="26.3"/><rect x="1280.5" y="1033.1" width="26.3" height="26.3"/><rect x="1306.9" y="1033.1" width="26.3" height="26.3"/><rect x="1333.2" y="1033.1" width="26.3" height="26.3"/><rect x="1359.5" y="1033.1" width="26.3" height="26.3"/><rect x="1385.8" y="1033.1" width="26.3" height="26.3"/><rect x="1412.1" y="1033.1" width="26.3" height="26.3"/><rect x="1438.4" y="1033.1" width="26.3" height="26.3"/><rect x="1464.7" y="1033.1" width="26.3" height="26.3"/><rect x="1491.0" y="1033.1" width="26.3" height="26.3"/><rect x="1517.3" y="1033.1" width="26.3" height="26.3"/><rect x="1543.6" y="1033.1" width="26.3" height="26.3"/><rect x="1570.0" y="1033.1" width="26.3" height="26.3"/><rect x="1596.3" y="1033.1" width="26.3" height="26.3"/><rect x="1622.6" y="1033.1" width="26.3" height="26.3"/><rect x="1648.9" y="1033.1" width="26.3" height="26.3"/><rect x="1675.2" y="1033.1" width="26.3" height="26.3"/><rect x="1701.5" y="1033.1" width="26.3" height="26.3"/><rect x="1727.8" y="1033.1" width="26.3" height="26.3"/><rect x="1754.1" y="1033.1" width="26.3" height="26.3"/><rect x="1780.4" y="1033.1" width="26.3" height="26.3"/><rect x="1806.8" y="1033.1" width="26.3" height="26.3"/><rect x="1833.1" y="1033.1" width="26.3" height="26.3"/><rect x="1859.4" y="1033.1" width="26.3" height="26.3"/><rect x="1885.7" y="1033.1" width="26.3" height="26.3"/><rect x="1912.0" y="1033.1" width="26.3" height="26.3"/><rect x="1938.3" y="1033.1" width="26.3" height="26.3"/><rect x="649.1" y="1059.4" width="26.3" height="26.3"/><rect x="675.4" y="1059.4" width="26.3" height="26.3"/><rect x="833.3" y="1059.4" width="26.3" height="26.3"/><rect x="859.6" y="1059.4" width="26.3" height="26.3"/><rect x="885.9" y="1059.4" width="26.3" height="26.3"/><rect x="912.2" y="1059.4" width="26.3" height="26.3"/><rect x="938.5" y="1059.4" width="26.3" height="26.3"/><rect x="964.8" y="1059.4" width="26.3" height="26.3"/><rect x="991.1" y="1059.4" width="26.3" height="26.3"/><rect x="1017.4" y="1059.4" width="26.3" height="26.3"/><rect x="1043.8" y="1059.4" width="26.3" height="26.3"/><rect x="1070.1" y="1059.4" width="26.3" height="26.3"/><rect x="1096.4" y="1059.4" width="26.3" height="26.3"/><rect x="1122.7" y="1059.4" width="26.3" height="26.3"/><rect x="1149.0" y="1059.4" width="26.3" height="26.3"/><rect x="1175.3" y="1059.4" width="26.3" height="26.3"/><rect x="1201.6" y="1059.4" width="26.3" height="26.3"/><rect x="1227.9" y="1059.4" width="26.3" height="26.3"/><rect x="1254.2" y="1059.4" width="26.3" height="26.3"/><rect x="1280.5" y="1059.4" width="26.3" height="26.3"/><rect x="1306.9" y="1059.4" width="26.3" height="26.3"/><rect x="1359.5" y="1059.4" width="26.3" height="26.3"/><rect x="1385.8" y="1059.4" width="26.3" height="26.3"/><rect x="1412.1" y="1059.4" width="26.3" height="26.3"/><rect x="1438.4" y="1059.4" width="26.3" height="26.3"/><rect x="1464.7" y="1059.4" width="26.3" height="26.3"/><rect x="1491.0" y="1059.4" width="26.3" height="26.3"/><rect x="1517.3" y="1059.4" width="26.3" height="26.3"/><rect x="1543.6" y="1059.4" width="26.3" height="26.3"/><rect x="1570.0" y="1059.4" width="26.3" height="26.3"/><rect x="1596.3" y="1059.4" width="26.3" height="26.3"/><rect x="1622.6" y="1059.4" width="26.3" height="26.3"/><rect x="1648.9" y="1059.4" width="26.3" height="26.3"/><rect x="1675.2" y="1059.4" width="26.3" height="26.3"/><rect x="1701.5" y="1059.4" width="26.3" height="26.3"/><rect x="1727.8" y="1059.4" width="26.3" height="26.3"/><rect x="1754.1" y="1059.4" width="26.3" height="26.3"/><rect x="1780.4" y="1059.4" width="26.3" height="26.3"/><rect x="1806.8" y="1059.4" width="26.3" height="26.3"/><rect x="1833.1" y="1059.4" width="26.3" height="26.3"/><rect x="1859.4" y="1059.4" width="26.3" height="26.3"/><rect x="1885.7" y="1059.4" width="26.3" height="26.3"/><rect x="859.6" y="1085.7" width="26.3" height="26.3"/><rect x="885.9" y="1085.7" width="26.3" height="26.3"/><rect x="912.2" y="1085.7" width="26.3" height="26.3"/><rect x="938.5" y="1085.7" width="26.3" height="26.3"/><rect x="964.8" y="1085.7" width="26.3" height="26.3"/><rect x="991.1" y="1085.7" width="26.3" height="26.3"/><rect x="1017.4" y="1085.7" width="26.3" height="26.3"/><rect x="1043.8" y="1085.7" width="26.3" height="26.3"/><rect x="1070.1" y="1085.7" width="26.3" height="26.3"/><rect x="1096.4" y="1085.7" width="26.3" height="26.3"/><rect x="1122.7" y="1085.7" width="26.3" height="26.3"/><rect x="1149.0" y="1085.7" width="26.3" height="26.3"/><rect x="1175.3" y="1085.7" width="26.3" height="26.3"/><rect x="1201.6" y="1085.7" width="26.3" height="26.3"/><rect x="1254.2" y="1085.7" width="26.3" height="26.3"/><rect x="1280.5" y="1085.7" width="26.3" height="26.3"/><rect x="1306.9" y="1085.7" width="26.3" height="26.3"/><rect x="1333.2" y="1085.7" width="26.3" height="26.3"/><rect x="1359.5" y="1085.7" width="26.3" height="26.3"/><rect x="1385.8" y="1085.7" width="26.3" height="26.3"/><rect x="1412.1" y="1085.7" width="26.3" height="26.3"/><rect x="1438.4" y="1085.7" width="26.3" height="26.3"/><rect x="1464.7" y="1085.7" width="26.3" height="26.3"/><rect x="1491.0" y="1085.7" width="26.3" height="26.3"/><rect x="1517.3" y="1085.7" width="26.3" height="26.3"/><rect x="1543.6" y="1085.7" width="26.3" height="26.3"/><rect x="1570.0" y="1085.7" width="26.3" height="26.3"/><rect x="1596.3" y="1085.7" width="26.3" height="26.3"/><rect x="1622.6" y="1085.7" width="26.3" height="26.3"/><rect x="1648.9" y="1085.7" width="26.3" height="26.3"/><rect x="1675.2" y="1085.7" width="26.3" height="26.3"/><rect x="1701.5" y="1085.7" width="26.3" height="26.3"/><rect x="1727.8" y="1085.7" width="26.3" height="26.3"/><rect x="1754.1" y="1085.7" width="26.3" height="26.3"/><rect x="1780.4" y="1085.7" width="26.3" height="26.3"/><rect x="1806.8" y="1085.7" width="26.3" height="26.3"/><rect x="1833.1" y="1085.7" width="26.3" height="26.3"/><rect x="1859.4" y="1085.7" width="26.3" height="26.3"/><rect x="885.9" y="1112.0" width="26.3" height="26.3"/><rect x="912.2" y="1112.0" width="26.3" height="26.3"/><rect x="938.5" y="1112.0" width="26.3" height="26.3"/><rect x="964.8" y="1112.0" width="26.3" height="26.3"/><rect x="991.1" y="1112.0" width="26.3" height="26.3"/><rect x="1017.4" y="1112.0" width="26.3" height="26.3"/><rect x="1043.8" y="1112.0" width="26.3" height="26.3"/><rect x="1070.1" y="1112.0" width="26.3" height="26.3"/><rect x="1096.4" y="1112.0" width="26.3" height="26.3"/><rect x="1122.7" y="1112.0" width="26.3" height="26.3"/><rect x="1149.0" y="1112.0" width="26.3" height="26.3"/><rect x="1175.3" y="1112.0" width="26.3" height="26.3"/><rect x="1201.6" y="1112.0" width="26.3" height="26.3"/><rect x="1227.9" y="1112.0" width="26.3" height="26.3"/><rect x="1254.2" y="1112.0" width="26.3" height="26.3"/><rect x="1280.5" y="1112.0" width="26.3" height="26.3"/><rect x="1306.9" y="1112.0" width="26.3" height="26.3"/><rect x="1333.2" y="1112.0" width="26.3" height="26.3"/><rect x="1359.5" y="1112.0" width="26.3" height="26.3"/><rect x="1385.8" y="1112.0" width="26.3" height="26.3"/><rect x="1412.1" y="1112.0" width="26.3" height="26.3"/><rect x="1464.7" y="1112.0" width="26.3" height="26.3"/><rect x="1491.0" y="1112.0" width="26.3" height="26.3"/><rect x="1517.3" y="1112.0" width="26.3" height="26.3"/><rect x="1543.6" y="1112.0" width="26.3" height="26.3"/><rect x="1570.0" y="1112.0" width="26.3" height="26.3"/><rect x="1596.3" y="1112.0" width="26.3" height="26.3"/><rect x="1622.6" y="1112.0" width="26.3" height="26.3"/><rect x="1648.9" y="1112.0" width="26.3" height="26.3"/><rect x="1675.2" y="1112.0" width="26.3" height="26.3"/><rect x="1701.5" y="1112.0" width="26.3" height="26.3"/><rect x="1727.8" y="1112.0" width="26.3" height="26.3"/><rect x="1754.1" y="1112.0" width="26.3" height="26.3"/><rect x="1780.4" y="1112.0" width="26.3" height="26.3"/><rect x="1806.8" y="1112.0" width="26.3" height="26.3"/><rect x="1833.1" y="1112.0" width="26.3" height="26.3"/><rect x="885.9" y="1138.3" width="26.3" height="26.3"/><rect x="912.2" y="1138.3" width="26.3" height="26.3"/><rect x="938.5" y="1138.3" width="26.3" height="26.3"/><rect x="964.8" y="1138.3" width="26.3" height="26.3"/><rect x="991.1" y="1138.3" width="26.3" height="26.3"/><rect x="1017.4" y="1138.3" width="26.3" height="26.3"/><rect x="1043.8" y="1138.3" width="26.3" height="26.3"/><rect x="1070.1" y="1138.3" width="26.3" height="26.3"/><rect x="1096.4" y="1138.3" width="26.3" height="26.3"/><rect x="1122.7" y="1138.3" width="26.3" height="26.3"/><rect x="1149.0" y="1138.3" width="26.3" height="26.3"/><rect x="1175.3" y="1138.3" width="26.3" height="26.3"/><rect x="1201.6" y="1138.3" width="26.3" height="26.3"/><rect x="1227.9" y="1138.3" width="26.3" height="26.3"/><rect x="1254.2" y="1138.3" width="26.3" height="26.3"/><rect x="1280.5" y="1138.3" width="26.3" height="26.3"/><rect x="1306.9" y="1138.3" width="26.3" height="26.3"/><rect x="1333.2" y="1138.3" width="26.3" height="26.3"/><rect x="1359.5" y="1138.3" width="26.3" height="26.3"/><rect x="1412.1" y="1138.3" width="26.3" height="26.3"/><rect x="1438.4" y="1138.3" width="26.3" height="26.3"/><rect x="1464.7" y="1138.3" width="26.3" height="26.3"/><rect x="1491.0" y="1138.3" width="26.3" height="26.3"/><rect x="1517.3" y="1138.3" width="26.3" height="26.3"/><rect x="1543.6" y="1138.3" width="26.3" height="26.3"/><rect x="1570.0" y="1138.3" width="26.3" height="26.3"/><rect x="1596.3" y="1138.3" width="26.3" height="26.3"/><rect x="1622.6" y="1138.3" width="26.3" height="26.3"/><rect x="1648.9" y="1138.3" width="26.3" height="26.3"/><rect x="1675.2" y="1138.3" width="26.3" height="26.3"/><rect x="1701.5" y="1138.3" width="26.3" height="26.3"/><rect x="1727.8" y="1138.3" width="26.3" height="26.3"/><rect x="1754.1" y="1138.3" width="26.3" height="26.3"/><rect x="1780.4" y="1138.3" width="26.3" height="26.3"/><rect x="1806.8" y="1138.3" width="26.3" height="26.3"/><rect x="1833.1" y="1138.3" width="26.3" height="26.3"/><rect x="859.6" y="1164.6" width="26.3" height="26.3"/><rect x="885.9" y="1164.6" width="26.3" height="26.3"/><rect x="912.2" y="1164.6" width="26.3" height="26.3"/><rect x="938.5" y="1164.6" width="26.3" height="26.3"/><rect x="964.8" y="1164.6" width="26.3" height="26.3"/><rect x="991.1" y="1164.6" width="26.3" height="26.3"/><rect x="1017.4" y="1164.6" width="26.3" height="26.3"/><rect x="1043.8" y="1164.6" width="26.3" height="26.3"/><rect x="1070.1" y="1164.6" width="26.3" height="26.3"/><rect x="1096.4" y="1164.6" width="26.3" height="26.3"/><rect x="1122.7" y="1164.6" width="26.3" height="26.3"/><rect x="1149.0" y="1164.6" width="26.3" height="26.3"/><rect x="1175.3" y="1164.6" width="26.3" height="26.3"/><rect x="1227.9" y="1164.6" width="26.3" height="26.3"/><rect x="1254.2" y="1164.6" width="26.3" height="26.3"/><rect x="1280.5" y="1164.6" width="26.3" height="26.3"/><rect x="1306.9" y="1164.6" width="26.3" height="26.3"/><rect x="1333.2" y="1164.6" width="26.3" height="26.3"/><rect x="1359.5" y="1164.6" width="26.3" height="26.3"/><rect x="1385.8" y="1164.6" width="26.3" height="26.3"/><rect x="1412.1" y="1164.6" width="26.3" height="26.3"/><rect x="1438.4" y="1164.6" width="26.3" height="26.3"/><rect x="1464.7" y="1164.6" width="26.3" height="26.3"/><rect x="1491.0" y="1164.6" width="26.3" height="26.3"/><rect x="1517.3" y="1164.6" width="26.3" height="26.3"/><rect x="1543.6" y="1164.6" width="26.3" height="26.3"/><rect x="1570.0" y="1164.6" width="26.3" height="26.3"/><rect x="1596.3" y="1164.6" width="26.3" height="26.3"/><rect x="1622.6" y="1164.6" width="26.3" height="26.3"/><rect x="1648.9" y="1164.6" width="26.3" height="26.3"/><rect x="1675.2" y="1164.6" width="26.3" height="26.3"/><rect x="1701.5" y="1164.6" width="26.3" height="26.3"/><rect x="1727.8" y="1164.6" width="26.3" height="26.3"/><rect x="1754.1" y="1164.6" width="26.3" height="26.3"/><rect x="1780.4" y="1164.6" width="26.3" height="26.3"/><rect x="1806.8" y="1164.6" width="26.3" height="26.3"/><rect x="859.6" y="1190.9" width="26.3" height="26.3"/><rect x="885.9" y="1190.9" width="26.3" height="26.3"/><rect x="912.2" y="1190.9" width="26.3" height="26.3"/><rect x="938.5" y="1190.9" width="26.3" height="26.3"/><rect x="964.8" y="1190.9" width="26.3" height="26.3"/><rect x="991.1" y="1190.9" width="26.3" height="26.3"/><rect x="1017.4" y="1190.9" width="26.3" height="26.3"/><rect x="1043.8" y="1190.9" width="26.3" height="26.3"/><rect x="1070.1" y="1190.9" width="26.3" height="26.3"/><rect x="1096.4" y="1190.9" width="26.3" height="26.3"/><rect x="1122.7" y="1190.9" width="26.3" height="26.3"/><rect x="1149.0" y="1190.9" width="26.3" height="26.3"/><rect x="1175.3" y="1190.9" width="26.3" height="26.3"/><rect x="1201.6" y="1190.9" width="26.3" height="26.3"/><rect x="1227.9" y="1190.9" width="26.3" height="26.3"/><rect x="1254.2" y="1190.9" width="26.3" height="26.3"/><rect x="1280.5" y="1190.9" width="26.3" height="26.3"/><rect x="1306.9" y="1190.9" width="26.3" height="26.3"/><rect x="1333.2" y="1190.9" width="26.3" height="26.3"/><rect x="1359.5" y="1190.9" width="26.3" height="26.3"/><rect x="1385.8" y="1190.9" width="26.3" height="26.3"/><rect x="1412.1" y="1190.9" width="26.3" height="26.3"/><rect x="1438.4" y="1190.9" width="26.3" height="26.3"/><rect x="1464.7" y="1190.9" width="26.3" height="26.3"/><rect x="1491.0" y="1190.9" width="26.3" height="26.3"/><rect x="1517.3" y="1190.9" width="26.3" height="26.3"/><rect x="1543.6" y="1190.9" width="26.3" height="26.3"/><rect x="1570.0" y="1190.9" width="26.3" height="26.3"/><rect x="1596.3" y="1190.9" width="26.3" height="26.3"/><rect x="1622.6" y="1190.9" width="26.3" height="26.3"/><rect x="1648.9" y="1190.9" width="26.3" height="26.3"/><rect x="1675.2" y="1190.9" width="26.3" height="26.3"/><rect x="1701.5" y="1190.9" width="26.3" height="26.3"/><rect x="1727.8" y="1190.9" width="26.3" height="26.3"/><rect x="912.2" y="1217.2" width="26.3" height="26.3"/><rect x="938.5" y="1217.2" width="26.3" height="26.3"/><rect x="964.8" y="1217.2" width="26.3" height="26.3"/><rect x="991.1" y="1217.2" width="26.3" height="26.3"/><rect x="1017.4" y="1217.2" width="26.3" height="26.3"/><rect x="1070.1" y="1217.2" width="26.3" height="26.3"/><rect x="1096.4" y="1217.2" width="26.3" height="26.3"/><rect x="1122.7" y="1217.2" width="26.3" height="26.3"/><rect x="1149.0" y="1217.2" width="26.3" height="26.3"/><rect x="1201.6" y="1217.2" width="26.3" height="26.3"/><rect x="1227.9" y="1217.2" width="26.3" height="26.3"/><rect x="1254.2" y="1217.2" width="26.3" height="26.3"/><rect x="1280.5" y="1217.2" width="26.3" height="26.3"/><rect x="1306.9" y="1217.2" width="26.3" height="26.3"/><rect x="1359.5" y="1217.2" width="26.3" height="26.3"/><rect x="1385.8" y="1217.2" width="26.3" height="26.3"/><rect x="1412.1" y="1217.2" width="26.3" height="26.3"/><rect x="1438.4" y="1217.2" width="26.3" height="26.3"/><rect x="1464.7" y="1217.2" width="26.3" height="26.3"/><rect x="1491.0" y="1217.2" width="26.3" height="26.3"/><rect x="1517.3" y="1217.2" width="26.3" height="26.3"/><rect x="1543.6" y="1217.2" width="26.3" height="26.3"/><rect x="1570.0" y="1217.2" width="26.3" height="26.3"/><rect x="1596.3" y="1217.2" width="26.3" height="26.3"/><rect x="1622.6" y="1217.2" width="26.3" height="26.3"/><rect x="1648.9" y="1217.2" width="26.3" height="26.3"/><rect x="1675.2" y="1217.2" width="26.3" height="26.3"/><rect x="1701.5" y="1217.2" width="26.3" height="26.3"/><rect x="885.9" y="1243.6" width="26.3" height="26.3"/><rect x="912.2" y="1243.6" width="26.3" height="26.3"/><rect x="938.5" y="1243.6" width="26.3" height="26.3"/><rect x="964.8" y="1243.6" width="26.3" height="26.3"/><rect x="991.1" y="1243.6" width="26.3" height="26.3"/><rect x="1017.4" y="1243.6" width="26.3" height="26.3"/><rect x="1043.8" y="1243.6" width="26.3" height="26.3"/><rect x="1070.1" y="1243.6" width="26.3" height="26.3"/><rect x="1096.4" y="1243.6" width="26.3" height="26.3"/><rect x="1122.7" y="1243.6" width="26.3" height="26.3"/><rect x="1201.6" y="1243.6" width="26.3" height="26.3"/><rect x="1227.9" y="1243.6" width="26.3" height="26.3"/><rect x="1254.2" y="1243.6" width="26.3" height="26.3"/><rect x="1280.5" y="1243.6" width="26.3" height="26.3"/><rect x="1306.9" y="1243.6" width="26.3" height="26.3"/><rect x="1333.2" y="1243.6" width="26.3" height="26.3"/><rect x="1359.5" y="1243.6" width="26.3" height="26.3"/><rect x="1385.8" y="1243.6" width="26.3" height="26.3"/><rect x="1412.1" y="1243.6" width="26.3" height="26.3"/><rect x="1438.4" y="1243.6" width="26.3" height="26.3"/><rect x="1464.7" y="1243.6" width="26.3" height="26.3"/><rect x="1491.0" y="1243.6" width="26.3" height="26.3"/><rect x="1517.3" y="1243.6" width="26.3" height="26.3"/><rect x="1543.6" y="1243.6" width="26.3" height="26.3"/><rect x="1570.0" y="1243.6" width="26.3" height="26.3"/><rect x="1596.3" y="1243.6" width="26.3" height="26.3"/><rect x="1622.6" y="1243.6" width="26.3" height="26.3"/><rect x="1648.9" y="1243.6" width="26.3" height="26.3"/><rect x="1675.2" y="1243.6" width="26.3" height="26.3"/><rect x="859.6" y="1269.9" width="26.3" height="26.3"/><rect x="885.9" y="1269.9" width="26.3" height="26.3"/><rect x="912.2" y="1269.9" width="26.3" height="26.3"/><rect x="938.5" y="1269.9" width="26.3" height="26.3"/><rect x="964.8" y="1269.9" width="26.3" height="26.3"/><rect x="991.1" y="1269.9" width="26.3" height="26.3"/><rect x="1017.4" y="1269.9" width="26.3" height="26.3"/><rect x="1043.8" y="1269.9" width="26.3" height="26.3"/><rect x="1070.1" y="1269.9" width="26.3" height="26.3"/><rect x="1096.4" y="1269.9" width="26.3" height="26.3"/><rect x="1122.7" y="1269.9" width="26.3" height="26.3"/><rect x="1175.3" y="1269.9" width="26.3" height="26.3"/><rect x="1201.6" y="1269.9" width="26.3" height="26.3"/><rect x="1227.9" y="1269.9" width="26.3" height="26.3"/><rect x="1254.2" y="1269.9" width="26.3" height="26.3"/><rect x="1280.5" y="1269.9" width="26.3" height="26.3"/><rect x="1306.9" y="1269.9" width="26.3" height="26.3"/><rect x="1333.2" y="1269.9" width="26.3" height="26.3"/><rect x="1359.5" y="1269.9" width="26.3" height="26.3"/><rect x="1385.8" y="1269.9" width="26.3" height="26.3"/><rect x="1412.1" y="1269.9" width="26.3" height="26.3"/><rect x="1438.4" y="1269.9" width="26.3" height="26.3"/><rect x="1464.7" y="1269.9" width="26.3" height="26.3"/><rect x="1491.0" y="1269.9" width="26.3" height="26.3"/><rect x="1517.3" y="1269.9" width="26.3" height="26.3"/><rect x="1543.6" y="1269.9" width="26.3" height="26.3"/><rect x="1570.0" y="1269.9" width="26.3" height="26.3"/><rect x="1596.3" y="1269.9" width="26.3" height="26.3"/><rect x="1622.6" y="1269.9" width="26.3" height="26.3"/><rect x="1648.9" y="1269.9" width="26.3" height="26.3"/><rect x="1675.2" y="1269.9" width="26.3" height="26.3"/><rect x="859.6" y="1296.2" width="26.3" height="26.3"/><rect x="885.9" y="1296.2" width="26.3" height="26.3"/><rect x="912.2" y="1296.2" width="26.3" height="26.3"/><rect x="938.5" y="1296.2" width="26.3" height="26.3"/><rect x="964.8" y="1296.2" width="26.3" height="26.3"/><rect x="991.1" y="1296.2" width="26.3" height="26.3"/><rect x="1017.4" y="1296.2" width="26.3" height="26.3"/><rect x="1043.8" y="1296.2" width="26.3" height="26.3"/><rect x="1070.1" y="1296.2" width="26.3" height="26.3"/><rect x="1096.4" y="1296.2" width="26.3" height="26.3"/><rect x="1122.7" y="1296.2" width="26.3" height="26.3"/><rect x="1175.3" y="1296.2" width="26.3" height="26.3"/><rect x="1201.6" y="1296.2" width="26.3" height="26.3"/><rect x="1227.9" y="1296.2" width="26.3" height="26.3"/><rect x="1254.2" y="1296.2" width="26.3" height="26.3"/><rect x="1280.5" y="1296.2" width="26.3" height="26.3"/><rect x="1306.9" y="1296.2" width="26.3" height="26.3"/><rect x="1333.2" y="1296.2" width="26.3" height="26.3"/><rect x="1359.5" y="1296.2" width="26.3" height="26.3"/><rect x="1385.8" y="1296.2" width="26.3" height="26.3"/><rect x="1412.1" y="1296.2" width="26.3" height="26.3"/><rect x="1438.4" y="1296.2" width="26.3" height="26.3"/><rect x="1464.7" y="1296.2" width="26.3" height="26.3"/><rect x="1491.0" y="1296.2" width="26.3" height="26.3"/><rect x="1517.3" y="1296.2" width="26.3" height="26.3"/><rect x="1543.6" y="1296.2" width="26.3" height="26.3"/><rect x="1570.0" y="1296.2" width="26.3" height="26.3"/><rect x="1596.3" y="1296.2" width="26.3" height="26.3"/><rect x="1622.6" y="1296.2" width="26.3" height="26.3"/><rect x="1648.9" y="1296.2" width="26.3" height="26.3"/><rect x="1675.2" y="1296.2" width="26.3" height="26.3"/><rect x="885.9" y="1322.5" width="26.3" height="26.3"/><rect x="912.2" y="1322.5" width="26.3" height="26.3"/><rect x="964.8" y="1322.5" width="26.3" height="26.3"/><rect x="991.1" y="1322.5" width="26.3" height="26.3"/><rect x="1017.4" y="1322.5" width="26.3" height="26.3"/><rect x="1043.8" y="1322.5" width="26.3" height="26.3"/><rect x="1175.3" y="1322.5" width="26.3" height="26.3"/><rect x="1201.6" y="1322.5" width="26.3" height="26.3"/><rect x="1227.9" y="1322.5" width="26.3" height="26.3"/><rect x="1254.2" y="1322.5" width="26.3" height="26.3"/><rect x="1280.5" y="1322.5" width="26.3" height="26.3"/><rect x="1306.9" y="1322.5" width="26.3" height="26.3"/><rect x="1333.2" y="1322.5" width="26.3" height="26.3"/><rect x="1359.5" y="1322.5" width="26.3" height="26.3"/><rect x="1385.8" y="1322.5" width="26.3" height="26.3"/><rect x="1412.1" y="1322.5" width="26.3" height="26.3"/><rect x="1438.4" y="1322.5" width="26.3" height="26.3"/><rect x="1464.7" y="1322.5" width="26.3" height="26.3"/><rect x="1491.0" y="1322.5" width="26.3" height="26.3"/><rect x="1517.3" y="1322.5" width="26.3" height="26.3"/><rect x="1543.6" y="1322.5" width="26.3" height="26.3"/><rect x="1570.0" y="1322.5" width="26.3" height="26.3"/><rect x="1596.3" y="1322.5" width="26.3" height="26.3"/><rect x="1622.6" y="1322.5" width="26.3" height="26.3"/><rect x="1648.9" y="1322.5" width="26.3" height="26.3"/><rect x="1227.9" y="1348.8" width="26.3" height="26.3"/><rect x="1254.2" y="1348.8" width="26.3" height="26.3"/><rect x="1280.5" y="1348.8" width="26.3" height="26.3"/><rect x="1306.9" y="1348.8" width="26.3" height="26.3"/><rect x="1333.2" y="1348.8" width="26.3" height="26.3"/><rect x="1359.5" y="1348.8" width="26.3" height="26.3"/><rect x="1385.8" y="1348.8" width="26.3" height="26.3"/><rect x="1412.1" y="1348.8" width="26.3" height="26.3"/><rect x="1438.4" y="1348.8" width="26.3" height="26.3"/><rect x="1464.7" y="1348.8" width="26.3" height="26.3"/><rect x="1491.0" y="1348.8" width="26.3" height="26.3"/><rect x="1517.3" y="1348.8" width="26.3" height="26.3"/><rect x="1543.6" y="1348.8" width="26.3" height="26.3"/><rect x="1570.0" y="1348.8" width="26.3" height="26.3"/><rect x="1596.3" y="1348.8" width="26.3" height="26.3"/><rect x="1622.6" y="1348.8" width="26.3" height="26.3"/><rect x="1648.9" y="1348.8" width="26.3" height="26.3"/><rect x="1201.6" y="1375.1" width="26.3" height="26.3"/><rect x="1227.9" y="1375.1" width="26.3" height="26.3"/><rect x="1254.2" y="1375.1" width="26.3" height="26.3"/><rect x="1280.5" y="1375.1" width="26.3" height="26.3"/><rect x="1306.9" y="1375.1" width="26.3" height="26.3"/><rect x="1333.2" y="1375.1" width="26.3" height="26.3"/><rect x="1359.5" y="1375.1" width="26.3" height="26.3"/><rect x="1385.8" y="1375.1" width="26.3" height="26.3"/><rect x="1412.1" y="1375.1" width="26.3" height="26.3"/><rect x="1438.4" y="1375.1" width="26.3" height="26.3"/><rect x="1464.7" y="1375.1" width="26.3" height="26.3"/><rect x="1491.0" y="1375.1" width="26.3" height="26.3"/><rect x="1517.3" y="1375.1" width="26.3" height="26.3"/><rect x="1543.6" y="1375.1" width="26.3" height="26.3"/><rect x="1570.0" y="1375.1" width="26.3" height="26.3"/><rect x="1596.3" y="1375.1" width="26.3" height="26.3"/><rect x="1622.6" y="1375.1" width="26.3" height="26.3"/><rect x="1648.9" y="1375.1" width="26.3" height="26.3"/><rect x="1201.6" y="1401.4" width="26.3" height="26.3"/><rect x="1227.9" y="1401.4" width="26.3" height="26.3"/><rect x="1254.2" y="1401.4" width="26.3" height="26.3"/><rect x="1280.5" y="1401.4" width="26.3" height="26.3"/><rect x="1306.9" y="1401.4" width="26.3" height="26.3"/><rect x="1333.2" y="1401.4" width="26.3" height="26.3"/><rect x="1359.5" y="1401.4" width="26.3" height="26.3"/><rect x="1385.8" y="1401.4" width="26.3" height="26.3"/><rect x="1412.1" y="1401.4" width="26.3" height="26.3"/><rect x="1438.4" y="1401.4" width="26.3" height="26.3"/><rect x="1464.7" y="1401.4" width="26.3" height="26.3"/><rect x="1491.0" y="1401.4" width="26.3" height="26.3"/><rect x="1517.3" y="1401.4" width="26.3" height="26.3"/><rect x="1543.6" y="1401.4" width="26.3" height="26.3"/><rect x="1570.0" y="1401.4" width="26.3" height="26.3"/><rect x="1596.3" y="1401.4" width="26.3" height="26.3"/><rect x="1622.6" y="1401.4" width="26.3" height="26.3"/><rect x="1201.6" y="1427.7" width="26.3" height="26.3"/><rect x="1227.9" y="1427.7" width="26.3" height="26.3"/><rect x="1254.2" y="1427.7" width="26.3" height="26.3"/><rect x="1280.5" y="1427.7" width="26.3" height="26.3"/><rect x="1306.9" y="1427.7" width="26.3" height="26.3"/><rect x="1333.2" y="1427.7" width="26.3" height="26.3"/><rect x="1359.5" y="1427.7" width="26.3" height="26.3"/><rect x="1385.8" y="1427.7" width="26.3" height="26.3"/><rect x="1412.1" y="1427.7" width="26.3" height="26.3"/><rect x="1438.4" y="1427.7" width="26.3" height="26.3"/><rect x="1464.7" y="1427.7" width="26.3" height="26.3"/><rect x="1491.0" y="1427.7" width="26.3" height="26.3"/><rect x="1517.3" y="1427.7" width="26.3" height="26.3"/><rect x="1543.6" y="1427.7" width="26.3" height="26.3"/><rect x="1570.0" y="1427.7" width="26.3" height="26.3"/><rect x="1596.3" y="1427.7" width="26.3" height="26.3"/><rect x="1622.6" y="1427.7" width="26.3" height="26.3"/><rect x="1648.9" y="1427.7" width="26.3" height="26.3"/><rect x="1280.5" y="1454.0" width="26.3" height="26.3"/><rect x="1306.9" y="1454.0" width="26.3" height="26.3"/><rect x="1333.2" y="1454.0" width="26.3" height="26.3"/><rect x="1359.5" y="1454.0" width="26.3" height="26.3"/><rect x="1385.8" y="1454.0" width="26.3" height="26.3"/><rect x="1412.1" y="1454.0" width="26.3" height="26.3"/><rect x="1438.4" y="1454.0" width="26.3" height="26.3"/><rect x="1464.7" y="1454.0" width="26.3" height="26.3"/><rect x="1491.0" y="1454.0" width="26.3" height="26.3"/><rect x="1517.3" y="1454.0" width="26.3" height="26.3"/><rect x="1543.6" y="1454.0" width="26.3" height="26.3"/><rect x="1570.0" y="1454.0" width="26.3" height="26.3"/><rect x="1596.3" y="1454.0" width="26.3" height="26.3"/><rect x="1622.6" y="1454.0" width="26.3" height="26.3"/><rect x="1648.9" y="1454.0" width="26.3" height="26.3"/><rect x="1675.2" y="1454.0" width="26.3" height="26.3"/><rect x="1333.2" y="1480.3" width="26.3" height="26.3"/><rect x="1359.5" y="1480.3" width="26.3" height="26.3"/><rect x="1385.8" y="1480.3" width="26.3" height="26.3"/><rect x="1412.1" y="1480.3" width="26.3" height="26.3"/><rect x="1438.4" y="1480.3" width="26.3" height="26.3"/><rect x="1464.7" y="1480.3" width="26.3" height="26.3"/><rect x="1491.0" y="1480.3" width="26.3" height="26.3"/><rect x="1517.3" y="1480.3" width="26.3" height="26.3"/><rect x="1543.6" y="1480.3" width="26.3" height="26.3"/><rect x="1570.0" y="1480.3" width="26.3" height="26.3"/><rect x="1596.3" y="1480.3" width="26.3" height="26.3"/><rect x="1622.6" y="1480.3" width="26.3" height="26.3"/><rect x="1648.9" y="1480.3" width="26.3" height="26.3"/><rect x="1675.2" y="1480.3" width="26.3" height="26.3"/><rect x="1701.5" y="1480.3" width="26.3" height="26.3"/><rect x="1359.5" y="1506.7" width="26.3" height="26.3"/><rect x="1385.8" y="1506.7" width="26.3" height="26.3"/><rect x="1412.1" y="1506.7" width="26.3" height="26.3"/><rect x="1438.4" y="1506.7" width="26.3" height="26.3"/><rect x="1464.7" y="1506.7" width="26.3" height="26.3"/><rect x="1491.0" y="1506.7" width="26.3" height="26.3"/><rect x="1517.3" y="1506.7" width="26.3" height="26.3"/><rect x="1543.6" y="1506.7" width="26.3" height="26.3"/><rect x="1570.0" y="1506.7" width="26.3" height="26.3"/><rect x="1596.3" y="1506.7" width="26.3" height="26.3"/><rect x="1622.6" y="1506.7" width="26.3" height="26.3"/><rect x="1675.2" y="1506.7" width="26.3" height="26.3"/><rect x="1701.5" y="1506.7" width="26.3" height="26.3"/><rect x="1412.1" y="1533.0" width="26.3" height="26.3"/><rect x="1438.4" y="1533.0" width="26.3" height="26.3"/><rect x="1464.7" y="1533.0" width="26.3" height="26.3"/><rect x="1491.0" y="1533.0" width="26.3" height="26.3"/><rect x="1517.3" y="1533.0" width="26.3" height="26.3"/><rect x="1543.6" y="1533.0" width="26.3" height="26.3"/><rect x="1570.0" y="1533.0" width="26.3" height="26.3"/><rect x="1596.3" y="1533.0" width="26.3" height="26.3"/><rect x="1622.6" y="1533.0" width="26.3" height="26.3"/><rect x="1648.9" y="1533.0" width="26.3" height="26.3"/><rect x="1675.2" y="1533.0" width="26.3" height="26.3"/><rect x="1701.5" y="1533.0" width="26.3" height="26.3"/><rect x="1412.1" y="1559.3" width="26.3" height="26.3"/><rect x="1438.4" y="1559.3" width="26.3" height="26.3"/><rect x="1464.7" y="1559.3" width="26.3" height="26.3"/><rect x="1491.0" y="1559.3" width="26.3" height="26.3"/><rect x="1517.3" y="1559.3" width="26.3" height="26.3"/><rect x="1543.6" y="1559.3" width="26.3" height="26.3"/><rect x="1570.0" y="1559.3" width="26.3" height="26.3"/><rect x="1596.3" y="1559.3" width="26.3" height="26.3"/><rect x="1622.6" y="1559.3" width="26.3" height="26.3"/><rect x="1648.9" y="1559.3" width="26.3" height="26.3"/><rect x="1675.2" y="1559.3" width="26.3" height="26.3"/><rect x="1701.5" y="1559.3" width="26.3" height="26.3"/><rect x="1491.0" y="1585.6" width="26.3" height="26.3"/><rect x="1517.3" y="1585.6" width="26.3" height="26.3"/><rect x="1543.6" y="1585.6" width="26.3" height="26.3"/><rect x="1570.0" y="1585.6" width="26.3" height="26.3"/><rect x="1596.3" y="1585.6" width="26.3" height="26.3"/><rect x="1622.6" y="1585.6" width="26.3" height="26.3"/><rect x="1648.9" y="1585.6" width="26.3" height="26.3"/><rect x="1701.5" y="1585.6" width="26.3" height="26.3"/><rect x="1491.0" y="1611.9" width="26.3" height="26.3"/><rect x="1517.3" y="1611.9" width="26.3" height="26.3"/><rect x="1543.6" y="1611.9" width="26.3" height="26.3"/><rect x="1570.0" y="1611.9" width="26.3" height="26.3"/><rect x="1596.3" y="1611.9" width="26.3" height="26.3"/><rect x="1622.6" y="1611.9" width="26.3" height="26.3"/><rect x="1648.9" y="1611.9" width="26.3" height="26.3"/><rect x="1675.2" y="1611.9" width="26.3" height="26.3"/><rect x="1491.0" y="1638.2" width="26.3" height="26.3"/><rect x="1517.3" y="1638.2" width="26.3" height="26.3"/><rect x="1543.6" y="1638.2" width="26.3" height="26.3"/><rect x="1570.0" y="1638.2" width="26.3" height="26.3"/></g>
</g>
<g fill="none" stroke="#000" stroke-width="3.3" stroke-linejoin="round" stroke-linecap="round">
<path d="M149.1,482.2 155.4,496.5 158.1,503.3 158.9,512.7 163.5,539.7 161.6,543.8 164.3,550.5 171.6,555.9 177.8,558.1 178.3,568.1 182.4,576.2 189.1,591.0 182.4,594.3 180.5,600.5 172.4,607.2 168.0,612.1 175.6,614.0 177.0,628.9 175.1,635.6 175.1,637.0 178.3,650.5 171.6,661.3 179.7,664.0 183.7,677.5 187.8,687.8 197.2,687.0 202.6,682.4 208.0,688.3 224.2,688.3 228.3,692.4 228.3,703.2 233.7,712.6 243.1,719.4 245.8,728.8 253.9,735.6 258.0,753.1 264.7,758.5 271.5,761.2 285.0,757.2 289.0,763.9 294.4,769.9 303.9,769.3 309.3,778.0 313.3,778.8 314.7,771.5 320.1,769.3 323.6,762.6 324.1,753.1 330.9,750.4 328.2,743.7 333.6,738.3 343.0,737.5 366.0,722.9 372.7,722.9 375.4,718.6 383.5,716.7 394.3,722.1 405.1,715.3 407.8,707.2 413.2,712.1 426.7,709.9 438.9,735.6 444.3,750.4 448.3,753.1 445.1,758.5 453.7,765.3 451.0,768.0 469.9,768.0 476.7,777.4 474.0,784.2 478.0,793.6 467.2,799.0 466.7,809.8 470.5,815.2 468.6,820.6 474.0,827.4 474.0,834.1 480.7,844.9 483.4,853.0 481.6,860.0 485.0,868.2 482.9,877.7 484.3,887.2 482.9,895.4 486.3,903.5 493.1,907.6 501.3,910.3 506.0,917.1 513.5,918.5 521.0,920.5 524.4,926.6 527.8,930.0 535.3,925.9 543.4,923.9 551.6,921.2 555.7,917.1 559.7,919.1 563.1,918.5 565.2,910.3 570.6,904.9 574.0,900.1 581.5,903.5 586.9,902.8 592.4,905.5 595.1,908.9 593.0,914.4 586.9,919.8 584.2,925.3 585.6,933.4 593.0,930.0 597.1,928.0 603.9,928.7 607.3,926.6 614.1,925.9 618.2,923.9 623.0,930.7 627.7,931.4 635.2,927.3 641.3,935.5 646.8,940.2 649.5,947.0 652.9,952.5 657.6,953.1 661.7,957.9 661.7,961.3 659.7,965.4 664.4,970.1 664.4,982.4 666.5,996.0 665.8,1005.5 662.4,1012.3 658.3,1018.4 659.0,1022.5 662.4,1024.5 663.1,1031.3 661.7,1036.8 667.1,1042.9 665.8,1047.6 671.2,1054.4 675.3,1059.9 678.7,1063.9 681.4,1069.4 686.9,1068.7 685.5,1062.6 689.6,1063.9 692.3,1063.3 691.6,1053.1 694.3,1046.3 694.3,1039.5 699.8,1035.4 706.6,1036.8 710.7,1033.4 717.5,1032.7 723.6,1034.7 727.7,1031.3 731.1,1033.4 731.1,1039.5 735.1,1038.8 736.5,1033.4 744.6,1032.7 750.1,1035.4 752.1,1040.8 758.2,1044.2 763.7,1043.6 767.1,1042.9 767.8,1049.7 765.0,1052.4 773.2,1053.1 780.0,1050.4 802.0,1036.5 803.3,1042.6 807.4,1038.6 811.5,1042.0 815.6,1037.2 824.4,1035.2 826.4,1031.1 830.5,1029.7 834.6,1035.2 836.0,1040.6 842.8,1044.0 844.8,1048.1 849.6,1050.8 853.6,1056.9 856.4,1059.6 855.7,1065.7 863.8,1063.7 870.0,1070.5 874.0,1071.2 876.8,1077.3 877.4,1083.4 875.4,1090.2 881.5,1092.3 882.2,1098.4 881.5,1103.8 889.7,1105.2 895.8,1103.1 897.1,1097.0 893.1,1092.3 888.3,1090.9 890.4,1084.8 895.8,1081.4 900.5,1084.8 901.9,1090.2 913.5,1091.6 917.5,1095.7 922.3,1103.8 920.3,1110.6 910.1,1116.7 903.9,1121.5 899.9,1131.0 889.0,1135.8 890.4,1143.2 893.8,1147.3 890.4,1160.9 887.6,1166.4 891.0,1169.1 890.4,1175.2 882.9,1180.6 880.8,1188.1 877.4,1192.9 880.8,1197.0 890.4,1199.0 891.7,1194.2 912.1,1193.6 913.5,1205.8 910.1,1213.9 916.2,1216.7 914.8,1222.1 923.0,1230.0 923.9,1233.8 926.6,1241.9 922.5,1247.3 911.7,1251.4 906.3,1256.8 899.6,1258.9 894.2,1256.8 882.0,1277.0 881.5,1282.4 886.1,1289.2 894.2,1293.2 892.8,1300.0 884.7,1309.4 887.4,1312.1 896.9,1309.4 906.3,1313.5 910.4,1317.5 909.0,1325.6 926.6,1323.5 938.7,1318.9 957.6,1318.3 963.0,1315.4 975.2,1320.2 983.3,1327.8 996.8,1326.2 1002.2,1331.0 1008.9,1330.2 1027.8,1338.6 1044.0,1331.8 1058.9,1331.0 1064.3,1327.0 1072.4,1316.2 1081.8,1314.8 1091.3,1305.4 1106.1,1302.1 1115.6,1301.3 1144.0,1294.6 1141.3,1287.8 1140.7,1273.0 1144.5,1260.8 1146.7,1254.1 1144.0,1250.0 1138.0,1243.3 1141.3,1239.2 1146.1,1224.4 1152.1,1220.3 1171.5,1210.9 1170.4,1204.1 1175.0,1201.4 1176.4,1192.0 1191.2,1185.2 1199.3,1178.5 1204.7,1168.2 1207.4,1175.8 1215.5,1179.8 1230.4,1179.3 1232.5,1186.6 1239.8,1190.6 1230.4,1197.4 1226.3,1206.8 1229.0,1213.6 1227.7,1220.3 1229.6,1225.7 1226.3,1227.1 1223.6,1221.7 1219.6,1219.0 1214.2,1224.4 1213.6,1240.6 1204.7,1243.3 1203.4,1248.7 1208.8,1251.4 1210.1,1258.1 1214.2,1260.8 1212.8,1266.2 1204.7,1273.0 1202.0,1279.7 1203.4,1286.5 1200.7,1294.6 1198.0,1301.3 1191.2,1306.7 1190.4,1317.5 1191.2,1322.4 1200.0,1324.5 1208.1,1328.6 1216.2,1328.6 1220.3,1335.3 1223.0,1341.2 1233.8,1348.8 1237.3,1359.6 1233.8,1367.7 1227.0,1378.5 1223.0,1389.3 1218.4,1389.3 1220.3,1402.8 1225.7,1408.2 1228.4,1417.7 1231.1,1425.8 1225.7,1429.8 1223.0,1440.6 1220.3,1443.3 1227.0,1446.0 1229.7,1443.3 1244.6,1448.7 1258.1,1446.0 1264.8,1442.0 1267.0,1437.4 1278.3,1436.6 1289.1,1437.4 1293.2,1448.7 1302.6,1455.5 1317.5,1460.9 1321.5,1466.3 1332.3,1462.8 1340.4,1474.4 1347.2,1485.2 1349.9,1491.9 1350.7,1501.4 1358.8,1501.4 1363.4,1496.0 1368.8,1501.4 1369.6,1514.9 1386.3,1513.0 1389.0,1512.2 1393.9,1518.9 1401.2,1516.8 1406.6,1520.3 1413.3,1513.5 1418.7,1512.2 1426.8,1523.0 1437.6,1531.1 1449.8,1543.2 1441.7,1550.0 1437.1,1558.1 1437.1,1566.2 1440.3,1574.3 1445.7,1571.6 1452.5,1570.2 1456.0,1559.4 1467.3,1564.8 1480.8,1570.2 1490.3,1579.7 1495.7,1586.4 1499.7,1601.3 1502.4,1605.3 1508.6,1606.7 1501.9,1617.5 1513.2,1626.9 1513.8,1635.0 1505.1,1641.8 1513.2,1648.5 1513.8,1655.3 1517.3,1657.5 1522.7,1649.9 1537.5,1647.2 1549.7,1643.1 1552.4,1636.4 1557.8,1633.2 1576.7,1637.7 1580.7,1647.2 1583.4,1648.5 1587.5,1640.4 1586.1,1633.7 1591.6,1625.6 1599.7,1617.5 1607.8,1614.8 1618.6,1618.8 1626.7,1624.2 1637.5,1621.5 1641.5,1619.4 1644.2,1624.2 1651.0,1621.5 1653.1,1609.4 1659.1,1605.3 1668.5,1613.4 1680.7,1617.5 1691.5,1612.1 1695.5,1604.0 1703.6,1598.6 1706.3,1594.5 1705.5,1586.4 1699.6,1587.8 1694.2,1582.4 1702.3,1577.0 1709.0,1570.2 1710.4,1560.8 1713.1,1555.4 1719.8,1551.3 1719.8,1543.2 1721.2,1533.8 1723.9,1531.1 1718.5,1527.0 1705.0,1523.0 1700.9,1518.9 1702.3,1510.8 1711.7,1498.7 1706.3,1493.3 1705.0,1487.9 1700.9,1485.2 1690.1,1489.2 1682.0,1487.9 1684.7,1470.3 1680.7,1467.6 1673.9,1454.1 1667.2,1443.3 1664.5,1435.2 1648.3,1439.3 1645.6,1429.8 1644.2,1416.3 1640.2,1405.5 1644.2,1400.1 1648.3,1392.0 1645.6,1382.6 1656.4,1382.6 1660.4,1377.2 1656.4,1369.1 1637.5,1361.8 1642.9,1354.2 1649.6,1348.8 1651.0,1339.4 1655.8,1329.9 1654.2,1321.8 1656.4,1315.1 1669.9,1313.2 1672.6,1311.0 1673.5,1306.2 1684.3,1301.3 1685.1,1293.8 1677.0,1287.8 1675.4,1277.0 1680.8,1273.0 1687.0,1271.1 1693.7,1265.7 1692.4,1259.5 1696.4,1255.4 1697.8,1250.0 1691.0,1243.3 1692.4,1236.5 1699.1,1229.8 1705.9,1227.9 1705.9,1220.3 1709.4,1210.9 1709.9,1202.8 1714.0,1198.2 1720.0,1196.4 1731.1,1191.2 1739.7,1188.2 1738.5,1185.3 1739.7,1179.3 1738.5,1174.1 1742.6,1171.2 1740.4,1166.0 1740.4,1159.3 1742.3,1157.1 1749.7,1156.3 1758.6,1155.2 1764.5,1152.6 1769.0,1150.4 1771.2,1155.6 1771.9,1163.0 1776.4,1167.5 1784.5,1171.2 1787.5,1171.6 1791.2,1169.0 1795.7,1167.5 1794.9,1160.1 1797.1,1157.5 1801.6,1159.3 1804.6,1158.6 1809.0,1160.1 1814.2,1164.5 1812.4,1169.0 1816.4,1172.7 1812.0,1177.9 1810.9,1183.1 1815.7,1183.8 1819.4,1188.2 1822.4,1188.2 1823.8,1185.3 1827.6,1183.8 1830.9,1179.3 1830.5,1173.4 1828.3,1171.9 1824.6,1174.1 1820.1,1169.7 1825.3,1168.2 1826.8,1163.8 1823.8,1159.3 1825.3,1154.9 1827.6,1152.6 1829.8,1156.3 1832.7,1156.3 1835.7,1151.9 1843.1,1151.9 1847.2,1149.3 1846.1,1144.5 1844.6,1139.3 1845.4,1132.6 1843.1,1127.4 1840.2,1123.0 1834.2,1120.7 1839.6,1111.0 1849.0,1108.3 1851.7,1101.5 1855.8,1096.6 1869.3,1090.7 1880.1,1086.7 1886.8,1085.3 1893.6,1077.2 1890.3,1073.2 1890.9,1066.4 1896.3,1055.6 1899.0,1047.0 1909.8,1044.3 1912.5,1047.5 1925.4,1057.0 1926.0,1052.9 1935.4,1046.2 1946.2,1043.5 1946.2,1034.0 1942.2,1030.4 1930.0,1023.7 1923.3,1011.5 1915.2,1002.1 1920.6,994.0 1926.0,983.1 1927.3,969.6 1930.0,958.8 1927.3,948.0 1919.2,948.0 1912.5,941.3 1912.5,927.8 1916.5,923.7 1907.1,921.0 1896.3,914.3 1885.5,916.2 1878.7,912.9 1869.3,914.3 1857.9,919.7 1853.1,910.2 1843.1,900.0 1840.8,898.7 1839.3,896.5 1843.1,894.2 1843.8,889.8 1841.6,887.6 1835.3,886.8 1834.9,877.9 1832.7,874.2 1839.3,868.3 1846.0,865.3 1846.8,860.9 1854.2,854.9 1856.4,849.7 1863.1,851.2 1866.4,843.8 1866.0,838.6 1872.0,834.1 1875.7,829.0 1877.2,824.5 1874.2,821.9 1860.1,823.8 1852.7,819.7 1845.3,820.1 1840.1,820.1 1838.6,823.0 1834.9,826.0 1831.9,823.8 1834.9,821.5 1833.4,818.6 1827.5,812.6 1828.2,811.2 1835.3,809.7 1834.9,804.5 1829.0,800.8 1826.0,796.3 1826.1,791.4 1818.0,782.0 1815.3,775.2 1807.2,761.7 1803.1,754.2 1785.6,755.0 1769.4,751.5 1765.3,756.3 1767.2,749.6 1766.7,738.8 1755.9,730.7 1738.3,731.2 1728.9,727.4 1708.6,733.4 1699.1,734.7 1697.8,729.3 1695.1,722.6 1677.5,732.0 1674.8,726.6 1668.1,730.7 1660.0,732.0 1653.2,722.6 1647.8,723.9 1643.8,713.7 1637.0,715.8 1628.9,723.9 1627.6,732.0 1623.5,734.7 1620.8,740.1 1606.0,737.4 1601.9,735.3 1600.6,730.7 1607.3,722.6 1608.7,713.1 1604.6,703.7 1607.9,699.1 1606.0,693.7 1599.2,691.5 1587.1,686.1 1585.7,679.4 1581.1,669.9 1580.3,659.1 1583.0,648.3 1596.5,642.9 1599.2,638.9 1606.0,632.1 1608.7,620.8 1614.9,623.2 1619.5,620.0 1620.8,607.8 1628.4,597.0 1626.8,594.8 1633.8,589.4 1626.2,584.0 1618.1,588.0 1615.4,583.4 1621.4,575.9 1623.0,571.8 1627.6,570.5 1630.3,565.1 1637.6,557.0 1636.5,547.5 1641.1,539.4 1639.7,535.3 1633.0,534.0 1631.6,529.9 1637.8,517.8 1639.2,509.2 1647.8,512.4 1651.9,509.7 1649.2,502.4 1653.8,497.5 1648.6,490.0 1654.6,485.4 1662.7,487.3 1666.7,481.3 1664.0,475.9 1657.3,475.4 1653.8,471.9 1655.9,466.5 1661.3,459.7 1669.4,457.6 1671.6,451.6 1676.2,448.4 1668.1,442.2 1665.4,435.4 1660.8,430.8 1655.9,437.6 1651.9,436.0 1645.1,440.8 1639.2,443.5 1639.2,436.8 1634.9,434.9 1637.0,430.0 1639.2,424.1 1635.7,420.6 1631.1,420.6 1624.3,416.0 1622.2,418.7 1612.7,420.6 1607.3,423.3 1599.2,420.6 1592.5,421.9 1584.4,421.4 1579.8,415.2 1581.1,410.6 1539.0,394.4 1536.3,376.0 1536.6,361.2 1529.0,355.8 1520.4,346.3 1517.7,340.9 1502.8,337.4 1499.3,344.2 1493.9,349.0 1483.9,351.2 1482.6,355.0 1479.1,355.8 1472.3,365.8 1439.9,356.6 1436.7,365.8 1425.9,365.8 1417.5,367.4 1401.6,363.1 1390.5,367.9 1384.6,362.0 1392.1,335.5 1372.9,322.8 1360.3,327.4 1354.9,332.3 1342.2,328.8 1340.0,304.5 1331.6,293.7 1312.7,271.3 1328.1,243.7 1315.4,214.8 1301.5,214.8 1297.6,210.0 1298.3,205.8 1295.9,203.3 1289.6,207.9 1284.7,214.1 1283.3,219.7 1285.1,226.0 1282.3,230.2 1281.3,235.1 1263.1,251.1 1249.9,267.8 1247.1,270.6 1243.6,272.0 1242.2,269.9 1239.1,266.8 1238.7,262.9 1235.3,258.4 1231.8,258.0 1226.9,255.6 1222.7,256.3 1220.6,259.4 1217.8,260.5 1215.1,258.0 1210.2,257.7 1206.0,256.7 1193.4,259.1 1183.0,261.5 1176.0,257.4 1174.3,253.2 1173.6,245.9 1178.1,244.5 1181.6,244.5 1184.4,246.6 1190.7,246.6 1196.2,249.0 1204.6,253.2 1201.8,249.7 1200.1,241.3 1199.4,232.3 1203.6,226.3 1206.0,227.4 1208.1,224.6 1204.6,223.2 1206.0,214.8 1207.0,207.9 1201.1,207.5 1197.3,205.8 1195.5,198.5 1186.5,194.3 1180.9,195.7 1179.2,192.2 1176.0,191.1 1169.1,193.6 1165.2,196.0 1163.5,200.9 1160.0,203.7 1156.1,207.3 1150.7,216.7 1144.0,219.4 1139.9,228.9 1127.2,235.6 1129.1,248.3 1119.7,249.1 1115.6,252.4 1111.6,249.1 1085.9,244.3 1067.5,251.3 1065.1,232.4 1073.7,215.4 1069.7,207.8 1044.0,211.3 1040.0,210.8 1035.9,215.4 1025.1,218.1 996.0,232.9 1003.5,237.0 1003.5,246.4 998.1,253.2 1002.2,261.3 1010.3,272.1 1020.3,286.9 1019.7,293.7 1014.3,293.7 999.5,301.2 990.0,299.9 978.7,299.1 975.2,284.2 921.2,286.9 923.9,295.0 933.3,302.6 898.2,346.3 871.2,366.6 849.6,382.2 840.2,384.1 838.3,381.4 834.8,383.6 829.4,381.4 814.5,390.9 811.8,396.3 805.9,397.1 803.7,401.7 791.6,405.2 789.7,400.3 783.5,401.7 783.5,407.9 775.4,412.5 769.1,413.8 764.6,407.9 771.8,401.1 770.0,397.6 756.5,405.2 747.0,404.4 740.3,407.1 734.9,404.4 732.2,406.3 727.6,403.0 724.9,397.6 724.9,384.1 728.1,372.8 720.0,367.9 713.0,368.3 708.9,362.9 694.1,359.6 683.3,358.0 679.2,354.8 675.2,354.8 665.7,347.5 656.3,348.0 634.1,335.9 632.0,341.3 629.3,348.8 621.2,342.6 617.1,345.9 611.7,346.7 609.0,351.3 605.5,348.0 599.6,348.8 605.0,378.5 568.5,381.8 559.1,378.3 557.7,372.3 553.7,368.3 546.9,366.4 540.7,358.3 535.3,355.6 538.0,348.0 531.0,340.5 536.1,336.7 528.0,327.0 540.7,312.4 535.3,303.5 536.1,295.4 530.7,285.4 526.7,288.1 494.3,296.7 478.0,302.6 469.9,297.2 467.8,300.8 464.5,292.7 448.3,291.3 440.8,298.9 442.4,303.5 441.6,310.7 434.8,317.0 413.2,325.9 397.0,333.2 359.2,358.8 329.0,378.8 324.1,378.3 321.4,382.6 299.8,397.4 272.8,415.5 248.5,430.4 232.3,437.7 226.9,441.2 209.4,448.5 186.4,461.4 181.0,466.8 149.1,482.2Z"/>
<path d="M285.0,757.2 283.6,745.0 287.7,741.0 282.3,735.6 286.3,731.5 297.1,728.8 299.8,732.9 307.9,734.2 316.0,732.1 317.4,727.5 337.6,719.4 339.0,716.7 333.6,708.6 328.2,705.0 339.0,701.8 356.5,693.7 363.3,696.9 361.4,705.9 363.3,715.3 370.0,717.5 366.0,722.9"/>
<path d="M438.9,735.6 441.6,735.6 459.1,728.8 472.6,738.3 488.9,739.6 497.0,737.5 505.1,751.8 506.4,759.9 522.6,769.3 526.7,757.2 540.2,754.5 544.2,745.0 556.4,741.0 559.1,736.4 567.2,732.9 568.5,726.1 572.6,731.5 586.1,735.6 605.0,731.0 609.0,742.3 607.1,754.5 614.4,753.7 619.8,757.7 637.4,755.3 645.5,761.8 653.6,761.8 654.1,749.1 663.0,741.0 669.8,727.5 684.6,720.7 687.3,728.8 704.9,724.0 707.6,722.1 714.3,739.6 720.0,743.7 732.2,742.8 736.2,746.9 744.3,749.6 753.8,743.6 765.9,742.8 772.7,753.1 768.6,772.5 775.4,777.9 778.9,785.5 786.2,784.1 792.9,787.4 805.9,787.4 814.5,789.3 824.0,781.2 832.1,785.2 844.2,777.9 846.9,783.9 853.7,772.0 860.4,771.2 865.8,775.8 871.2,768.5 875.3,771.2 884.7,766.6 887.4,759.0 895.5,760.4 900.4,765.8 905.0,774.7 917.1,774.4 926.6,782.0 933.3,788.2 941.4,780.6 949.5,781.4 955.5,784.7 963.0,780.6 966.3,765.8 971.1,763.1 971.9,757.7 976.5,756.3 983.3,769.3 992.7,767.9 993.5,759.0 1003.5,756.3 1017.0,753.6 1023.8,749.6 1034.6,740.9 1040.0,742.8 1049.4,739.3 1051.6,744.2 1049.4,749.6 1054.8,753.6 1058.9,759.0 1063.5,760.4 1067.0,756.3 1065.6,751.5 1079.1,745.5 1083.2,746.9 1089.9,737.4 1096.7,734.2 1098.0,738.8 1099.4,748.2 1102.1,750.4 1111.6,748.8 1117.0,748.2 1123.7,741.5 1123.7,737.4 1117.0,726.6 1119.7,715.8 1118.3,707.7 1125.1,711.8 1135.9,711.8 1144.0,715.0 1152.1,711.8 1156.1,705.8 1168.3,701.0 1176.4,705.0 1185.8,707.2 1191.2,711.8 1198.0,722.6 1207.4,723.9 1208.2,733.4 1214.2,730.7 1222.3,732.0 1231.7,732.0 1237.1,726.6 1241.2,730.7 1241.2,742.8 1249.3,748.2 1260.1,744.2 1269.5,732.0 1276.3,728.5 1284.4,730.7 1293.8,741.5 1306.0,750.4 1306.5,760.4 1316.8,772.5 1328.9,776.6 1334.3,772.5 1340.0,773.9 1350.8,780.6 1358.9,782.0 1367.0,776.6 1366.5,768.5 1362.1,764.4 1365.7,761.2 1373.8,764.4 1383.2,761.7 1392.7,762.3 1395.4,759.0 1396.7,765.8 1404.8,766.6 1411.6,759.0 1415.6,756.9 1425.1,762.3 1426.4,765.8 1429.1,759.0 1446.7,744.2 1458.8,745.0 1464.2,742.8 1468.3,752.3 1479.1,762.3 1487.2,760.4 1495.3,761.7 1497.4,750.9 1502.0,748.8 1506.1,759.0 1516.9,753.1 1526.3,746.9 1526.3,737.4 1534.4,733.4 1541.2,732.0 1547.9,729.3 1554.7,722.6 1564.1,719.9 1569.5,714.5 1577.6,713.1 1584.4,707.7 1587.1,699.6 1599.2,697.5 1606.0,696.9"/>
<path d="M1628.4,732.0 1630.3,740.1 1639.7,737.4 1653.2,745.5 1664.0,763.1 1677.5,761.7 1688.3,760.4 1695.1,765.8 1707.2,746.9 1701.8,738.8 1699.1,734.7"/>
<path d="M1006.8,624.0 1013.0,626.2 1014.3,630.8 1018.4,633.5 1019.7,638.9 1018.4,641.6 1022.4,648.3 1018.4,652.4 1015.7,657.8 1019.7,661.8 1026.5,665.9 1034.6,669.9 1037.3,678.0 1038.6,684.8 1041.9,692.9 1033.2,695.6 1029.2,701.0 1034.6,703.7 1044.0,712.6 1027.8,720.7 998.7,734.2 995.4,729.3 979.2,726.6 972.5,722.6 968.4,715.8 967.1,709.1 960.3,705.0 961.1,699.1 953.6,701.8 941.4,698.3 940.1,694.2 933.3,692.9 937.4,688.8 938.7,682.1 950.9,678.0 952.8,667.2 949.5,660.5 954.9,652.4 959.0,648.3 957.1,642.9 965.7,638.9 973.8,632.6 986.0,632.6 995.4,636.2 999.5,628.1 1006.8,624.0Z"/>
<path d="M1606.0,733.4 1618.1,728.8 1622.2,734.7 1620.8,740.1 1606.0,737.4Z"/>
<path d="M1829.0,800.0 1834.9,795.9 1839.3,795.6 1842.3,799.3 1840.1,803.0 1835.6,806.0 1834.9,804.5Z"/>
<path d="M1835.3,809.7 1837.9,813.8 1852.7,813.4 1854.9,808.2 1857.1,806.0 1860.1,807.4 1863.8,812.6 1872.0,810.4 1874.9,812.6 1879.4,820.8 1877.2,824.5"/>
<path d="M1863.1,851.2 1862.3,858.6 1861.6,867.5 1857.1,871.2 1856.4,875.7 1851.2,874.9 1849.0,879.4 1849.0,883.1 1844.5,886.8 1843.8,889.8"/>
</g>
<path d="M1252.7,226.0 1256.9,226.7 1259.3,229.5 1257.6,235.1 1253.4,238.5 1253.7,244.1 1250.6,246.9 1247.1,245.9 1240.8,242.4 1242.9,239.2 1241.5,233.7 1246.4,231.6 1252.0,229.5Z" fill="#000" stroke="#000" stroke-width="2" stroke-linejoin="round"/><g fill="#000"><circle cx="1230.0" cy="249.9" r="1.9"/><circle cx="1205.2" cy="232.3" r="1.5"/><circle cx="1249.2" cy="261.5" r="2.6"/><circle cx="1207.4" cy="224.9" r="2.2"/></g>
<text y="110.2" font-size="48.0" font-weight="bold" stroke="#000" stroke-width="1.5" stroke-linejoin="miter"><tspan x="493.6" textLength="143.3" lengthAdjust="spacingAndGlyphs">Trend</tspan> <tspan x="652.0" textLength="139.1" lengthAdjust="spacingAndGlyphs">PM10</tspan> <tspan x="807.4" textLength="170.3" lengthAdjust="spacingAndGlyphs">annual</tspan> <tspan x="991.8" textLength="135.0" lengthAdjust="spacingAndGlyphs">mean</tspan> <tspan x="1144.0" textLength="344.2" lengthAdjust="spacingAndGlyphs">concentration</tspan> <tspan x="1504.4" textLength="242.1" lengthAdjust="spacingAndGlyphs">(Belgium,</tspan> <tspan x="1758.8" textLength="298.5" lengthAdjust="spacingAndGlyphs">1997-2023)</tspan></text>
<text y="1298.8" font-size="52.0"><tspan x="1902.4" textLength="47.8" lengthAdjust="spacingAndGlyphs">%</tspan> <tspan x="1965.2" textLength="157.5" lengthAdjust="spacingAndGlyphs">change</tspan> <tspan x="2136.2" textLength="71.5" lengthAdjust="spacingAndGlyphs">per</tspan> <tspan x="2224.2" textLength="93.6" lengthAdjust="spacingAndGlyphs">year</tspan></text>
<text y="1372.4" font-size="52.5"><tspan x="2007.0" textLength="115.8" lengthAdjust="spacingAndGlyphs">-3,50</tspan> <tspan x="2139.0" textLength="45.4" lengthAdjust="spacingAndGlyphs">%</tspan> <tspan x="2201.6" textLength="26.7" lengthAdjust="spacingAndGlyphs">–</tspan> <tspan x="2244.8" textLength="114.0" lengthAdjust="spacingAndGlyphs">-3,00</tspan> <tspan x="2375.0" textLength="46.9" lengthAdjust="spacingAndGlyphs">%</tspan></text>
<text y="1448.9" font-size="52.5"><tspan x="2007.0" textLength="115.8" lengthAdjust="spacingAndGlyphs">-3,00</tspan> <tspan x="2139.0" textLength="45.4" lengthAdjust="spacingAndGlyphs">%</tspan> <tspan x="2201.6" textLength="26.7" lengthAdjust="spacingAndGlyphs">–</tspan> <tspan x="2244.8" textLength="114.0" lengthAdjust="spacingAndGlyphs">-2,50</tspan> <tspan x="2375.0" textLength="46.9" lengthAdjust="spacingAndGlyphs">%</tspan></text>
<text y="1525.4" font-size="52.5"><tspan x="2007.0" textLength="115.8" lengthAdjust="spacingAndGlyphs">-2,50</tspan> <tspan x="2139.0" textLength="45.4" lengthAdjust="spacingAndGlyphs">%</tspan> <tspan x="2201.6" textLength="26.7" lengthAdjust="spacingAndGlyphs">–</tspan> <tspan x="2244.8" textLength="114.0" lengthAdjust="spacingAndGlyphs">-2,00</tspan> <tspan x="2375.0" textLength="46.9" lengthAdjust="spacingAndGlyphs">%</tspan></text>
<text y="1601.9" font-size="52.5"><tspan x="2007.0" textLength="115.8" lengthAdjust="spacingAndGlyphs">-2,00</tspan> <tspan x="2139.0" textLength="45.4" lengthAdjust="spacingAndGlyphs">%</tspan> <tspan x="2201.6" textLength="26.7" lengthAdjust="spacingAndGlyphs">–</tspan> <tspan x="2244.8" textLength="114.0" lengthAdjust="spacingAndGlyphs">-1,50</tspan> <tspan x="2375.0" textLength="46.9" lengthAdjust="spacingAndGlyphs">%</tspan></text>
<text y="1573.7" font-size="52.0"><tspan x="308.4" textLength="27.0" lengthAdjust="spacingAndGlyphs">0</tspan> <tspan x="459.0" textLength="55.7" lengthAdjust="spacingAndGlyphs">25</tspan> <tspan x="623.6" textLength="55.3" lengthAdjust="spacingAndGlyphs">50</tspan> <tspan x="787.8" textLength="54.5" lengthAdjust="spacingAndGlyphs">75</tspan> <tspan x="939.2" textLength="79.8" lengthAdjust="spacingAndGlyphs">100</tspan> <tspan x="1035.0" textLength="69.3" lengthAdjust="spacingAndGlyphs">km</tspan></text>
<text y="1557.8" font-size="27.5" stroke="#000" stroke-width="0.7"><tspan x="186.3" textLength="17.7" lengthAdjust="spacingAndGlyphs">N</tspan></text>
<rect x="1902.6" y="1328.6" width="82.9" height="46.9" fill="#08306b"/>
<rect x="1902.6" y="1405.3" width="82.9" height="46.9" fill="#3e8ec4"/>
<rect x="1902.6" y="1482.0" width="82.9" height="46.9" fill="#afd1e7"/>
<rect x="1902.6" y="1558.7" width="82.9" height="46.9" fill="#f7fbff"/>
<g stroke="#000" stroke-width="3.2"><rect x="321.80" y="1608.60" width="164.57" height="17.85" fill="#000"/><rect x="321.80" y="1626.45" width="164.57" height="18.05" fill="#fff"/><rect x="486.38" y="1608.60" width="164.57" height="17.85" fill="#fff"/><rect x="486.38" y="1626.45" width="164.57" height="18.05" fill="#000"/><rect x="650.95" y="1608.60" width="164.57" height="17.85" fill="#000"/><rect x="650.95" y="1626.45" width="164.57" height="18.05" fill="#fff"/><rect x="815.52" y="1608.60" width="164.57" height="17.85" fill="#fff"/><rect x="815.52" y="1626.45" width="164.57" height="18.05" fill="#000"/></g>
<path d="M195.5,1559 L161.2,1645.4 L195.5,1611.7 Z" fill="url(#hatch)" stroke="#000" stroke-width="1.2" stroke-linejoin="miter"/><path d="M195.5,1559 L229.6,1645.4 L195.5,1611.7 Z" fill="#fff" stroke="#000" stroke-width="1.2" stroke-linejoin="miter"/></svg></body></html>
